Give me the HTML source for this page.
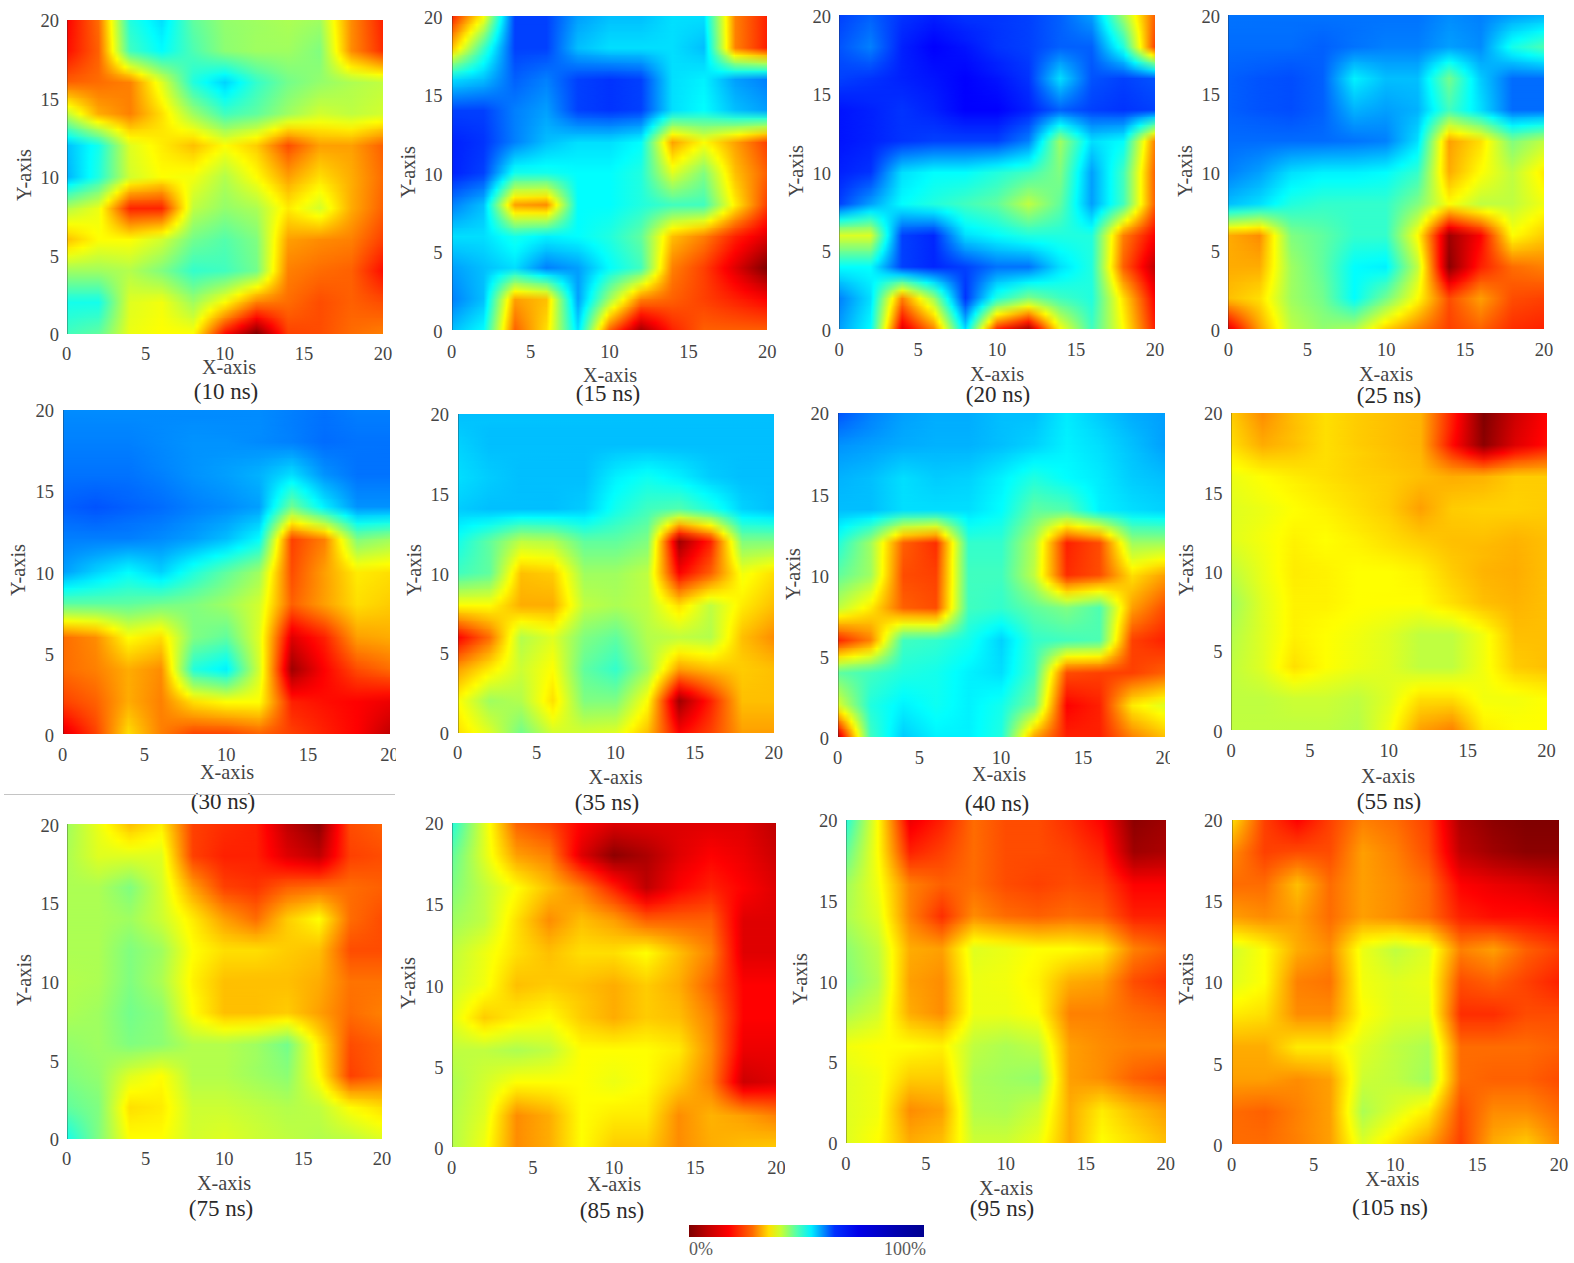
<!DOCTYPE html><html><head><meta charset="utf-8"><title>heatmaps</title><style>
html,body{margin:0;padding:0;background:#fff}
body{width:1574px;height:1263px;position:relative;overflow:hidden;font-family:"Liberation Serif",serif;color:#444}
.hm{position:absolute;overflow:hidden}
.hm b{position:absolute;left:0;top:0;width:1px;height:100%;background:rgba(40,40,40,.35)}
.s{position:absolute;left:0;width:100%;height:2.700%}
.s i{position:absolute;left:0;top:0;width:100%;height:100%;-webkit-mask-image:linear-gradient(180deg,#000,transparent);mask-image:linear-gradient(180deg,#000,transparent)}
.t{position:absolute;white-space:nowrap;line-height:1;font-size:18.5px}
.xt{transform:translate(-50%,-50%)}
.yt{transform:translate(-100%,-50%);margin:1.5px 0 0 -1px}
.xl{transform:translate(-50%,-50%);font-size:20.3px}
.yl{transform:translate(-50%,-50%) rotate(-90deg);font-size:20.3px}
.cap{transform:translate(-50%,-50%);font-size:23px;color:#2a2a2a}
.cb{position:absolute;left:689px;top:1225px;width:234.5px;height:11.5px;background:linear-gradient(90deg,#7d0000 0%,#c00000 8%,#f00 17%,#ff6a00 27%,#ffe000 34%,#c8ff30 39%,#50ffb0 46%,#00f0ff 52%,#0090ff 57%,#0030ff 62%,#0000e8 72%,#0000b0 88%,#000090 100%)}
.cl{position:absolute;font-size:18px;line-height:1;top:1240px;color:#5a5a5a}
.w{position:absolute;background:#fff}
</style></head><body>
<div class="hm" style="left:66.5px;top:19.5px;width:316.5px;height:314.2px;--g0:linear-gradient(90deg,#f00,#ff6c00 10%,#ff0 14%,#20ffdf 20%,#0ff 25%,#00dfff 30%,#0ff 32.5%,#60ff9f 40%,#93ff6c 50%,#acff53 70%,#9fff60 80%,#ff0 84.5%,#ff8c00 90%,#ff2000);--g1:linear-gradient(90deg,#ff0300,#ff6900 10%,#ff0 14.1%,#28ffd7 20%,#0ff 26.2%,#00e7ff 30%,#0ff 32.1%,#5bffa4 40%,#91ff6e 50%,#a9ff56 70%,#97ff68 80%,#ff0 84.7%,#ff8c00 90%,#ff2300);--g2:linear-gradient(90deg,#ff0600,#f60 10%,#ff0 14.2%,#30ffcf 20%,#0ff 27.5%,#00efff 30%,#0ff 31.6%,#56ffa9 40%,#8fff70 50%,#9fff60 60%,#a6ff59 70%,#8fff70 80%,#ff0 84.9%,#ff8c00 90%,#ff2600);--g3:linear-gradient(90deg,#ff0a00,#ff6300 10%,#ff0 14.4%,#38ffc7 20%,#0ff 28.8%,#00f7ff 30%,#0ff 30.9%,#51ffae 40%,#8eff71 50%,#9fff60 60%,#a3ff5c 70%,#87ff78 80%,#ff0 85.1%,#ff8c00 90%,#ff2900);--g4:linear-gradient(90deg,#ff0d00,#ff6000 10%,#ff0 14.5%,#40ffbf 20%,#0ff 30%,#4dffb2 40%,#8cff73 50%,#9fff60 60%,#9fff60 70%,#80ff80 80%,#ff0 85.3%,#ff8c00 90%,#ff2d00);--g5:linear-gradient(90deg,#ff2100,#ff6300 10%,#ff0 15.8%,#8fff70 20%,#38ffc7 30%,#41ffbe 40%,#5effa1 50%,#84ff7b 60%,#94ff6b 70%,#84ff7b 80%,#ff0 86.5%,#ffbe00 90%,#ff7100);--g6:linear-gradient(90deg,#ff3600,#f60 10%,#ff0 18.3%,#dfff20 20%,#70ff8f 30%,#36ffc9 40%,#30ffcf 50%,#69ff96 60%,#89ff76 70%,#89ff76 80%,#ff0 88.8%,#ffef00 90%,#ffb600);--g7:linear-gradient(90deg,#ff4b00,#ff6900 10%,#ffcf00 20%,#ff0 23.5%,#a7ff58 30%,#2bffd4 40%,#02fffd 50%,#4effb1 60%,#7eff81 70%,#8eff71 80%,#deff21 90%,#ff0 98.8%,#fffa00);--g8:linear-gradient(90deg,#ff6000,#ff6c00 10%,#ff8000 20%,#ff0 28%,#dfff20 30%,#20ffdf 40%,#0ff 44.2%,#00d2ff 50%,#0ff 54.7%,#3fc 60%,#73ff8c 70%,#93ff6c 80%,#acff53 90%,#bfff40);--g9:linear-gradient(90deg,#ff9700,#ff7c00 10%,#ff8000 20%,#ff0 28.9%,#efff10 30%,#40ffbf 40%,#0ff 47.8%,#00edff 50%,#0ff 52.2%,#3effc1 60%,#7eff81 70%,#a3ff5c 80%,#c4ff3b);--g10:linear-gradient(90deg,#ffcf00,#ff8c00 10%,#ff8000 20%,#ff0 30%,#60ff9f 40%,#0afff5 50%,#89ff76 70%,#b3ff4c 80%,#b6ff49 90%,#c9ff36);--g11:linear-gradient(90deg,#f7ff08,#ff0 0.7%,#ff9c00 10%,#ff8000 20%,#ffef00 30%,#ff0 31.1%,#80ff80 40%,#25ffda 50%,#54ffab 60%,#94ff6b 70%,#c2ff3d 80%,#baff45 90%,#ceff31);--g12:linear-gradient(90deg,#bfff40,#ff0 4.3%,#ffac00 10%,#ff8000 20%,#ffdf00 30%,#ff0 32.5%,#9fff60 40%,#40ffbf 50%,#60ff9f 60%,#9fff60 70%,#d2ff2d 80%,#bfff40 90%,#d2ff2d);--g13:linear-gradient(90deg,#80ff80,#ff0 9.8%,#ffa700 20%,#ffe200 30%,#ff0 33.4%,#70ff8f 50%,#94ff6b 60%,#e4ff1b 70%,#f5ff0a 80%,#e7ff18 90%,#ff0 97.9%,#fff900);--g14:linear-gradient(90deg,#40ffbf,#b3ff4c 10%,#ff0 16.2%,#ffcf00 20%,#ffe500 30%,#ff0 36.2%,#efff10 40%,#9fff60 50%,#c9ff36 60%,#ff0 65.7%,#ffd600 70%,#ffef00 90%,#ffc600);--g15:linear-gradient(90deg,#0ff,#63ff9c 10%,#ff0 19.5%,#fff700 20%,#ffe900 30%,#ffe700 40%,#ff0 43.3%,#cfff30 50%,#ff0 60.1%,#ff9100 70%,#ffc200 80%,#ffc700 90%,#ff9300);--g16:linear-gradient(90deg,#00bfff,#0ff 7.7%,#13ffec 10%,#dfff20 20%,#ff0 26.2%,#ffbf00 40%,#ff0 50%,#fc0 60%,#ff4c00 70%,#ff9f00 80%,#ff9f00 90%,#ff6000);--g17:linear-gradient(90deg,#00bcff,#0ff 7.5%,#16ffe9 10%,#dcff23 20%,#ff0 27.1%,#fff100 30%,#ffd200 40%,#ff0 47%,#ecff13 50%,#ff0 53.3%,#ffd900 60%,#ff6100 70%,#ffaf00 80%,#ffa300 90%,#ff6300);--g18:linear-gradient(90deg,#00b9ff,#0ff 7.3%,#1affe5 10%,#d9ff26 20%,#ff0 28%,#fff500 30%,#ffe500 40%,#ff0 44%,#d9ff26 50%,#ff0 56%,#ffe500 60%,#ff7600 70%,#ffbf00 80%,#ffa600 90%,#f60);--g19:linear-gradient(90deg,#00b6ff,#0ff 7.2%,#1dffe2 10%,#d6ff29 20%,#ff0 29%,#fffa00 30%,#fff900 40%,#ff0 41%,#c6ff39 50%,#ff0 58.2%,#fff200 60%,#ff8b00 70%,#ffcf00 80%,#ffa900 90%,#ff6900);--g20:linear-gradient(90deg,#00b2ff,#0ff 7.1%,#20ffdf 10%,#d2ff2d 20%,#ff0 30%,#f2ff0d 40%,#b3ff4c 50%,#ff0 60%,#ff9f00 70%,#ffdf00 80%,#ffac00 90%,#ff6c00);--g21:linear-gradient(90deg,#00f2ff,#0ff 1.3%,#53ffac 10%,#ff0 18.9%,#ffe900 20%,#ffc700 30%,#ff0 36.9%,#e6ff19 40%,#abff54 50%,#eaff15 60%,#ff0 62.1%,#ffb300 70%,#fff200 80%,#ff6900);--g22:linear-gradient(90deg,#3fc,#86ff79 10%,#ff0 15.8%,#ffa600 20%,#ff8f00 30%,#ff0 37.4%,#d9ff26 40%,#a3ff5c 50%,#d6ff29 60%,#ff0 64.2%,#ffc600 70%,#ff0 79%,#f9ff06 80%,#ff0 80.7%,#ffac00 90%,#f60);--g23:linear-gradient(90deg,#73ff8c,#b9ff46 10%,#ff0 13.1%,#ff6300 20%,#ff5800 30%,#ff0 37.7%,#cf3 40%,#9bff64 50%,#c1ff3e 60%,#ff0 66.2%,#ffd900 70%,#ff0 76%,#e6ff19 80%,#ff0 82.4%,#ffac00 90%,#ff6300);--g24:linear-gradient(90deg,#b3ff4c,#ecff13 10%,#ff0 10.8%,#ff2000 20%,#ff2000 30%,#ff0 37.8%,#bfff40 40%,#93ff6c 50%,#acff53 60%,#ff0 68.1%,#ffec00 70%,#ff0 73%,#d2ff2d 80%,#ff0 83.5%,#ffac00 90%,#ff6000);--g25:linear-gradient(90deg,#d6ff29,#f1ff0e 10%,#ff0 10.8%,#ff5800 20%,#ff6300 30%,#ff0 36.5%,#acff53 40%,#83ff7c 50%,#a1ff5e 60%,#ff0 67.1%,#ffd900 70%,#ff0 78.9%,#faff05 80%,#ff0 80.5%,#ffa100 90%,#ff5800);--g26:linear-gradient(90deg,#f9ff06,#f5ff0a 10%,#ff0 10.8%,#ff8f00 20%,#ffa600 30%,#ff0 34.7%,#9f6 40%,#73ff8c 50%,#96ff69 60%,#ff0 66.5%,#ffc600 70%,#ffdc00 80%,#ff5000);--g27:linear-gradient(90deg,#ffe200,#ff0 8.6%,#faff05 10%,#ff0 10.8%,#ffc700 20%,#ffe900 30%,#ff0 31.6%,#86ff79 40%,#63ff9c 50%,#8bff74 60%,#ff0 66%,#ffb300 70%,#ffb400 80%,#ff8b00 90%,#ff4800);--g28:linear-gradient(90deg,#ffbf00,#ff0 10%,#ff0 20%,#d2ff2d 30%,#73ff8c 40%,#53ffac 50%,#80ff80 60%,#ff0 65.7%,#ff9f00 70%,#ff8c00 80%,#ff8000 90%,#ff4000);--g29:linear-gradient(90deg,#ffe700,#ff0 5%,#e7ff18 10%,#ecff13 20%,#beff41 30%,#63ff9c 40%,#4effb1 50%,#7cff83 60%,#ff0 65.6%,#ff9700 70%,#ff8400 80%,#ff7800 90%,#f30);--g30:linear-gradient(90deg,#efff10,#cfff30 10%,#d9ff26 20%,#a9ff56 30%,#53ffac 40%,#49ffb6 50%,#79ff86 60%,#ff0 65.5%,#ff8f00 70%,#ff7c00 80%,#ff7000 90%,#ff2600);--g31:linear-gradient(90deg,#c7ff38,#b7ff48 10%,#c6ff39 20%,#94ff6b 30%,#43ffbc 40%,#45ffba 50%,#76ff89 60%,#ff0 65.3%,#ff8700 70%,#ff7400 80%,#ff6800 90%,#ff1900);--g32:linear-gradient(90deg,#9fff60,#9fff60 10%,#b3ff4c 20%,#80ff80 30%,#3fc 40%,#40ffbf 50%,#73ff8c 60%,#ff0 65.2%,#ff8000 70%,#ff6c00 80%,#ff6000 90%,#ff0d00);--g33:linear-gradient(90deg,#7cff83,#7cff83 10%,#beff41 20%,#9cff63 30%,#4effb1 40%,#70ff8f 50%,#b6ff49 60%,#ff0 63.6%,#ff7b00 70%,#ff6400 80%,#ff6000 90%,#ff1d00);--g34:linear-gradient(90deg,#59ffa6,#59ffa6 10%,#c9ff36 20%,#b9ff46 30%,#69ff96 40%,#9fff60 50%,#ff0 60.4%,#ff7600 70%,#ff5c00 80%,#ff6000 90%,#ff2d00);--g35:linear-gradient(90deg,#36ffc9,#36ffc9 10%,#d4ff2b 20%,#d6ff29 30%,#84ff7b 40%,#cfff30 50%,#ff0 54.4%,#ffc200 60%,#ff7100 70%,#ff5400 80%,#ff6000 90%,#ff3d00);--g36:linear-gradient(90deg,#13ffec,#13ffec 10%,#dfff20 20%,#f2ff0d 30%,#9fff60 40%,#ff0 50%,#ff8000 60%,#ff6c00 70%,#ff4c00 80%,#ff6000 90%,#ff4c00);--g37:linear-gradient(90deg,#1effe1,#26ffd9 10%,#e2ff1d 20%,#f5ff0a 30%,#b7ff48 40%,#ff0 45.4%,#ff4000 60%,#ff6100 70%,#ff4c00 80%,#ff6300 90%,#ff5900);--g38:linear-gradient(90deg,#29ffd6,#39ffc6 10%,#e5ff1a 20%,#f9ff06 30%,#cfff30 40%,#ff0 42.8%,#ff8600 50%,#f00 60%,#ff5600 70%,#ff4c00 80%,#f60 90%,#f60);--g39:linear-gradient(90deg,#35ffca,#4dffb2 10%,#e9ff16 20%,#fcff03 30%,#e7ff18 40%,#ff0 41.2%,#ff4900 50%,#f00 55.3%,#bf0000 60%,#f00 64.6%,#ff4b00 70%,#ff4c00 80%,#ff6900 90%,#ff7300);--g40:linear-gradient(90deg,#40ffbf,#60ff9f 10%,#ecff13 20%,#ff0 30%,#ff0 40%,#ff0d00 50%,#f00 50.9%,#800000 60%,#f00 66.7%,#ff4000 70%,#ff4c00 80%,#ff6c00 90%,#ff8000)">
<div class="s" style="top:0%;background:var(--g1)"><i style="background:var(--g0)"></i></div>
<div class="s" style="top:2.5%;background:var(--g2)"><i style="background:var(--g1)"></i></div>
<div class="s" style="top:5%;background:var(--g3)"><i style="background:var(--g2)"></i></div>
<div class="s" style="top:7.5%;background:var(--g4)"><i style="background:var(--g3)"></i></div>
<div class="s" style="top:10%;background:var(--g5)"><i style="background:var(--g4)"></i></div>
<div class="s" style="top:12.5%;background:var(--g6)"><i style="background:var(--g5)"></i></div>
<div class="s" style="top:15%;background:var(--g7)"><i style="background:var(--g6)"></i></div>
<div class="s" style="top:17.5%;background:var(--g8)"><i style="background:var(--g7)"></i></div>
<div class="s" style="top:20%;background:var(--g9)"><i style="background:var(--g8)"></i></div>
<div class="s" style="top:22.5%;background:var(--g10)"><i style="background:var(--g9)"></i></div>
<div class="s" style="top:25%;background:var(--g11)"><i style="background:var(--g10)"></i></div>
<div class="s" style="top:27.5%;background:var(--g12)"><i style="background:var(--g11)"></i></div>
<div class="s" style="top:30%;background:var(--g13)"><i style="background:var(--g12)"></i></div>
<div class="s" style="top:32.5%;background:var(--g14)"><i style="background:var(--g13)"></i></div>
<div class="s" style="top:35%;background:var(--g15)"><i style="background:var(--g14)"></i></div>
<div class="s" style="top:37.5%;background:var(--g16)"><i style="background:var(--g15)"></i></div>
<div class="s" style="top:40%;background:var(--g17)"><i style="background:var(--g16)"></i></div>
<div class="s" style="top:42.5%;background:var(--g18)"><i style="background:var(--g17)"></i></div>
<div class="s" style="top:45%;background:var(--g19)"><i style="background:var(--g18)"></i></div>
<div class="s" style="top:47.5%;background:var(--g20)"><i style="background:var(--g19)"></i></div>
<div class="s" style="top:50%;background:var(--g21)"><i style="background:var(--g20)"></i></div>
<div class="s" style="top:52.5%;background:var(--g22)"><i style="background:var(--g21)"></i></div>
<div class="s" style="top:55%;background:var(--g23)"><i style="background:var(--g22)"></i></div>
<div class="s" style="top:57.5%;background:var(--g24)"><i style="background:var(--g23)"></i></div>
<div class="s" style="top:60%;background:var(--g25)"><i style="background:var(--g24)"></i></div>
<div class="s" style="top:62.5%;background:var(--g26)"><i style="background:var(--g25)"></i></div>
<div class="s" style="top:65%;background:var(--g27)"><i style="background:var(--g26)"></i></div>
<div class="s" style="top:67.5%;background:var(--g28)"><i style="background:var(--g27)"></i></div>
<div class="s" style="top:70%;background:var(--g29)"><i style="background:var(--g28)"></i></div>
<div class="s" style="top:72.5%;background:var(--g30)"><i style="background:var(--g29)"></i></div>
<div class="s" style="top:75%;background:var(--g31)"><i style="background:var(--g30)"></i></div>
<div class="s" style="top:77.5%;background:var(--g32)"><i style="background:var(--g31)"></i></div>
<div class="s" style="top:80%;background:var(--g33)"><i style="background:var(--g32)"></i></div>
<div class="s" style="top:82.5%;background:var(--g34)"><i style="background:var(--g33)"></i></div>
<div class="s" style="top:85%;background:var(--g35)"><i style="background:var(--g34)"></i></div>
<div class="s" style="top:87.5%;background:var(--g36)"><i style="background:var(--g35)"></i></div>
<div class="s" style="top:90%;background:var(--g37)"><i style="background:var(--g36)"></i></div>
<div class="s" style="top:92.5%;background:var(--g38)"><i style="background:var(--g37)"></i></div>
<div class="s" style="top:95%;background:var(--g39)"><i style="background:var(--g38)"></i></div>
<div class="s" style="top:97.5%;background:var(--g40)"><i style="background:var(--g39)"></i></div>
<b></b></div>
<span class="t xt" style="left:66.5px;top:354.0px">0</span>
<span class="t yt" style="left:60.0px;top:333.7px">0</span>
<span class="t xt" style="left:145.6px;top:354.0px">5</span>
<span class="t yt" style="left:60.0px;top:255.1px">5</span>
<span class="t xt" style="left:224.8px;top:354.0px">10</span>
<span class="t yt" style="left:60.0px;top:176.6px">10</span>
<span class="t xt" style="left:303.9px;top:354.0px">15</span>
<span class="t yt" style="left:60.0px;top:98.1px">15</span>
<span class="t xt" style="left:383.0px;top:354.0px">20</span>
<span class="t yt" style="left:60.0px;top:19.5px">20</span>
<span class="t xl" style="left:229.0px;top:367.0px">X-axis</span>
<span class="t yl" style="left:24.0px;top:175.0px">Y-axis</span>
<span class="t cap" style="left:226.0px;top:391.0px">(10 ns)</span>
<div class="hm" style="left:451.7px;top:16.2px;width:315.6px;height:314.3px;--g0:linear-gradient(90deg,#ff2000,#ff0 10%,#0ff 15.7%,#0040ff 20%,#0040ff 30%,#009fff 40%,#00bfff 50%,#00bfff 60%,#00dfff 70%,#00dfff 80%,#0ff 80.8%,#ff0 86.9%,#ff8000 90%,#ff2000);--g1:linear-gradient(90deg,#ff4800,#ff0 7.9%,#cfff30 10%,#0ff 15.2%,#0040ff 20%,#0040ff 30%,#00a7ff 40%,#00c7ff 50%,#00c7ff 60%,#00dfff 70%,#00d7ff 80%,#0ff 80.9%,#ff0 87%,#ff8000 90%,#ff2000);--g2:linear-gradient(90deg,#ff7000,#ff0 6%,#9fff60 10%,#0ff 14.5%,#0040ff 20%,#0040ff 30%,#00afff 40%,#00cfff 50%,#00cfff 60%,#00dfff 70%,#00cfff 80%,#0ff 81.1%,#ff0 87%,#ff8000 90%,#ff2000);--g3:linear-gradient(90deg,#ff9700,#ff0 4.2%,#70ff8f 10%,#0ff 13.7%,#0040ff 20%,#0040ff 30%,#00b7ff 40%,#00d7ff 50%,#00d7ff 60%,#00dfff 70%,#00c7ff 80%,#0ff 81.3%,#ff0 87.1%,#ff8000 90%,#ff2000);--g4:linear-gradient(90deg,#ffbf00,#ff0 2.5%,#0ff 12.5%,#0040ff 20%,#0040ff 30%,#00bfff 40%,#00dfff 50%,#00dfff 70%,#00bfff 80%,#0ff 81.4%,#ff0 87.1%,#ff8000 90%,#ff2000);--g5:linear-gradient(90deg,#e7ff18,#0ff 11.5%,#0048ff 20%,#0050ff 30%,#009fff 40%,#00b4ff 50%,#00b7ff 60%,#00dfff 70%,#0cf 80%,#0ff 81.6%,#ff0 89.7%,#fff700 90%,#ffb700);--g6:linear-gradient(90deg,#8fff70,#0ff 10%,#0050ff 20%,#0060ff 30%,#0080ff 40%,#008fff 60%,#00dfff 70%,#00d9ff 80%,#0ff 82.1%,#8fff70 90%,#afff50);--g7:linear-gradient(90deg,#38ffc7,#0ff 6.4%,#00dfff 10%,#0058ff 20%,#0070ff 30%,#0060ff 40%,#005eff 50%,#0068ff 60%,#00dfff 70%,#00e5ff 80%,#0ff 85.2%,#18ffe7 90%,#18ffe7);--g8:linear-gradient(90deg,#00dfff,#00bfff 10%,#0060ff 20%,#0080ff 30%,#0040ff 40%,#03f 50%,#0040ff 60%,#00dfff 70%,#00f2ff 80%,#009fff 90%,#0080ff);--g9:linear-gradient(90deg,#00b7ff,#009fff 10%,#0068ff 20%,#0087ff 30%,#0040ff 40%,#03f 50%,#0040ff 60%,#00dfff 70%,#00f5ff 80%,#00a7ff 90%,#0087ff);--g10:linear-gradient(90deg,#008fff,#0070ff 20%,#008fff 30%,#0040ff 40%,#03f 50%,#0040ff 60%,#00dfff 70%,#00f9ff 80%,#00afff 90%,#008fff);--g11:linear-gradient(90deg,#0068ff,#0060ff 10%,#0078ff 20%,#0097ff 30%,#0040ff 40%,#03f 50%,#0040ff 60%,#00dfff 70%,#00fcff 80%,#00b7ff 90%,#0097ff);--g12:linear-gradient(90deg,#0040ff,#0040ff 10%,#0080ff 20%,#009fff 30%,#0040ff 40%,#03f 50%,#0040ff 60%,#00dfff 70%,#0ff 80%,#00bfff 90%,#009fff);--g13:linear-gradient(90deg,#0038ff,#003dff 10%,#0080ff 20%,#00a7ff 30%,#0068ff 40%,#005eff 50%,#0070ff 60%,#0ff 66.9%,#40ffbf 70%,#40ffbf 80%,#28ffd7 90%,#28ffd7);--g14:linear-gradient(90deg,#0030ff,#0039ff 10%,#0080ff 20%,#00afff 30%,#008fff 40%,#0089ff 50%,#009fff 60%,#0ff 63.8%,#9fff60 70%,#80ff80 80%,#8fff70 90%,#afff50);--g15:linear-gradient(90deg,#0028ff,#0036ff 10%,#0080ff 20%,#00b7ff 30%,#00b4ff 50%,#00cfff 60%,#0ff 61.6%,#ff0 70%,#bfff40 80%,#ff0 91.2%,#ffc700);--g16:linear-gradient(90deg,#0020ff,#03f 10%,#0080ff 20%,#00bfff 30%,#00dfff 40%,#00dfff 50%,#0ff 60%,#ff0 67.3%,#ff9f00 70%,#ff0 80%,#ff4000);--g17:linear-gradient(90deg,#0020ff,#0036ff 10%,#00a4ff 20%,#00d4ff 30%,#00e7ff 40%,#00e7ff 50%,#0ff 57.5%,#08fff7 60%,#ff0 67.9%,#ffbf00 70%,#ff0 76.7%,#dfff20 80%,#ff0 82.7%,#ffa700 90%,#ff4800);--g18:linear-gradient(90deg,#0020ff,#0039ff 10%,#00c9ff 20%,#00e9ff 30%,#00efff 40%,#00efff 50%,#0ff 55%,#10ffef 60%,#ff0 68.8%,#ffdf00 70%,#ff0 73.3%,#bfff40 80%,#ff0 84.4%,#ffaf00 90%,#ff5000);--g19:linear-gradient(90deg,#0020ff,#003dff 10%,#00edff 20%,#00fdff 30%,#00f7ff 40%,#00f7ff 50%,#0ff 52.5%,#18ffe7 60%,#ff0 70%,#9fff60 80%,#ff0 85.7%,#ffb700 90%,#ff5800);--g20:linear-gradient(90deg,#0020ff,#0040ff 10%,#0ff 19.1%,#13ffec 20%,#13ffec 30%,#0ff 40%,#0ff 50%,#20ffdf 60%,#dfff20 70%,#80ff80 80%,#ff0 86.7%,#ffbf00 90%,#ff6000);--g21:linear-gradient(90deg,#0038ff,#0060ff 10%,#0ff 16.1%,#6f9 20%,#6bff94 30%,#0ff 40%,#0ff 50%,#20ffdf 60%,#b7ff48 70%,#70ff8f 80%,#ff0 87.3%,#ffca00 90%,#ff5800);--g22:linear-gradient(90deg,#0050ff,#0080ff 10%,#0ff 14.1%,#b9ff46 20%,#c2ff3d 30%,#0ff 40%,#0ff 50%,#20ffdf 60%,#8fff70 70%,#60ff9f 80%,#ff0 87.9%,#ffd600 90%,#ff5000);--g23:linear-gradient(90deg,#0068ff,#009fff 10%,#0ff 12.6%,#ff0 19.6%,#fff200 20%,#ffe400 30%,#ff0 31%,#0ff 40%,#0ff 50%,#20ffdf 60%,#68ff97 70%,#50ffaf 80%,#ff0 88.5%,#ffe100 90%,#ff4800);--g24:linear-gradient(90deg,#0080ff,#00bfff 10%,#0ff 11.5%,#ff0 17.7%,#ff9f00 20%,#ff8c00 30%,#ff0 33.1%,#0ff 40%,#0ff 50%,#40ffbf 70%,#40ffbf 80%,#ff0 89.1%,#ffec00 90%,#ff4000);--g25:linear-gradient(90deg,#0097ff,#00c7ff 10%,#0ff 11.7%,#ff0 19.6%,#fff200 20%,#ffec00 30%,#ff0 30.7%,#0ff 40%,#08fff7 50%,#30ffcf 60%,#80ff80 70%,#8fff70 80%,#ff0 86.1%,#ffb900 90%,#ff2800);--g26:linear-gradient(90deg,#00afff,#00cfff 10%,#0ff 12.1%,#b9ff46 20%,#b3ff4c 30%,#0ff 40%,#10ffef 50%,#40ffbf 60%,#bfff40 70%,#dfff20 80%,#ff0 82.1%,#ff8600 90%,#ff1000);--g27:linear-gradient(90deg,#00c7ff,#00d7ff 10%,#0ff 12.8%,#6f9 20%,#53ffac 30%,#0ff 40%,#18ffe7 50%,#50ffaf 60%,#ff0 70%,#ffcf00 80%,#ff5300 90%,#f00 99.1%,#f70000);--g28:linear-gradient(90deg,#00dfff,#00dfff 10%,#0ff 16.2%,#13ffec 20%,#0ff 26%,#00f2ff 30%,#0ff 40%,#20ffdf 50%,#60ff9f 60%,#ff0 67.1%,#ffbf00 70%,#ff8000 80%,#ff2000 90%,#f00 95%,#df0000);--g29:linear-gradient(90deg,#00cfff,#00d7ff 10%,#0ff 18.6%,#06fff9 20%,#0ff 21.3%,#00d6ff 30%,#00e7ff 40%,#0ff 45%,#18ffe7 50%,#58ffa7 60%,#ff0 66.8%,#ffaf00 70%,#ff7000 80%,#ff1000 90%,#f00 92.2%,#c70000);--g30:linear-gradient(90deg,#00bfff,#00cfff 10%,#00f9ff 20%,#00b9ff 30%,#00cfff 40%,#0ff 47.5%,#50ffaf 60%,#ff0 66.5%,#ff9f00 70%,#ff6000 80%,#f00 90%,#af0000);--g31:linear-gradient(90deg,#00afff,#00c7ff 10%,#00ecff 20%,#009cff 30%,#00b7ff 40%,#0ff 49%,#48ffb7 60%,#ff0 66.2%,#ff8f00 70%,#ff5000 80%,#f00 88.3%,#970000);--g32:linear-gradient(90deg,#009fff,#00dfff 20%,#0080ff 30%,#009fff 40%,#0ff 50%,#40ffbf 60%,#ff0 66%,#ff8000 70%,#ff4000 80%,#f00 86.7%,#800000);--g33:linear-gradient(90deg,#0097ff,#00bfff 10%,#0ff 15%,#40ffbf 20%,#0ff 28%,#009fff 40%,#0ff 47.1%,#28ffd7 50%,#8fff70 60%,#ff0 64.5%,#ff7800 70%,#ff4000 80%,#f00 88%,#9f0000);--g34:linear-gradient(90deg,#008fff,#00bfff 10%,#0ff 12.9%,#9fff60 20%,#60ff9f 30%,#0ff 35%,#009fff 40%,#0ff 45.5%,#50ffaf 50%,#dfff20 60%,#ff0 61.8%,#ff7000 70%,#ff4000 80%,#f00 90%,#bf0000);--g35:linear-gradient(90deg,#0087ff,#00bfff 10%,#0ff 12%,#ff0 20%,#cfff30 30%,#0ff 36.8%,#009fff 40%,#0ff 44.4%,#78ff87 50%,#ff0 57.4%,#ffcf00 60%,#ff6800 70%,#ff4000 80%,#f00 93.3%,#df0000);--g36:linear-gradient(90deg,#0080ff,#00bfff 10%,#0ff 11.5%,#ff0 17.7%,#ff9f00 20%,#ffbf00 30%,#ff0 31.5%,#0ff 37.7%,#009fff 40%,#0ff 43.8%,#9fff60 50%,#ff0 54.3%,#ff8000 60%,#f00);--g37:linear-gradient(90deg,#008fff,#00cfff 10%,#0ff 11.2%,#ff0 17.3%,#ff8f00 20%,#ffc700 30%,#ff0 31.4%,#0ff 38%,#00afff 40%,#0ff 42.6%,#dfff20 50%,#ff0 51.5%,#ff4800 60%,#ff5000 70%,#ff4800 80%,#ff1800);--g38:linear-gradient(90deg,#009fff,#00dfff 10%,#0ff 10.8%,#ff0 16.9%,#ff8000 20%,#ffcf00 30%,#ff0 31.3%,#0ff 38.3%,#00bfff 40%,#0ff 41.8%,#ff0 49.1%,#ffdf00 50%,#ff1000 60%,#ff4000 70%,#ff5000 80%,#ff3000);--g39:linear-gradient(90deg,#00afff,#00efff 10%,#0ff 10.4%,#ff0 16.5%,#ff7000 20%,#ffd700 30%,#ff0 31.2%,#0ff 38.6%,#00cfff 40%,#0ff 41.2%,#ff0 47.6%,#ff9f00 50%,#f00 58%,#d70000 60%,#f00 64.5%,#ff3000 70%,#ff5800 80%,#ff4800);--g40:linear-gradient(90deg,#00bfff,#0ff 10%,#ff0 16.2%,#ff6000 20%,#ffdf00 30%,#ff0 31%,#0ff 39%,#00dfff 40%,#0ff 40.7%,#ff0 46.4%,#ff6000 50%,#f00 55%,#9f0000 60%,#f00 67.5%,#ff2000 70%,#ff6000 80%,#ff6000)">
<div class="s" style="top:0%;background:var(--g1)"><i style="background:var(--g0)"></i></div>
<div class="s" style="top:2.5%;background:var(--g2)"><i style="background:var(--g1)"></i></div>
<div class="s" style="top:5%;background:var(--g3)"><i style="background:var(--g2)"></i></div>
<div class="s" style="top:7.5%;background:var(--g4)"><i style="background:var(--g3)"></i></div>
<div class="s" style="top:10%;background:var(--g5)"><i style="background:var(--g4)"></i></div>
<div class="s" style="top:12.5%;background:var(--g6)"><i style="background:var(--g5)"></i></div>
<div class="s" style="top:15%;background:var(--g7)"><i style="background:var(--g6)"></i></div>
<div class="s" style="top:17.5%;background:var(--g8)"><i style="background:var(--g7)"></i></div>
<div class="s" style="top:20%;background:var(--g9)"><i style="background:var(--g8)"></i></div>
<div class="s" style="top:22.5%;background:var(--g10)"><i style="background:var(--g9)"></i></div>
<div class="s" style="top:25%;background:var(--g11)"><i style="background:var(--g10)"></i></div>
<div class="s" style="top:27.5%;background:var(--g12)"><i style="background:var(--g11)"></i></div>
<div class="s" style="top:30%;background:var(--g13)"><i style="background:var(--g12)"></i></div>
<div class="s" style="top:32.5%;background:var(--g14)"><i style="background:var(--g13)"></i></div>
<div class="s" style="top:35%;background:var(--g15)"><i style="background:var(--g14)"></i></div>
<div class="s" style="top:37.5%;background:var(--g16)"><i style="background:var(--g15)"></i></div>
<div class="s" style="top:40%;background:var(--g17)"><i style="background:var(--g16)"></i></div>
<div class="s" style="top:42.5%;background:var(--g18)"><i style="background:var(--g17)"></i></div>
<div class="s" style="top:45%;background:var(--g19)"><i style="background:var(--g18)"></i></div>
<div class="s" style="top:47.5%;background:var(--g20)"><i style="background:var(--g19)"></i></div>
<div class="s" style="top:50%;background:var(--g21)"><i style="background:var(--g20)"></i></div>
<div class="s" style="top:52.5%;background:var(--g22)"><i style="background:var(--g21)"></i></div>
<div class="s" style="top:55%;background:var(--g23)"><i style="background:var(--g22)"></i></div>
<div class="s" style="top:57.5%;background:var(--g24)"><i style="background:var(--g23)"></i></div>
<div class="s" style="top:60%;background:var(--g25)"><i style="background:var(--g24)"></i></div>
<div class="s" style="top:62.5%;background:var(--g26)"><i style="background:var(--g25)"></i></div>
<div class="s" style="top:65%;background:var(--g27)"><i style="background:var(--g26)"></i></div>
<div class="s" style="top:67.5%;background:var(--g28)"><i style="background:var(--g27)"></i></div>
<div class="s" style="top:70%;background:var(--g29)"><i style="background:var(--g28)"></i></div>
<div class="s" style="top:72.5%;background:var(--g30)"><i style="background:var(--g29)"></i></div>
<div class="s" style="top:75%;background:var(--g31)"><i style="background:var(--g30)"></i></div>
<div class="s" style="top:77.5%;background:var(--g32)"><i style="background:var(--g31)"></i></div>
<div class="s" style="top:80%;background:var(--g33)"><i style="background:var(--g32)"></i></div>
<div class="s" style="top:82.5%;background:var(--g34)"><i style="background:var(--g33)"></i></div>
<div class="s" style="top:85%;background:var(--g35)"><i style="background:var(--g34)"></i></div>
<div class="s" style="top:87.5%;background:var(--g36)"><i style="background:var(--g35)"></i></div>
<div class="s" style="top:90%;background:var(--g37)"><i style="background:var(--g36)"></i></div>
<div class="s" style="top:92.5%;background:var(--g38)"><i style="background:var(--g37)"></i></div>
<div class="s" style="top:95%;background:var(--g39)"><i style="background:var(--g38)"></i></div>
<div class="s" style="top:97.5%;background:var(--g40)"><i style="background:var(--g39)"></i></div>
<b></b></div>
<span class="t xt" style="left:451.7px;top:351.6px">0</span>
<span class="t yt" style="left:443.6px;top:330.5px">0</span>
<span class="t xt" style="left:530.6px;top:351.6px">5</span>
<span class="t yt" style="left:443.6px;top:251.9px">5</span>
<span class="t xt" style="left:609.5px;top:351.6px">10</span>
<span class="t yt" style="left:443.6px;top:173.3px">10</span>
<span class="t xt" style="left:688.4px;top:351.6px">15</span>
<span class="t yt" style="left:443.6px;top:94.8px">15</span>
<span class="t xt" style="left:767.3px;top:351.6px">20</span>
<span class="t yt" style="left:443.6px;top:16.2px">20</span>
<span class="t xl" style="left:610.0px;top:375.0px">X-axis</span>
<span class="t yl" style="left:408.0px;top:172.0px">Y-axis</span>
<span class="t cap" style="left:608.0px;top:393.0px">(15 ns)</span>
<div class="hm" style="left:839.1px;top:15.3px;width:315.9px;height:314.2px;--g0:linear-gradient(90deg,#0040ff,#0060ff 10%,#03f 20%,#0020ff 30%,#03f 40%,#03f 50%,#0040ff 60%,#0060ff 70%,#009fff 80%,#0ff 83.8%,#ff0 93.8%,#ff6000);--g1:linear-gradient(90deg,#0045ff,#0068ff 10%,#002eff 20%,#0018ff 30%,#002bff 40%,#0040ff 60%,#0060ff 70%,#008fff 80%,#0ff 84.7%,#80ff80 90%,#ff0 94.3%,#ff5800);--g2:linear-gradient(90deg,#0049ff,#0070ff 10%,#0029ff 20%,#0010ff 30%,#03f 50%,#0040ff 60%,#0080ff 80%,#0ff 85.7%,#60ff9f 90%,#ff0 94.8%,#ff5000);--g3:linear-gradient(90deg,#004eff,#0078ff 10%,#0025ff 20%,#0008ff 30%,#03f 50%,#0040ff 60%,#0060ff 70%,#0070ff 80%,#0ff 86.9%,#40ffbf 90%,#ff0 95.1%,#ff4800);--g4:linear-gradient(90deg,#0053ff,#0080ff 10%,#0020ff 20%,#00f 30%,#0013ff 40%,#03f 50%,#0040ff 60%,#0060ff 70%,#0060ff 80%,#0ff 88.3%,#20ffdf 90%,#ff0 95.4%,#ff4000);--g5:linear-gradient(90deg,#004eff,#006cff 10%,#0020ff 20%,#0005ff 30%,#000eff 40%,#002bff 50%,#003dff 60%,#0080ff 70%,#005cff 80%,#00e7ff 90%,#0ff 90.8%,#ff0 98.8%,#ffda00);--g6:linear-gradient(90deg,#0049ff,#0059ff 10%,#0020ff 20%,#000aff 30%,#000aff 40%,#0039ff 60%,#009fff 70%,#0059ff 80%,#00afff 90%,#0ff 93.7%,#89ff76);--g7:linear-gradient(90deg,#0045ff,#0046ff 10%,#0020ff 20%,#000eff 30%,#0005ff 40%,#0036ff 60%,#00bfff 70%,#0056ff 80%,#0078ff 90%,#00edff);--g8:linear-gradient(90deg,#0040ff,#03f 10%,#0020ff 20%,#0013ff 30%,#00f 40%,#0013ff 50%,#03f 60%,#00dfff 70%,#0053ff 80%,#0040ff 90%,#0053ff);--g9:linear-gradient(90deg,#0035ff,#0025ff 20%,#0016ff 30%,#00f 40%,#000eff 50%,#002eff 60%,#00bfff 70%,#004eff 80%,#003dff 90%,#004eff);--g10:linear-gradient(90deg,#0029ff,#0029ff 20%,#001aff 30%,#00f 40%,#000aff 50%,#0029ff 60%,#009fff 70%,#0049ff 80%,#0039ff 90%,#0049ff);--g11:linear-gradient(90deg,#001eff,#002eff 20%,#001dff 30%,#00f 40%,#0005ff 50%,#0025ff 60%,#0080ff 70%,#0045ff 80%,#0036ff 90%,#0045ff);--g12:linear-gradient(90deg,#0013ff,#0020ff 10%,#03f 20%,#0020ff 30%,#00f 40%,#00f 50%,#0020ff 60%,#0060ff 70%,#0040ff 80%,#03f 90%,#0040ff);--g13:linear-gradient(90deg,#0013ff,#0020ff 10%,#03f 20%,#0028ff 30%,#0010ff 40%,#0010ff 50%,#0038ff 60%,#00afff 70%,#0068ff 80%,#06f 90%,#00cfff);--g14:linear-gradient(90deg,#0013ff,#0020ff 10%,#03f 20%,#0030ff 30%,#0020ff 40%,#0020ff 50%,#0050ff 60%,#0ff 70%,#008fff 80%,#09f 90%,#0ff 95.2%,#60ff9f);--g15:linear-gradient(90deg,#0013ff,#0020ff 10%,#03f 20%,#0038ff 30%,#0030ff 40%,#0030ff 50%,#0068ff 60%,#0ff 66.6%,#50ffaf 70%,#0ff 75.3%,#00b7ff 80%,#0cf 90%,#0ff 91.8%,#efff10);--g16:linear-gradient(90deg,#0013ff,#0020ff 10%,#03f 20%,#0040ff 30%,#0040ff 50%,#0080ff 60%,#0ff 64.4%,#9fff60 70%,#0ff 78.3%,#00dfff 80%,#0ff 90%,#ff0 96.7%,#ff8000);--g17:linear-gradient(90deg,#0016ff,#0025ff 10%,#005eff 20%,#0070ff 30%,#0070ff 40%,#0078ff 50%,#00afff 60%,#0ff 63.4%,#97ff68 70%,#0ff 77.6%,#00cfff 80%,#0ff 87.5%,#10ffef 90%,#ff0 96.4%,#ff7800);--g18:linear-gradient(90deg,#001aff,#0029ff 10%,#0089ff 20%,#009fff 30%,#009fff 40%,#00afff 50%,#00dfff 60%,#0ff 61.8%,#8fff70 70%,#0ff 76.9%,#00bfff 80%,#0ff 86.7%,#20ffdf 90%,#ff0 96.1%,#ff7000);--g19:linear-gradient(90deg,#001dff,#002eff 10%,#00b4ff 20%,#00cfff 30%,#00cfff 40%,#00e7ff 50%,#0ff 56%,#10ffef 60%,#87ff78 70%,#0ff 76.3%,#00afff 80%,#0ff 86.2%,#30ffcf 90%,#ff0 95.8%,#ff6800);--g20:linear-gradient(90deg,#0020ff,#03f 10%,#00dfff 20%,#0ff 30%,#0ff 40%,#40ffbf 60%,#80ff80 70%,#0ff 75.7%,#009fff 80%,#0ff 86%,#40ffbf 90%,#ff0 95.5%,#ff6000);--g21:linear-gradient(90deg,#0028ff,#004eff 10%,#00e7ff 20%,#0ff 27.5%,#08fff7 30%,#10ffef 40%,#30ffcf 50%,#60ff9f 60%,#78ff87 70%,#0ff 75.6%,#009fff 80%,#0ff 86%,#40ffbf 90%,#ff0 95.5%,#ff6000);--g22:linear-gradient(90deg,#0030ff,#0069ff 10%,#00efff 20%,#0ff 25%,#10ffef 30%,#20ffdf 40%,#40ffbf 50%,#80ff80 60%,#70ff8f 70%,#0ff 75.4%,#009fff 80%,#0ff 86%,#40ffbf 90%,#ff0 95.5%,#ff6000);--g23:linear-gradient(90deg,#0038ff,#0084ff 10%,#00f7ff 20%,#0ff 22.5%,#18ffe7 30%,#30ffcf 40%,#50ffaf 50%,#9fff60 60%,#68ff97 70%,#0ff 75.2%,#009fff 80%,#0ff 86%,#40ffbf 90%,#ff0 95.5%,#ff6000);--g24:linear-gradient(90deg,#0040ff,#0ff 20%,#60ff9f 50%,#bfff40 60%,#60ff9f 70%,#0ff 75%,#009fff 80%,#0ff 86%,#40ffbf 90%,#ff0 95.5%,#ff6000);--g25:linear-gradient(90deg,#00a7ff,#00efff 10%,#00cfff 20%,#00e1ff 30%,#0ff 34.3%,#28ffd7 40%,#48ffb7 50%,#97ff68 60%,#50ffaf 70%,#0ff 75.6%,#00bfff 80%,#0ff 83.1%,#8fff70 90%,#ff0 93.8%,#ff4800);--g26:linear-gradient(90deg,#10ffef,#40ffbf 10%,#0ff 14%,#009fff 20%,#00a3ff 30%,#0ff 38.5%,#10ffef 40%,#30ffcf 50%,#70ff8f 60%,#40ffbf 70%,#0ff 76.7%,#00dfff 80%,#0ff 81.2%,#ff0 91.3%,#ff3000);--g27:linear-gradient(90deg,#78ff87,#8fff70 10%,#0ff 15%,#0070ff 20%,#0064ff 30%,#00f7ff 40%,#0ff 42.5%,#18ffe7 50%,#48ffb7 60%,#30ffcf 70%,#0ff 80%,#ff0 88.4%,#ffcf00 90%,#ff1800);--g28:linear-gradient(90deg,#dfff20,#dfff20 10%,#0ff 15.4%,#0040ff 20%,#0026ff 30%,#00dfff 40%,#0ff 50%,#20ffdf 60%,#20ffdf 80%,#ff0 86.4%,#ff8000 90%,#f00);--g29:linear-gradient(90deg,#a7ff58,#a7ff58 10%,#0ff 14.7%,#0040ff 20%,#0026ff 30%,#00b7ff 40%,#00dcff 50%,#0ff 64.1%,#10ffef 70%,#20ffdf 80%,#ff0 86.2%,#ff7800 90%,#f00 98.8%,#ef0000);--g30:linear-gradient(90deg,#70ff8f,#70ff8f 10%,#0ff 13.7%,#0040ff 20%,#0026ff 30%,#008fff 40%,#00b9ff 50%,#00c9ff 60%,#0ff 70%,#20ffdf 80%,#ff0 86.1%,#ff7000 90%,#f00 97.8%,#df0000);--g31:linear-gradient(90deg,#38ffc7,#38ffc7 10%,#0ff 12.3%,#0040ff 20%,#0026ff 30%,#0068ff 40%,#0096ff 50%,#009eff 60%,#00efff 70%,#0ff 73.3%,#20ffdf 80%,#ff0 86%,#ff6800 90%,#f00 96.8%,#cf0000);--g32:linear-gradient(90deg,#0ff,#0ff 10%,#0040ff 20%,#0026ff 30%,#0040ff 40%,#0073ff 50%,#0073ff 60%,#00dfff 70%,#0ff 75%,#20ffdf 80%,#ff0 85.8%,#ff6000 90%,#f00 96%,#bf0000);--g33:linear-gradient(90deg,#00dfff,#00f7ff 10%,#00cfff 20%,#003dff 40%,#009eff 50%,#00b6ff 60%,#00f7ff 70%,#0ff 72%,#20ffdf 80%,#ff0 86.4%,#ff8000 90%,#f00 97.3%,#cf0000);--g34:linear-gradient(90deg,#00bfff,#00efff 10%,#0ff 11.4%,#60ff9f 20%,#0ff 27.7%,#00e2ff 30%,#0039ff 40%,#00c9ff 50%,#00f9ff 60%,#0ff 62.9%,#10ffef 70%,#20ffdf 80%,#ff0 87%,#ff9f00 90%,#f00 98.3%,#df0000);--g35:linear-gradient(90deg,#009fff,#00e7ff 10%,#0ff 10.9%,#efff10 20%,#41ffbe 30%,#0ff 32.5%,#0036ff 40%,#00f4ff 50%,#0ff 51.6%,#3dffc2 60%,#28ffd7 70%,#20ffdf 80%,#ff0 87.8%,#ffbf00 90%,#f00 99.2%,#ef0000);--g36:linear-gradient(90deg,#0080ff,#00dfff 10%,#0ff 10.8%,#ff0 16.9%,#ff8000 20%,#ff0 25.7%,#9fff60 30%,#0ff 34.4%,#03f 40%,#0ff 48.6%,#20ffdf 50%,#80ff80 60%,#40ffbf 70%,#20ffdf 80%,#ff0 88.8%,#ffdf00 90%,#f00);--g37:linear-gradient(90deg,#0087ff,#00e7ff 10%,#0ff 10.5%,#ff0 16.2%,#ff5800 20%,#ff0 28.1%,#d7ff28 30%,#0ff 35.7%,#005eff 40%,#0ff 45.3%,#8fff70 50%,#f7ff08 60%,#70ff8f 70%,#28ffd7 80%,#ff0 89%,#ff0800);--g38:linear-gradient(90deg,#008fff,#00efff 10%,#0ff 10.3%,#ff0 15.7%,#ff3000 20%,#ffef00 30%,#ff0 30.4%,#0ff 37%,#0089ff 40%,#0ff 43.2%,#ff0 50%,#ff8f00 60%,#ff0 65.4%,#9fff60 70%,#30ffcf 80%,#ff0 89.3%,#ff1000);--g39:linear-gradient(90deg,#0097ff,#00f7ff 10%,#0ff 10.2%,#ff0 15.2%,#ff0800 20%,#ffb700 30%,#ff0 31.8%,#0ff 38.1%,#00b4ff 40%,#0ff 41.7%,#ff0 47.5%,#ff8f00 50%,#ff1800 60%,#ff0 68.3%,#cfff30 70%,#38ffc7 80%,#ff0 89.6%,#ff1800);--g40:linear-gradient(90deg,#009fff,#0ff 10%,#ff0 14.7%,#f00 19.4%,#df0000 20%,#f00 22%,#ff8000 30%,#ff0 33.1%,#0ff 39.2%,#00dfff 40%,#0ff 40.6%,#ff0 45.6%,#ff2000 50%,#f00 52.5%,#9f0000 60%,#f00 62.7%,#ff0 70%,#40ffbf 80%,#ff0 90%,#ff2000)">
<div class="s" style="top:0%;background:var(--g1)"><i style="background:var(--g0)"></i></div>
<div class="s" style="top:2.5%;background:var(--g2)"><i style="background:var(--g1)"></i></div>
<div class="s" style="top:5%;background:var(--g3)"><i style="background:var(--g2)"></i></div>
<div class="s" style="top:7.5%;background:var(--g4)"><i style="background:var(--g3)"></i></div>
<div class="s" style="top:10%;background:var(--g5)"><i style="background:var(--g4)"></i></div>
<div class="s" style="top:12.5%;background:var(--g6)"><i style="background:var(--g5)"></i></div>
<div class="s" style="top:15%;background:var(--g7)"><i style="background:var(--g6)"></i></div>
<div class="s" style="top:17.5%;background:var(--g8)"><i style="background:var(--g7)"></i></div>
<div class="s" style="top:20%;background:var(--g9)"><i style="background:var(--g8)"></i></div>
<div class="s" style="top:22.5%;background:var(--g10)"><i style="background:var(--g9)"></i></div>
<div class="s" style="top:25%;background:var(--g11)"><i style="background:var(--g10)"></i></div>
<div class="s" style="top:27.5%;background:var(--g12)"><i style="background:var(--g11)"></i></div>
<div class="s" style="top:30%;background:var(--g13)"><i style="background:var(--g12)"></i></div>
<div class="s" style="top:32.5%;background:var(--g14)"><i style="background:var(--g13)"></i></div>
<div class="s" style="top:35%;background:var(--g15)"><i style="background:var(--g14)"></i></div>
<div class="s" style="top:37.5%;background:var(--g16)"><i style="background:var(--g15)"></i></div>
<div class="s" style="top:40%;background:var(--g17)"><i style="background:var(--g16)"></i></div>
<div class="s" style="top:42.5%;background:var(--g18)"><i style="background:var(--g17)"></i></div>
<div class="s" style="top:45%;background:var(--g19)"><i style="background:var(--g18)"></i></div>
<div class="s" style="top:47.5%;background:var(--g20)"><i style="background:var(--g19)"></i></div>
<div class="s" style="top:50%;background:var(--g21)"><i style="background:var(--g20)"></i></div>
<div class="s" style="top:52.5%;background:var(--g22)"><i style="background:var(--g21)"></i></div>
<div class="s" style="top:55%;background:var(--g23)"><i style="background:var(--g22)"></i></div>
<div class="s" style="top:57.5%;background:var(--g24)"><i style="background:var(--g23)"></i></div>
<div class="s" style="top:60%;background:var(--g25)"><i style="background:var(--g24)"></i></div>
<div class="s" style="top:62.5%;background:var(--g26)"><i style="background:var(--g25)"></i></div>
<div class="s" style="top:65%;background:var(--g27)"><i style="background:var(--g26)"></i></div>
<div class="s" style="top:67.5%;background:var(--g28)"><i style="background:var(--g27)"></i></div>
<div class="s" style="top:70%;background:var(--g29)"><i style="background:var(--g28)"></i></div>
<div class="s" style="top:72.5%;background:var(--g30)"><i style="background:var(--g29)"></i></div>
<div class="s" style="top:75%;background:var(--g31)"><i style="background:var(--g30)"></i></div>
<div class="s" style="top:77.5%;background:var(--g32)"><i style="background:var(--g31)"></i></div>
<div class="s" style="top:80%;background:var(--g33)"><i style="background:var(--g32)"></i></div>
<div class="s" style="top:82.5%;background:var(--g34)"><i style="background:var(--g33)"></i></div>
<div class="s" style="top:85%;background:var(--g35)"><i style="background:var(--g34)"></i></div>
<div class="s" style="top:87.5%;background:var(--g36)"><i style="background:var(--g35)"></i></div>
<div class="s" style="top:90%;background:var(--g37)"><i style="background:var(--g36)"></i></div>
<div class="s" style="top:92.5%;background:var(--g38)"><i style="background:var(--g37)"></i></div>
<div class="s" style="top:95%;background:var(--g39)"><i style="background:var(--g38)"></i></div>
<div class="s" style="top:97.5%;background:var(--g40)"><i style="background:var(--g39)"></i></div>
<b></b></div>
<span class="t xt" style="left:839.1px;top:350.0px">0</span>
<span class="t yt" style="left:832.0px;top:329.5px">0</span>
<span class="t xt" style="left:918.1px;top:350.0px">5</span>
<span class="t yt" style="left:832.0px;top:250.9px">5</span>
<span class="t xt" style="left:997.0px;top:350.0px">10</span>
<span class="t yt" style="left:832.0px;top:172.4px">10</span>
<span class="t xt" style="left:1076.0px;top:350.0px">15</span>
<span class="t yt" style="left:832.0px;top:93.9px">15</span>
<span class="t xt" style="left:1155.0px;top:350.0px">20</span>
<span class="t yt" style="left:832.0px;top:15.3px">20</span>
<span class="t xl" style="left:997.0px;top:374.0px">X-axis</span>
<span class="t yl" style="left:795.6px;top:171.0px">Y-axis</span>
<span class="t cap" style="left:998.0px;top:394.0px">(20 ns)</span>
<div class="hm" style="left:1228.4px;top:15.3px;width:315.6px;height:314.2px;--g0:linear-gradient(90deg,#0073ff,#0073ff 60%,#008cff 70%,#0080ff 80%,#009fff 90%,#00b2ff);--g1:linear-gradient(90deg,#0071ff,#006eff 30%,#0076ff 50%,#0076ff 60%,#0091ff 70%,#0083ff 80%,#00bcff 90%,#00d9ff);--g2:linear-gradient(90deg,#0070ff,#0070ff 20%,#0069ff 30%,#0079ff 50%,#0079ff 60%,#0096ff 70%,#0086ff 80%,#00d9ff 90%,#0ff);--g3:linear-gradient(90deg,#006eff,#006eff 20%,#0064ff 30%,#0073ff 40%,#007cff 50%,#007cff 60%,#009bff 70%,#0089ff 80%,#00f5ff 90%,#0ff 92%,#26ffd9);--g4:linear-gradient(90deg,#006cff,#006cff 20%,#0060ff 30%,#0073ff 40%,#0080ff 50%,#0080ff 60%,#009fff 70%,#008cff 80%,#0ff 88.6%,#13ffec 90%,#4dffb2);--g5:linear-gradient(90deg,#0069ff,#0060ff 30%,#0093ff 40%,#008fff 60%,#00d4ff 70%,#009cff 80%,#00e9ff 90%,#0ff 95.2%,#15ffea);--g6:linear-gradient(90deg,#06f,#005cff 20%,#0060ff 30%,#00b2ff 40%,#009fff 50%,#009fff 60%,#0ff 69.1%,#0afff5 70%,#0ff 71%,#00acff 80%,#00bfff 90%,#00dcff);--g7:linear-gradient(90deg,#0063ff,#0054ff 20%,#0060ff 30%,#00d2ff 40%,#00afff 50%,#00afff 60%,#0ff 65.6%,#3effc1 70%,#0ff 74.8%,#00bcff 80%,#0096ff 90%,#00a4ff);--g8:linear-gradient(90deg,#0060ff,#0053ff 10%,#004dff 20%,#0060ff 30%,#00f2ff 40%,#00bfff 50%,#00bfff 60%,#0ff 63.6%,#73ff8c 70%,#0ff 76.9%,#0cf 80%,#006cff 90%,#006cff);--g9:linear-gradient(90deg,#0060ff,#0053ff 10%,#004dff 20%,#0060ff 30%,#00e2ff 40%,#00b7ff 50%,#00bcff 60%,#0ff 64%,#6f9 70%,#0ff 76.9%,#00d1ff 80%,#006cff 90%,#006cff);--g10:linear-gradient(90deg,#0060ff,#0053ff 10%,#004dff 20%,#0060ff 30%,#00d2ff 40%,#00afff 50%,#00b9ff 60%,#0ff 64.4%,#59ffa6 70%,#0ff 76.8%,#00d6ff 80%,#006cff 90%,#006cff);--g11:linear-gradient(90deg,#0060ff,#0053ff 10%,#004dff 20%,#0060ff 30%,#00c2ff 40%,#00a7ff 50%,#00b6ff 60%,#0ff 64.9%,#4dffb2 70%,#0ff 76.8%,#006cff 90%,#006cff);--g12:linear-gradient(90deg,#0060ff,#0053ff 10%,#004dff 20%,#0060ff 30%,#00b2ff 40%,#009fff 50%,#00b2ff 60%,#0ff 65.5%,#40ffbf 70%,#0ff 76.7%,#00dfff 80%,#006cff 90%,#006cff);--g13:linear-gradient(90deg,#0063ff,#0054ff 20%,#0063ff 30%,#00a3ff 40%,#0097ff 50%,#00beff 60%,#0ff 63.3%,#87ff78 70%,#30ffcf 80%,#0ff 83.8%,#00b1ff 90%,#00c1ff);--g14:linear-gradient(90deg,#06f,#005cff 20%,#06f 30%,#0093ff 40%,#008fff 50%,#00c9ff 60%,#0ff 62.1%,#cfff30 70%,#80ff80 80%,#0ff 89.3%,#00f5ff 90%,#0ff 93%,#16ffe9);--g15:linear-gradient(90deg,#0069ff,#0064ff 20%,#0069ff 30%,#0083ff 40%,#0087ff 50%,#00d4ff 60%,#0ff 61.3%,#ff0 69.3%,#ffe700 70%,#ff0 73.3%,#cfff30 80%,#3bffc4 90%,#6bff94);--g16:linear-gradient(90deg,#006cff,#006cff 30%,#0073ff 40%,#0080ff 50%,#00dfff 60%,#0ff 60.8%,#ff0 67.5%,#ff9f00 70%,#ffdf00 80%,#ff0 82%,#80ff80 90%,#bfff40);--g17:linear-gradient(90deg,#0071ff,#0079ff 10%,#0089ff 20%,#0093ff 40%,#009fff 50%,#00f4ff 60%,#0ff 60.3%,#ff0 67.4%,#ffa300 70%,#ffe700 80%,#ff0 81.8%,#8fff70 90%,#d4ff2b);--g18:linear-gradient(90deg,#0076ff,#0086ff 10%,#00a6ff 20%,#00afff 30%,#00b2ff 40%,#00bfff 50%,#0ff 58.7%,#0afff5 60%,#ff0 67.3%,#ffa600 70%,#ffef00 80%,#ff0 81.4%,#9fff60 90%,#e9ff16);--g19:linear-gradient(90deg,#007bff,#0093ff 10%,#00c2ff 20%,#00d1ff 30%,#00d2ff 40%,#00dfff 50%,#0ff 55.1%,#1effe1 60%,#ff0 67.2%,#ffa900 70%,#ff0 80.9%,#afff50 90%,#fdff02);--g20:linear-gradient(90deg,#0080ff,#009fff 10%,#00dfff 20%,#00f2ff 30%,#00f2ff 40%,#0ff 50%,#3fc 60%,#ff0 67.1%,#ffac00 70%,#ff0 80%,#bfff40 90%,#ff0 97.7%,#ffec00);--g21:linear-gradient(90deg,#008fff,#00afff 10%,#00efff 20%,#0ff 28.3%,#03fffc 30%,#03fffc 40%,#0dfff2 50%,#46ffb9 60%,#ff0 67.5%,#ffc100 70%,#ff0 78%,#efff10 80%,#bfff40 90%,#ff0 98.5%,#fff400);--g22:linear-gradient(90deg,#009fff,#00bfff 10%,#0ff 20%,#13ffec 30%,#13ffec 40%,#1affe5 50%,#59ffa6 60%,#ff0 68%,#ffd600 70%,#ff0 75.7%,#dfff20 80%,#bfff40 90%,#ff0 99.5%,#fffc00);--g23:linear-gradient(90deg,#00afff,#00cfff 10%,#0ff 17.5%,#10ffef 20%,#23ffdc 30%,#26ffd9 50%,#6cff93 60%,#ff0 68.8%,#ffea00 70%,#ff0 73%,#cfff30 80%,#bfff40 90%,#faff05);--g24:linear-gradient(90deg,#00bfff,#00dfff 10%,#0ff 15%,#20ffdf 20%,#3fc 30%,#3fc 50%,#80ff80 60%,#ff0 70%,#bfff40 80%,#bfff40 90%,#f2ff0d);--g25:linear-gradient(90deg,#25ffda,#45ffba 10%,#38ffc7 20%,#3effc1 30%,#3fc 40%,#3fc 50%,#9fff60 60%,#ff0 65.2%,#ffa700 70%,#ff0 82.5%,#cfff30 90%,#ff0 99.4%,#fffc00);--g26:linear-gradient(90deg,#89ff76,#a9ff56 10%,#50ffaf 20%,#49ffb6 30%,#3fc 40%,#3fc 50%,#bfff40 60%,#ff0 62.7%,#ff5000 70%,#ff9f00 80%,#ff0 87.5%,#dfff20 90%,#ff0 96.2%,#ffec00);--g27:linear-gradient(90deg,#edff12,#ff0 5.5%,#fff100 10%,#ff0 10.9%,#68ff97 20%,#54ffab 30%,#3fc 40%,#3fc 50%,#dfff20 60%,#ff0 61.1%,#f00 69.7%,#f70000 70%,#f00 70.9%,#ff5000 80%,#ff0 89.2%,#efff10 90%,#ff0 93.1%,#ffdc00);--g28:linear-gradient(90deg,#ffac00,#ff8c00 10%,#ff0 14.7%,#80ff80 20%,#60ff9f 30%,#3fc 40%,#3fc 50%,#ff0 60%,#f00 67.3%,#9f0000 70%,#f00 80%,#ff0 90%,#fc0);--g29:linear-gradient(90deg,#ffac00,#ff9400 10%,#ff0 14.7%,#87ff78 20%,#60ff9f 30%,#26ffd9 40%,#23ffdc 50%,#efff10 60%,#ff0 60.4%,#f00 67.3%,#9b0000 70%,#f00 79.3%,#ff0800 80%,#ffda00 90%,#ffb900);--g30:linear-gradient(90deg,#ffac00,#ff9c00 10%,#ff0 14.7%,#8fff70 20%,#60ff9f 30%,#1affe5 40%,#13ffec 50%,#dfff20 60%,#ff0 60.8%,#f00 67.3%,#960000 70%,#f00 78.7%,#ff1000 80%,#ffb600 90%,#ffa600);--g31:linear-gradient(90deg,#ffac00,#ffa400 10%,#ff0 14.7%,#97ff68 20%,#60ff9f 30%,#0dfff2 40%,#03fffc 50%,#cfff30 60%,#ff0 61.2%,#f00 67.3%,#910000 70%,#f00 78.2%,#ff9100 90%,#ff9300);--g32:linear-gradient(90deg,#ffac00,#ffac00 10%,#ff0 14.6%,#9fff60 20%,#60ff9f 30%,#0ff 40%,#00f2ff 50%,#0ff 50.6%,#bfff40 60%,#ff0 61.5%,#f00 67.4%,#8c0000 70%,#f00 77.8%,#ff2000 80%,#ff6c00 90%,#ff8000);--g33:linear-gradient(90deg,#ffb100,#ffb900 10%,#ff0 14.2%,#9fff60 20%,#64ff9b 30%,#0ff 40%,#13ffec 50%,#cfff30 60%,#ff0 61.3%,#f00 68.2%,#bc0000 70%,#f00 75.1%,#ff4000 80%,#ff6400 90%,#ff7000);--g34:linear-gradient(90deg,#ffb600,#ffc600 10%,#ff0 13.8%,#9fff60 20%,#69ff96 30%,#0ff 40%,#3fc 50%,#dfff20 60%,#ff0 61%,#f00 69.4%,#ec0000 70%,#f00 71.7%,#ff6000 80%,#ff5c00 90%,#ff6000);--g35:linear-gradient(90deg,#ffba00,#ffd200 10%,#ff0 13.2%,#9fff60 20%,#6eff91 30%,#0ff 40%,#53ffac 50%,#efff10 60%,#ff0 60.7%,#ff1d00 70%,#ff8000 80%,#ff5400 90%,#ff5000);--g36:linear-gradient(90deg,#ffbf00,#ffdf00 10%,#ff0 12.5%,#9fff60 20%,#73ff8c 30%,#0ff 40%,#73ff8c 50%,#ff0 60%,#ff4c00 70%,#ff9f00 80%,#ff4c00 90%,#ff4000);--g37:linear-gradient(90deg,#ff8700,#ffcf00 10%,#ff0 13.5%,#a7ff58 20%,#7bff84 30%,#2dffd2 40%,#ff0 57.4%,#ffdf00 60%,#ff4900 70%,#ff8f00 80%,#ff4500 90%,#ff3800);--g38:linear-gradient(90deg,#ff5000,#ffbf00 10%,#ff0 14.4%,#afff50 20%,#59ffa6 40%,#d2ff2d 50%,#ff0 54.1%,#ffbf00 60%,#ff4600 70%,#ff8000 80%,#ff3d00 90%,#ff3000);--g39:linear-gradient(90deg,#ff1800,#ff0 15.3%,#b7ff48 20%,#8bff74 30%,#86ff79 40%,#ff0 49.7%,#ff4300 70%,#ff7000 80%,#ff3500 90%,#ff2800);--g40:linear-gradient(90deg,#df0000,#f00 1.7%,#ff9f00 10%,#ff0 16%,#bfff40 20%,#93ff6c 30%,#b3ff4c 40%,#ff0 46%,#fc0 50%,#ff8000 60%,#ff4000 70%,#ff6000 80%,#ff2d00 90%,#ff2000)">
<div class="s" style="top:0%;background:var(--g1)"><i style="background:var(--g0)"></i></div>
<div class="s" style="top:2.5%;background:var(--g2)"><i style="background:var(--g1)"></i></div>
<div class="s" style="top:5%;background:var(--g3)"><i style="background:var(--g2)"></i></div>
<div class="s" style="top:7.5%;background:var(--g4)"><i style="background:var(--g3)"></i></div>
<div class="s" style="top:10%;background:var(--g5)"><i style="background:var(--g4)"></i></div>
<div class="s" style="top:12.5%;background:var(--g6)"><i style="background:var(--g5)"></i></div>
<div class="s" style="top:15%;background:var(--g7)"><i style="background:var(--g6)"></i></div>
<div class="s" style="top:17.5%;background:var(--g8)"><i style="background:var(--g7)"></i></div>
<div class="s" style="top:20%;background:var(--g9)"><i style="background:var(--g8)"></i></div>
<div class="s" style="top:22.5%;background:var(--g10)"><i style="background:var(--g9)"></i></div>
<div class="s" style="top:25%;background:var(--g11)"><i style="background:var(--g10)"></i></div>
<div class="s" style="top:27.5%;background:var(--g12)"><i style="background:var(--g11)"></i></div>
<div class="s" style="top:30%;background:var(--g13)"><i style="background:var(--g12)"></i></div>
<div class="s" style="top:32.5%;background:var(--g14)"><i style="background:var(--g13)"></i></div>
<div class="s" style="top:35%;background:var(--g15)"><i style="background:var(--g14)"></i></div>
<div class="s" style="top:37.5%;background:var(--g16)"><i style="background:var(--g15)"></i></div>
<div class="s" style="top:40%;background:var(--g17)"><i style="background:var(--g16)"></i></div>
<div class="s" style="top:42.5%;background:var(--g18)"><i style="background:var(--g17)"></i></div>
<div class="s" style="top:45%;background:var(--g19)"><i style="background:var(--g18)"></i></div>
<div class="s" style="top:47.5%;background:var(--g20)"><i style="background:var(--g19)"></i></div>
<div class="s" style="top:50%;background:var(--g21)"><i style="background:var(--g20)"></i></div>
<div class="s" style="top:52.5%;background:var(--g22)"><i style="background:var(--g21)"></i></div>
<div class="s" style="top:55%;background:var(--g23)"><i style="background:var(--g22)"></i></div>
<div class="s" style="top:57.5%;background:var(--g24)"><i style="background:var(--g23)"></i></div>
<div class="s" style="top:60%;background:var(--g25)"><i style="background:var(--g24)"></i></div>
<div class="s" style="top:62.5%;background:var(--g26)"><i style="background:var(--g25)"></i></div>
<div class="s" style="top:65%;background:var(--g27)"><i style="background:var(--g26)"></i></div>
<div class="s" style="top:67.5%;background:var(--g28)"><i style="background:var(--g27)"></i></div>
<div class="s" style="top:70%;background:var(--g29)"><i style="background:var(--g28)"></i></div>
<div class="s" style="top:72.5%;background:var(--g30)"><i style="background:var(--g29)"></i></div>
<div class="s" style="top:75%;background:var(--g31)"><i style="background:var(--g30)"></i></div>
<div class="s" style="top:77.5%;background:var(--g32)"><i style="background:var(--g31)"></i></div>
<div class="s" style="top:80%;background:var(--g33)"><i style="background:var(--g32)"></i></div>
<div class="s" style="top:82.5%;background:var(--g34)"><i style="background:var(--g33)"></i></div>
<div class="s" style="top:85%;background:var(--g35)"><i style="background:var(--g34)"></i></div>
<div class="s" style="top:87.5%;background:var(--g36)"><i style="background:var(--g35)"></i></div>
<div class="s" style="top:90%;background:var(--g37)"><i style="background:var(--g36)"></i></div>
<div class="s" style="top:92.5%;background:var(--g38)"><i style="background:var(--g37)"></i></div>
<div class="s" style="top:95%;background:var(--g39)"><i style="background:var(--g38)"></i></div>
<div class="s" style="top:97.5%;background:var(--g40)"><i style="background:var(--g39)"></i></div>
<b></b></div>
<span class="t xt" style="left:1228.4px;top:350.0px">0</span>
<span class="t yt" style="left:1221.0px;top:329.5px">0</span>
<span class="t xt" style="left:1307.3px;top:350.0px">5</span>
<span class="t yt" style="left:1221.0px;top:250.9px">5</span>
<span class="t xt" style="left:1386.2px;top:350.0px">10</span>
<span class="t yt" style="left:1221.0px;top:172.4px">10</span>
<span class="t xt" style="left:1465.1px;top:350.0px">15</span>
<span class="t yt" style="left:1221.0px;top:93.9px">15</span>
<span class="t xt" style="left:1544.0px;top:350.0px">20</span>
<span class="t yt" style="left:1221.0px;top:15.3px">20</span>
<span class="t xl" style="left:1386.0px;top:374.0px">X-axis</span>
<span class="t yl" style="left:1184.6px;top:170.5px">Y-axis</span>
<span class="t cap" style="left:1389.0px;top:395.0px">(25 ns)</span>
<div class="hm" style="left:62.7px;top:409.6px;width:326.9px;height:324.7px;--g0:linear-gradient(90deg,#008cff,#008cff 60%,#0073ff 80%,#0080ff 90%,#0080ff);--g1:linear-gradient(90deg,#0089ff,#008cff 60%,#0071ff 80%,#007cff 90%,#007cff);--g2:linear-gradient(90deg,#0086ff,#0086ff 20%,#008fff 40%,#008cff 60%,#0070ff 80%,#0079ff 90%,#0079ff);--g3:linear-gradient(90deg,#0083ff,#0083ff 20%,#0091ff 40%,#008cff 60%,#0080ff 70%,#006eff 80%,#0076ff 90%,#0076ff);--g4:linear-gradient(90deg,#0080ff,#0080ff 20%,#0093ff 40%,#0093ff 50%,#0080ff 70%,#006cff 80%,#0073ff 90%,#0073ff);--g5:linear-gradient(90deg,#007cff,#007cff 20%,#0093ff 40%,#0097ff 70%,#0076ff 80%,#0073ff);--g6:linear-gradient(90deg,#0079ff,#0079ff 20%,#0093ff 40%,#009fff 60%,#00afff 70%,#0080ff 80%,#0073ff 90%,#0073ff);--g7:linear-gradient(90deg,#0076ff,#0076ff 20%,#0093ff 40%,#00a9ff 60%,#00c7ff 70%,#0089ff 80%,#0073ff 90%,#0073ff);--g8:linear-gradient(90deg,#0073ff,#0073ff 20%,#0080ff 30%,#0093ff 40%,#009fff 50%,#00b2ff 60%,#00dfff 70%,#0093ff 80%,#0073ff 90%,#0073ff);--g9:linear-gradient(90deg,#006eff,#006bff 10%,#006eff 20%,#007bff 30%,#008eff 40%,#009bff 50%,#00aeff 60%,#0ff 69.4%,#05fffa 70%,#0ff 70.5%,#00abff 80%,#007bff 90%,#007bff);--g10:linear-gradient(90deg,#0069ff,#0063ff 10%,#0069ff 20%,#0076ff 30%,#0089ff 40%,#0096ff 50%,#00a9ff 60%,#0ff 66.8%,#29ffd6 70%,#0ff 74.1%,#00c2ff 80%,#0083ff 90%,#0083ff);--g11:linear-gradient(90deg,#0064ff,#005bff 10%,#0071ff 30%,#0084ff 40%,#0091ff 50%,#00a4ff 60%,#0ff 65.4%,#4effb1 70%,#0ff 76.8%,#00daff 80%,#008bff 90%,#008bff);--g12:linear-gradient(90deg,#0060ff,#0053ff 10%,#006cff 30%,#0080ff 40%,#008cff 50%,#009fff 60%,#0ff 64.5%,#73ff8c 70%,#0ff 79%,#00f2ff 80%,#0093ff 90%,#0093ff);--g13:linear-gradient(90deg,#0068ff,#005eff 10%,#0074ff 30%,#09f 50%,#00b7ff 60%,#0ff 62.7%,#c6ff39 70%,#56ffa9 80%,#0ff 86.4%,#00ceff 90%,#00d6ff);--g14:linear-gradient(90deg,#0070ff,#0069ff 10%,#007cff 30%,#00a6ff 50%,#00cfff 60%,#0ff 61.5%,#ff0 69.2%,#ffe500 70%,#ff0 72.7%,#b9ff46 80%,#0afff5 90%,#1affe5);--g15:linear-gradient(90deg,#0078ff,#0074ff 10%,#0078ff 20%,#0084ff 30%,#0097ff 40%,#00b2ff 50%,#00e7ff 60%,#0ff 60.6%,#ff0 67.2%,#ff9300 70%,#ffe200 80%,#ff0 81.3%,#45ffba 90%,#5cffa3);--g16:linear-gradient(90deg,#0080ff,#0080ff 20%,#008cff 30%,#009fff 40%,#00bfff 50%,#0ff 60%,#ff0 65.7%,#ff4000 70%,#ff8000 80%,#ff0 85%,#80ff80 90%,#9fff60);--g17:linear-gradient(90deg,#0087ff,#009fff 20%,#009eff 30%,#00bfff 40%,#00e7ff 50%,#0ff 53.8%,#28ffd7 60%,#ff0 65.3%,#ff4300 70%,#ff8700 80%,#ff0 85.7%,#a4ff5b 90%,#bfff40);--g18:linear-gradient(90deg,#008fff,#00bfff 20%,#00afff 30%,#0ff 46.7%,#10ffef 50%,#50ffaf 60%,#ff0 64.9%,#ff4600 70%,#ff8f00 80%,#ff0 86.7%,#c9ff36 90%,#dfff20);--g19:linear-gradient(90deg,#0097ff,#00beff 10%,#00dfff 20%,#00c1ff 30%,#0ff 40%,#38ffc7 50%,#78ff87 60%,#ff0 64.3%,#ff4900 70%,#ff9700 80%,#ff0 88.6%,#edff12 90%,#ff0);--g20:linear-gradient(90deg,#009fff,#00d2ff 10%,#0ff 20%,#00d2ff 30%,#0ff 35.8%,#20ffdf 40%,#9fff60 60%,#ff0 63.5%,#ff4c00 70%,#ff9f00 80%,#ffec00 90%,#ffdf00);--g21:linear-gradient(90deg,#00cfff,#0ff 12.9%,#18ffe7 20%,#0ff 28.3%,#00faff 30%,#0ff 30.8%,#acff53 60%,#ff0 63.2%,#ff5100 70%,#ffe900 90%,#ffda00);--g22:linear-gradient(90deg,#0ff,#30ffcf 20%,#23ffdc 30%,#80ff80 50%,#b9ff46 60%,#ff0 62.9%,#ff5600 70%,#ffe500 90%,#ffd600);--g23:linear-gradient(90deg,#30ffcf,#48ffb7 20%,#4bffb4 30%,#68ff97 40%,#8fff70 50%,#c6ff39 60%,#ff0 62.6%,#ff5b00 70%,#ffe200 90%,#ffd100);--g24:linear-gradient(90deg,#60ff9f,#60ff9f 20%,#73ff8c 30%,#80ff80 40%,#9fff60 50%,#d2ff2d 60%,#ff0 62.2%,#ff6000 70%,#ffdf00 90%,#fc0);--g25:linear-gradient(90deg,#acff53,#a4ff5b 10%,#87ff78 20%,#9eff61 30%,#80ff80 40%,#8fff70 50%,#d6ff29 60%,#ff0 61.8%,#ff4000 70%,#ff8000 80%,#ffcf00 90%,#ffc400);--g26:linear-gradient(90deg,#f9ff06,#e9ff16 10%,#afff50 20%,#c9ff36 30%,#80ff80 40%,#80ff80 50%,#d9ff26 60%,#ff0 61.5%,#ff2000 70%,#ff6000 80%,#ffbf00 90%,#ffbc00);--g27:linear-gradient(90deg,#ffb900,#ffd100 10%,#ff0 15.4%,#d7ff28 20%,#f4ff0b 30%,#80ff80 40%,#70ff8f 50%,#dcff23 60%,#ff0 61.2%,#f00 70%,#ff4000 80%,#ffaf00 90%,#ffb400);--g28:linear-gradient(90deg,#ff6c00,#ff8c00 10%,#ff0 20%,#ffdf00 30%,#ff0 32%,#80ff80 40%,#60ff9f 50%,#dfff20 60%,#ff0 61%,#f00 69%,#df0000 70%,#f00 75%,#ff2000 80%,#ff9f00 90%,#ffac00);--g29:linear-gradient(90deg,#ff6c00,#ff8900 10%,#ffea00 20%,#ffca00 30%,#ff0 32.6%,#68ff97 40%,#45ffba 50%,#dcff23 60%,#ff0 61%,#f00 68.6%,#cf0000 70%,#f00 76.7%,#ff1800 80%,#ff8b00 90%,#ff9c00);--g30:linear-gradient(90deg,#ff6c00,#ff8600 10%,#ffd600 20%,#ffb600 30%,#ff0 32.9%,#50ffaf 40%,#29ffd6 50%,#d9ff26 60%,#ff0 61.1%,#f00 68.2%,#bf0000 70%,#f00 78%,#ff1000 80%,#ff7600 90%,#ff8c00);--g31:linear-gradient(90deg,#ff6c00,#ff8300 10%,#ffc100 20%,#ffa100 30%,#ff0 33.2%,#38ffc7 40%,#0efff1 50%,#d6ff29 60%,#ff0 61.1%,#f00 67.9%,#af0000 70%,#f00 79.1%,#ff6100 90%,#ff7c00);--g32:linear-gradient(90deg,#ff6c00,#ff8000 10%,#ffac00 20%,#ff8c00 30%,#ff0 33.4%,#20ffdf 40%,#0ff 47.1%,#00f2ff 50%,#0ff 50.6%,#d2ff2d 60%,#ff0 61.1%,#f00 67.6%,#9f0000 70%,#f00 80%,#ff4c00 90%,#ff6c00);--g33:linear-gradient(90deg,#ff6100,#ff7800 10%,#ffac00 20%,#ff8900 30%,#ff0 34.3%,#60ff9f 40%,#36ffc9 50%,#deff21 60%,#ff0 61%,#f00 68.2%,#bf0000 70%,#f00 79.5%,#ff3900 90%,#ff4c00);--g34:linear-gradient(90deg,#ff5600,#ff7000 10%,#ffac00 20%,#ff8600 30%,#ff0 35.6%,#9fff60 40%,#79ff86 50%,#e9ff16 60%,#ff0 60.7%,#f00 69%,#df0000 70%,#f00 78.3%,#ff2600 90%,#ff2d00);--g35:linear-gradient(90deg,#ff4b00,#ff6800 10%,#ffac00 20%,#ff8300 30%,#ff0 38%,#dfff20 40%,#bcff43 50%,#f4ff0b 60%,#ff0 60.4%,#f00 70%,#ff1300 90%,#ff0d00);--g36:linear-gradient(90deg,#ff4000,#ff6000 10%,#ffac00 20%,#ff8000 30%,#ffdf00 40%,#ff0 50%,#ff0 60%,#ff2000 70%,#ff0d00 80%,#f00 90%,#ec0000);--g37:linear-gradient(90deg,#ff2800,#ff5800 10%,#ffb900 20%,#ff8000 30%,#ffb700 40%,#ffcf00 50%,#ffd700 60%,#ff2800 70%,#f00 90%,#e10000);--g38:linear-gradient(90deg,#ff1000,#ff5000 10%,#ffc600 20%,#ff8000 30%,#ffaf00 60%,#ff3000 70%,#f00 90%,#d60000);--g39:linear-gradient(90deg,#f70000,#f00 1%,#ff4800 10%,#ffd200 20%,#ff8000 30%,#ff6800 40%,#ff7000 50%,#ff8700 60%,#ff3800 70%,#f00 90%,#ca0000);--g40:linear-gradient(90deg,#df0000,#f00 3.3%,#ff4000 10%,#ffdf00 20%,#ff8000 30%,#ff4000 40%,#ff4000 50%,#ff6000 60%,#f00 90%,#bf0000)">
<div class="s" style="top:0%;background:var(--g1)"><i style="background:var(--g0)"></i></div>
<div class="s" style="top:2.5%;background:var(--g2)"><i style="background:var(--g1)"></i></div>
<div class="s" style="top:5%;background:var(--g3)"><i style="background:var(--g2)"></i></div>
<div class="s" style="top:7.5%;background:var(--g4)"><i style="background:var(--g3)"></i></div>
<div class="s" style="top:10%;background:var(--g5)"><i style="background:var(--g4)"></i></div>
<div class="s" style="top:12.5%;background:var(--g6)"><i style="background:var(--g5)"></i></div>
<div class="s" style="top:15%;background:var(--g7)"><i style="background:var(--g6)"></i></div>
<div class="s" style="top:17.5%;background:var(--g8)"><i style="background:var(--g7)"></i></div>
<div class="s" style="top:20%;background:var(--g9)"><i style="background:var(--g8)"></i></div>
<div class="s" style="top:22.5%;background:var(--g10)"><i style="background:var(--g9)"></i></div>
<div class="s" style="top:25%;background:var(--g11)"><i style="background:var(--g10)"></i></div>
<div class="s" style="top:27.5%;background:var(--g12)"><i style="background:var(--g11)"></i></div>
<div class="s" style="top:30%;background:var(--g13)"><i style="background:var(--g12)"></i></div>
<div class="s" style="top:32.5%;background:var(--g14)"><i style="background:var(--g13)"></i></div>
<div class="s" style="top:35%;background:var(--g15)"><i style="background:var(--g14)"></i></div>
<div class="s" style="top:37.5%;background:var(--g16)"><i style="background:var(--g15)"></i></div>
<div class="s" style="top:40%;background:var(--g17)"><i style="background:var(--g16)"></i></div>
<div class="s" style="top:42.5%;background:var(--g18)"><i style="background:var(--g17)"></i></div>
<div class="s" style="top:45%;background:var(--g19)"><i style="background:var(--g18)"></i></div>
<div class="s" style="top:47.5%;background:var(--g20)"><i style="background:var(--g19)"></i></div>
<div class="s" style="top:50%;background:var(--g21)"><i style="background:var(--g20)"></i></div>
<div class="s" style="top:52.5%;background:var(--g22)"><i style="background:var(--g21)"></i></div>
<div class="s" style="top:55%;background:var(--g23)"><i style="background:var(--g22)"></i></div>
<div class="s" style="top:57.5%;background:var(--g24)"><i style="background:var(--g23)"></i></div>
<div class="s" style="top:60%;background:var(--g25)"><i style="background:var(--g24)"></i></div>
<div class="s" style="top:62.5%;background:var(--g26)"><i style="background:var(--g25)"></i></div>
<div class="s" style="top:65%;background:var(--g27)"><i style="background:var(--g26)"></i></div>
<div class="s" style="top:67.5%;background:var(--g28)"><i style="background:var(--g27)"></i></div>
<div class="s" style="top:70%;background:var(--g29)"><i style="background:var(--g28)"></i></div>
<div class="s" style="top:72.5%;background:var(--g30)"><i style="background:var(--g29)"></i></div>
<div class="s" style="top:75%;background:var(--g31)"><i style="background:var(--g30)"></i></div>
<div class="s" style="top:77.5%;background:var(--g32)"><i style="background:var(--g31)"></i></div>
<div class="s" style="top:80%;background:var(--g33)"><i style="background:var(--g32)"></i></div>
<div class="s" style="top:82.5%;background:var(--g34)"><i style="background:var(--g33)"></i></div>
<div class="s" style="top:85%;background:var(--g35)"><i style="background:var(--g34)"></i></div>
<div class="s" style="top:87.5%;background:var(--g36)"><i style="background:var(--g35)"></i></div>
<div class="s" style="top:90%;background:var(--g37)"><i style="background:var(--g36)"></i></div>
<div class="s" style="top:92.5%;background:var(--g38)"><i style="background:var(--g37)"></i></div>
<div class="s" style="top:95%;background:var(--g39)"><i style="background:var(--g38)"></i></div>
<div class="s" style="top:97.5%;background:var(--g40)"><i style="background:var(--g39)"></i></div>
<b></b></div>
<span class="t xt" style="left:62.7px;top:754.7px">0</span>
<span class="t yt" style="left:55.0px;top:734.3px">0</span>
<span class="t xt" style="left:144.4px;top:754.7px">5</span>
<span class="t yt" style="left:55.0px;top:653.1px">5</span>
<span class="t xt" style="left:226.2px;top:754.7px">10</span>
<span class="t yt" style="left:55.0px;top:572.0px">10</span>
<span class="t xt" style="left:307.9px;top:754.7px">15</span>
<span class="t yt" style="left:55.0px;top:490.8px">15</span>
<span class="t xt" style="left:389.6px;top:754.7px">20</span>
<span class="t yt" style="left:55.0px;top:409.6px">20</span>
<span class="t xl" style="left:227.0px;top:771.6px">X-axis</span>
<span class="t yl" style="left:18.0px;top:570.0px">Y-axis</span>
<span class="t cap" style="left:223.0px;top:800.5px">(30 ns)</span>
<div class="hm" style="left:457.5px;top:413.5px;width:316.3px;height:319.2px;--g0:linear-gradient(90deg,#00bfff,#00bfff);--g1:linear-gradient(90deg,#00c4ff,#00bfff);--g2:linear-gradient(90deg,#00c9ff,#00bfff 10%,#00bfff);--g3:linear-gradient(90deg,#00ceff,#00bfff 10%,#00bfff);--g4:linear-gradient(90deg,#00d2ff,#00bfff 10%,#00bfff);--g5:linear-gradient(90deg,#00d6ff,#00c2ff 10%,#00bfff 40%,#0cf 50%,#00d2ff 60%,#00c2ff 80%,#00bfff);--g6:linear-gradient(90deg,#00d9ff,#00c6ff 10%,#00bfff 20%,#00bfff 40%,#00d9ff 50%,#00e5ff 60%,#00d9ff 70%,#00c6ff 80%,#00bfff 90%,#00bfff);--g7:linear-gradient(90deg,#00dcff,#00c9ff 10%,#00bfff 20%,#00bfff 40%,#00e5ff 50%,#00f9ff 60%,#00e5ff 70%,#00c9ff 80%,#00bfff 90%,#00bfff);--g8:linear-gradient(90deg,#00dfff,#0cf 10%,#00bfff 20%,#00bfff 40%,#00f2ff 50%,#0ff 55%,#0dfff2 60%,#0ff 65%,#00f2ff 70%,#0cf 80%,#00bfff 90%,#00bfff);--g9:linear-gradient(90deg,#00daff,#00c9ff 10%,#00bfff 20%,#00c2ff 40%,#00faff 50%,#0ff 51.6%,#1affe5 60%,#0bfff4 70%,#0ff 72.7%,#00e1ff 80%,#00c4ff 90%,#00bfff);--g10:linear-gradient(90deg,#00d6ff,#00c6ff 10%,#00bfff 20%,#00bfff 30%,#00c6ff 40%,#0ff 49.5%,#26ffd9 60%,#23ffdc 70%,#0ff 77.9%,#00c9ff 90%,#00bfff);--g11:linear-gradient(90deg,#00d1ff,#00c2ff 10%,#00bfff 30%,#00c9ff 40%,#0ff 48.3%,#0bfff4 50%,#3fc 60%,#3bffc4 70%,#0ff 81.8%,#00ceff 90%,#00bfff);--g12:linear-gradient(90deg,#0cf,#00bfff 10%,#00bfff 30%,#0cf 40%,#0ff 47.3%,#13ffec 50%,#40ffbf 60%,#53ffac 70%,#20ffdf 80%,#0ff 84.2%,#00d2ff 90%,#00bfff);--g13:linear-gradient(90deg,#00deff,#00e7ff 10%,#0ff 20%,#00fcff 30%,#00f1ff 40%,#0ff 42.7%,#26ffd9 50%,#50ffaf 60%,#d6ff29 70%,#8fff70 80%,#00fdff 90%,#00efff);--g14:linear-gradient(90deg,#00efff,#0ff 5%,#10ffef 10%,#40ffbf 20%,#39ffc6 30%,#16ffe9 40%,#60ff9f 60%,#ff0 66.4%,#ffa600 70%,#ff0 80%,#29ffd6 90%,#20ffdf);--g15:linear-gradient(90deg,#02fffd,#38ffc7 10%,#80ff80 20%,#76ff89 30%,#3bffc4 40%,#4dffb2 50%,#70ff8f 60%,#ff0 63.9%,#ff2300 70%,#ff8f00 80%,#ff0 84%,#54ffab 90%,#50ffaf);--g16:linear-gradient(90deg,#13ffec,#60ff9f 10%,#bfff40 20%,#b3ff4c 30%,#60ff9f 40%,#60ff9f 50%,#80ff80 60%,#ff0 62.7%,#f00 68%,#9f0000 70%,#f00 77.5%,#ff2000 80%,#ff0 86.4%,#80ff80 90%,#80ff80);--g17:linear-gradient(90deg,#1effe1,#60ff9f 10%,#dfff20 20%,#d2ff2d 30%,#70ff8f 40%,#70ff8f 50%,#8fff70 60%,#ff0 62.5%,#f00 68.4%,#b70000 70%,#f00 76%,#ff3000 80%,#ff0 86.8%,#9cff63 90%,#a7ff58);--g18:linear-gradient(90deg,#29ffd6,#60ff9f 10%,#ff0 20%,#f2ff0d 30%,#80ff80 40%,#80ff80 50%,#9fff60 60%,#ff0 62.4%,#f00 68.8%,#cf0000 70%,#f00 74.3%,#ff4000 80%,#ff0 87.3%,#b9ff46 90%,#cfff30);--g19:linear-gradient(90deg,#35ffca,#60ff9f 10%,#ff0 18.3%,#ffdf00 20%,#ffec00 30%,#ff0 31.5%,#8fff70 40%,#8fff70 50%,#afff50 60%,#ff0 62.2%,#f00 69.3%,#e70000 70%,#f00 72.3%,#ff5000 80%,#ff0 88.1%,#d6ff29 90%,#f7ff08);--g20:linear-gradient(90deg,#40ffbf,#60ff9f 10%,#ff0 17.1%,#ffbf00 20%,#fc0 30%,#ff0 33.5%,#9fff60 40%,#9fff60 50%,#bfff40 60%,#ff0 62%,#f00 70%,#ff6000 80%,#ff0 89.3%,#f2ff0d 90%,#ff0 92.9%,#ffdf00);--g21:linear-gradient(90deg,#70ff8f,#87ff78 10%,#ff0 16.4%,#ffba00 20%,#ffc400 30%,#ff0 34%,#a7ff58 40%,#a3ff5c 50%,#bfff40 60%,#ff0 62.4%,#ff3800 70%,#ff9700 80%,#ff0 89.6%,#faff05 90%,#ff0 91.1%,#ffd700);--g22:linear-gradient(90deg,#9fff60,#afff50 10%,#ff0 15.2%,#ffb600 20%,#ffbc00 30%,#ff0 34.6%,#afff50 40%,#a6ff59 50%,#bfff40 60%,#ff0 63.1%,#ff7000 70%,#ffcf00 80%,#fffc00 90%,#ffcf00);--g23:linear-gradient(90deg,#cfff30,#d7ff28 10%,#ff0 13.4%,#ffb100 20%,#ffb400 30%,#ff0 35.1%,#b7ff48 40%,#a9ff56 50%,#bfff40 60%,#ff0 64.2%,#ffa700 70%,#ff0 79.2%,#f7ff08 80%,#ff0 84.2%,#fff400 90%,#ffc700);--g24:linear-gradient(90deg,#ff0,#ff0 10%,#ffac00 20%,#ffac00 30%,#ff0 35.7%,#bfff40 40%,#acff53 50%,#bfff40 60%,#ff0 66.7%,#ffdf00 70%,#ff0 73.3%,#bfff40 80%,#ff0 87.7%,#ffec00 90%,#ffbf00);--g25:linear-gradient(90deg,#ffbf00,#ffda00 10%,#ffc900 30%,#ff0 34%,#afff50 40%,#9f6 50%,#bcff43 60%,#ff0 68.9%,#fff700 70%,#ff0 71.1%,#bcff43 80%,#ff0 86.9%,#ffe100 90%,#ffb300);--g26:linear-gradient(90deg,#ff8000,#ffb600 10%,#fffc00 20%,#ffe500 30%,#ff0 32.1%,#9fff60 40%,#86ff79 50%,#efff10 70%,#b9ff46 80%,#ff0 86.3%,#ffd600 90%,#ffa600);--g27:linear-gradient(90deg,#ff4000,#ff9100 10%,#ff0 17.5%,#daff25 20%,#fcff03 30%,#8fff70 40%,#73ff8c 50%,#b6ff49 60%,#d7ff28 70%,#b6ff49 80%,#ff0 85.8%,#ffca00 90%,#f90);--g28:linear-gradient(90deg,#f00,#ff6c00 10%,#ff0 16.6%,#b3ff4c 20%,#dfff20 30%,#80ff80 40%,#60ff9f 50%,#b3ff4c 60%,#bfff40 70%,#b3ff4c 80%,#ff0 85.5%,#ffbf00 90%,#ff8c00);--g29:linear-gradient(90deg,#ff2800,#ff8c00 10%,#ff0 16.2%,#b9ff46 20%,#e7ff18 30%,#78ff87 40%,#54ffab 50%,#aeff51 60%,#e7ff18 70%,#d6ff29 80%,#ff0 84.1%,#ffc200 90%,#f90);--g30:linear-gradient(90deg,#ff5000,#ffac00 10%,#ff0 15.7%,#bfff40 20%,#efff10 30%,#70ff8f 40%,#49ffb6 50%,#a9ff56 60%,#ff0 68.4%,#ffef00 70%,#ff0 77.1%,#f9ff06 80%,#ff0 81%,#ffc600 90%,#ffa600);--g31:linear-gradient(90deg,#ff7800,#fc0 10%,#ff0 14.7%,#c6ff39 20%,#f7ff08 30%,#68ff97 40%,#3effc1 50%,#a4ff5b 60%,#ff0 66.2%,#ffc700 70%,#ffe200 80%,#ffb300);--g32:linear-gradient(90deg,#ff9f00,#ff0 12.7%,#cf3 20%,#ff0 30%,#60ff9f 40%,#3fc 50%,#9fff60 60%,#ff0 65%,#ff9f00 70%,#ffbf00 80%,#fc0 90%,#ffbf00);--g33:linear-gradient(90deg,#ffb700,#ff0 8.8%,#f5ff0a 10%,#c6ff39 20%,#ff0 28.8%,#fff700 30%,#ff0 30.5%,#68ff97 40%,#46ffb9 50%,#b7ff48 60%,#ff0 63.1%,#ff6000 70%,#ffc900 90%,#ffbf00);--g34:linear-gradient(90deg,#ffcf00,#ff0 5.6%,#d9ff26 10%,#bfff40 20%,#ff0 28%,#ffef00 30%,#ff0 31%,#70ff8f 40%,#59ffa6 50%,#cfff30 60%,#ff0 61.8%,#ff2000 70%,#ff7000 80%,#ffc600 90%,#ffbf00);--g35:linear-gradient(90deg,#ffe700,#ff0 2.6%,#bcff43 10%,#b9ff46 20%,#ff0 27.5%,#ffe700 30%,#ff0 31.5%,#78ff87 40%,#6cff93 50%,#e7ff18 60%,#ff0 60.8%,#f00 69%,#df0000 70%,#f00 73.1%,#ff4800 80%,#ffc200 90%,#ffbf00);--g36:linear-gradient(90deg,#ff0,#9fff60 10%,#b3ff4c 20%,#ff0 27.1%,#ffdf00 30%,#ff0 32%,#80ff80 40%,#80ff80 50%,#ff0 60%,#f00 67.3%,#9f0000 70%,#f00 77.5%,#ff2000 80%,#ffbf00 90%,#ffbf00);--g37:linear-gradient(90deg,#fff700,#ff0 0.9%,#afff50 10%,#a3ff5c 20%,#ff0 28.8%,#fff200 30%,#ff0 31.1%,#94ff6b 40%,#97ff68 50%,#ff0 58.7%,#ffef00 60%,#f00 67.7%,#b70000 70%,#f00 76.4%,#ff2800 80%,#ffb700 90%,#ffb700);--g38:linear-gradient(90deg,#ffef00,#ff0 2%,#bfff40 10%,#93ff6c 20%,#f9ff06 30%,#a9ff56 40%,#afff50 50%,#ff0 57.1%,#ffdf00 60%,#f00 68.2%,#cf0000 70%,#f00 75%,#ff3000 80%,#ffaf00 90%,#ffaf00);--g39:linear-gradient(90deg,#ffe700,#ff0 3.3%,#83ff7c 20%,#e6ff19 30%,#beff41 40%,#c7ff38 50%,#ff0 55.4%,#ffcf00 60%,#f00 69%,#e70000 70%,#f00 73%,#ff3800 80%,#ffa700 90%,#ffa700);--g40:linear-gradient(90deg,#ffdf00,#ff0 5%,#dfff20 10%,#73ff8c 20%,#d2ff2d 30%,#d2ff2d 40%,#dfff20 50%,#ff0 53.3%,#ffbf00 60%,#f00 70%,#ff4000 80%,#ff9f00 90%,#ff9f00)">
<div class="s" style="top:0%;background:var(--g1)"><i style="background:var(--g0)"></i></div>
<div class="s" style="top:2.5%;background:var(--g2)"><i style="background:var(--g1)"></i></div>
<div class="s" style="top:5%;background:var(--g3)"><i style="background:var(--g2)"></i></div>
<div class="s" style="top:7.5%;background:var(--g4)"><i style="background:var(--g3)"></i></div>
<div class="s" style="top:10%;background:var(--g5)"><i style="background:var(--g4)"></i></div>
<div class="s" style="top:12.5%;background:var(--g6)"><i style="background:var(--g5)"></i></div>
<div class="s" style="top:15%;background:var(--g7)"><i style="background:var(--g6)"></i></div>
<div class="s" style="top:17.5%;background:var(--g8)"><i style="background:var(--g7)"></i></div>
<div class="s" style="top:20%;background:var(--g9)"><i style="background:var(--g8)"></i></div>
<div class="s" style="top:22.5%;background:var(--g10)"><i style="background:var(--g9)"></i></div>
<div class="s" style="top:25%;background:var(--g11)"><i style="background:var(--g10)"></i></div>
<div class="s" style="top:27.5%;background:var(--g12)"><i style="background:var(--g11)"></i></div>
<div class="s" style="top:30%;background:var(--g13)"><i style="background:var(--g12)"></i></div>
<div class="s" style="top:32.5%;background:var(--g14)"><i style="background:var(--g13)"></i></div>
<div class="s" style="top:35%;background:var(--g15)"><i style="background:var(--g14)"></i></div>
<div class="s" style="top:37.5%;background:var(--g16)"><i style="background:var(--g15)"></i></div>
<div class="s" style="top:40%;background:var(--g17)"><i style="background:var(--g16)"></i></div>
<div class="s" style="top:42.5%;background:var(--g18)"><i style="background:var(--g17)"></i></div>
<div class="s" style="top:45%;background:var(--g19)"><i style="background:var(--g18)"></i></div>
<div class="s" style="top:47.5%;background:var(--g20)"><i style="background:var(--g19)"></i></div>
<div class="s" style="top:50%;background:var(--g21)"><i style="background:var(--g20)"></i></div>
<div class="s" style="top:52.5%;background:var(--g22)"><i style="background:var(--g21)"></i></div>
<div class="s" style="top:55%;background:var(--g23)"><i style="background:var(--g22)"></i></div>
<div class="s" style="top:57.5%;background:var(--g24)"><i style="background:var(--g23)"></i></div>
<div class="s" style="top:60%;background:var(--g25)"><i style="background:var(--g24)"></i></div>
<div class="s" style="top:62.5%;background:var(--g26)"><i style="background:var(--g25)"></i></div>
<div class="s" style="top:65%;background:var(--g27)"><i style="background:var(--g26)"></i></div>
<div class="s" style="top:67.5%;background:var(--g28)"><i style="background:var(--g27)"></i></div>
<div class="s" style="top:70%;background:var(--g29)"><i style="background:var(--g28)"></i></div>
<div class="s" style="top:72.5%;background:var(--g30)"><i style="background:var(--g29)"></i></div>
<div class="s" style="top:75%;background:var(--g31)"><i style="background:var(--g30)"></i></div>
<div class="s" style="top:77.5%;background:var(--g32)"><i style="background:var(--g31)"></i></div>
<div class="s" style="top:80%;background:var(--g33)"><i style="background:var(--g32)"></i></div>
<div class="s" style="top:82.5%;background:var(--g34)"><i style="background:var(--g33)"></i></div>
<div class="s" style="top:85%;background:var(--g35)"><i style="background:var(--g34)"></i></div>
<div class="s" style="top:87.5%;background:var(--g36)"><i style="background:var(--g35)"></i></div>
<div class="s" style="top:90%;background:var(--g37)"><i style="background:var(--g36)"></i></div>
<div class="s" style="top:92.5%;background:var(--g38)"><i style="background:var(--g37)"></i></div>
<div class="s" style="top:95%;background:var(--g39)"><i style="background:var(--g38)"></i></div>
<div class="s" style="top:97.5%;background:var(--g40)"><i style="background:var(--g39)"></i></div>
<b></b></div>
<span class="t xt" style="left:457.5px;top:752.8px">0</span>
<span class="t yt" style="left:450.0px;top:732.7px">0</span>
<span class="t xt" style="left:536.6px;top:752.8px">5</span>
<span class="t yt" style="left:450.0px;top:652.9px">5</span>
<span class="t xt" style="left:615.6px;top:752.8px">10</span>
<span class="t yt" style="left:450.0px;top:573.1px">10</span>
<span class="t xt" style="left:694.7px;top:752.8px">15</span>
<span class="t yt" style="left:450.0px;top:493.3px">15</span>
<span class="t xt" style="left:773.8px;top:752.8px">20</span>
<span class="t yt" style="left:450.0px;top:413.5px">20</span>
<span class="t xl" style="left:615.6px;top:776.5px">X-axis</span>
<span class="t yl" style="left:414.0px;top:570.0px">Y-axis</span>
<span class="t cap" style="left:607.0px;top:802.0px">(35 ns)</span>
<div class="hm" style="left:837.5px;top:412.9px;width:327.2px;height:324.6px;--g0:linear-gradient(90deg,#0053ff,#0080ff 10%,#009fff 20%,#00acff 30%,#00acff 40%,#00bfff 50%,#00bfff 60%,#00ecff 70%,#00acff 90%,#009fff);--g1:linear-gradient(90deg,#0063ff,#0087ff 10%,#00a3ff 20%,#00aeff 30%,#00aeff 40%,#00bfff 50%,#00c4ff 60%,#00edff 70%,#00b1ff 90%,#009fff);--g2:linear-gradient(90deg,#0073ff,#00a6ff 20%,#00afff 30%,#00afff 40%,#00bfff 50%,#00c9ff 60%,#00efff 70%,#00d6ff 80%,#00b6ff 90%,#009fff);--g3:linear-gradient(90deg,#0083ff,#00a9ff 20%,#00b1ff 30%,#00b1ff 40%,#00ceff 60%,#00f1ff 70%,#00daff 80%,#009fff);--g4:linear-gradient(90deg,#0093ff,#00acff 20%,#00b2ff 30%,#00b2ff 40%,#00bfff 50%,#00d2ff 60%,#00f2ff 70%,#00dfff 80%,#009fff);--g5:linear-gradient(90deg,#009bff,#00a7ff 10%,#00b9ff 20%,#00baff 40%,#0cf 50%,#00e5ff 60%,#00f5ff 70%,#00e2ff 80%,#00a7ff);--g6:linear-gradient(90deg,#00a3ff,#00afff 10%,#00c6ff 20%,#00bfff 30%,#00c2ff 40%,#00d9ff 50%,#00f9ff 60%,#00f9ff 70%,#00e5ff 80%,#00c6ff 90%,#00afff);--g7:linear-gradient(90deg,#00abff,#00b7ff 10%,#00d2ff 20%,#00c6ff 30%,#00caff 40%,#00e5ff 50%,#0ff 56.7%,#0dfff2 60%,#0ff 68%,#00e9ff 80%,#00c9ff 90%,#00b7ff);--g8:linear-gradient(90deg,#00b2ff,#00bfff 10%,#00dfff 20%,#0cf 30%,#00d2ff 40%,#00f2ff 50%,#0ff 52.9%,#20ffdf 60%,#0ff 70%,#00ecff 80%,#0cf 90%,#00bfff);--g9:linear-gradient(90deg,#00b6ff,#00bfff 10%,#00dfff 20%,#00d1ff 30%,#00d6ff 40%,#00f5ff 50%,#0ff 51.7%,#30ffcf 60%,#15ffea 70%,#0ff 75.4%,#00edff 80%,#00d1ff 90%,#00c4ff);--g10:linear-gradient(90deg,#00b9ff,#00bfff 10%,#00dfff 20%,#00d6ff 30%,#00d9ff 40%,#00f9ff 50%,#0ff 50.9%,#40ffbf 60%,#29ffd6 70%,#0ff 77.2%,#00efff 80%,#00d6ff 90%,#00c9ff);--g11:linear-gradient(90deg,#00bcff,#00bfff 10%,#00dfff 20%,#00daff 30%,#00dcff 40%,#0ff 50.4%,#50ffaf 60%,#3effc1 70%,#0ff 78.1%,#00f1ff 80%,#00daff 90%,#00ceff);--g12:linear-gradient(90deg,#00bfff,#00bfff 10%,#00dfff 20%,#00dfff 40%,#0ff 50%,#60ff9f 60%,#53ffac 70%,#0ff 78.7%,#00f2ff 80%,#00dfff 90%,#00d2ff);--g13:linear-gradient(90deg,#00d7ff,#00f7ff 10%,#0ff 10.9%,#50ffaf 20%,#5cffa3 30%,#0ff 38.9%,#00f4ff 40%,#0ff 44.7%,#0dfff2 50%,#74ff8b 60%,#b6ff49 70%,#10ffef 90%,#06fff9);--g14:linear-gradient(90deg,#00efff,#0ff 2.5%,#30ffcf 10%,#bfff40 20%,#d9ff26 30%,#0afff5 40%,#1affe5 50%,#89ff76 60%,#ff0 68.2%,#ffe500 70%,#ff0 73.6%,#d2ff2d 80%,#40ffbf 90%,#39ffc6);--g15:linear-gradient(90deg,#08fff7,#68ff97 10%,#ff0 17.6%,#ffcf00 20%,#ffa900 30%,#ff0 32.8%,#1effe1 40%,#26ffd9 50%,#9eff61 60%,#ff0 64.4%,#ff8300 70%,#ffbc00 80%,#ff0 83.2%,#70ff8f 90%,#6cff93);--g16:linear-gradient(90deg,#20ffdf,#9fff60 10%,#ff0 13.8%,#ff6000 20%,#ff2d00 30%,#ff0 35.1%,#3fc 40%,#3fc 50%,#b3ff4c 60%,#ff0 62.6%,#ff2000 70%,#ff4c00 80%,#ff0 86.5%,#9fff60 90%,#9fff60);--g17:linear-gradient(90deg,#30ffcf,#9fff60 10%,#ff0 13.7%,#ff5b00 20%,#ff3100 30%,#ff0 35.1%,#36ffc9 40%,#36ffc9 50%,#b6ff49 60%,#ff0 62.5%,#ff2300 70%,#ff4c00 80%,#ff0 87.4%,#bfff40 90%,#cfff30);--g18:linear-gradient(90deg,#40ffbf,#9fff60 10%,#ff0 13.6%,#ff5600 20%,#ff3600 30%,#ff0 35%,#39ffc6 40%,#39ffc6 50%,#b9ff46 60%,#ff0 62.4%,#ff2600 70%,#ff4c00 80%,#ff0 88.5%,#dfff20 90%,#ff0);--g19:linear-gradient(90deg,#50ffaf,#9fff60 10%,#ff0 13.6%,#ff5100 20%,#ff3b00 30%,#ff0 35%,#3dffc2 40%,#3dffc2 50%,#bcff43 60%,#ff0 62.4%,#ff2900 70%,#ff4c00 80%,#ff0 90%,#ffcf00);--g20:linear-gradient(90deg,#60ff9f,#9fff60 10%,#ff0 13.5%,#ff4c00 20%,#ff4000 30%,#ff0 35%,#40ffbf 40%,#40ffbf 50%,#bfff40 60%,#ff0 62.3%,#ff2d00 70%,#ff4c00 80%,#ffdf00 90%,#ff9f00);--g21:linear-gradient(90deg,#78ff87,#bcff43 10%,#ff0 12.8%,#ff5100 20%,#ff4300 30%,#ff0 35%,#40ffbf 40%,#3dffc2 50%,#a7ff58 60%,#ff0 64.1%,#ff8100 70%,#ffcf00 90%,#ff8b00);--g22:linear-gradient(90deg,#8fff70,#d9ff26 10%,#ff0 11.8%,#ff5600 20%,#ff4600 30%,#ff0 34.9%,#40ffbf 40%,#39ffc6 50%,#8fff70 60%,#ff0 67.3%,#ffd600 70%,#ff0 80%,#ffbf00 90%,#ff7600);--g23:linear-gradient(90deg,#a7ff58,#f5ff0a 10%,#ff0 10.6%,#ff5b00 20%,#ff4900 30%,#ff0 34.9%,#40ffbf 40%,#36ffc9 50%,#78ff87 60%,#d4ff2b 70%,#a6ff59 80%,#ff0 85.3%,#ffaf00 90%,#ff6100);--g24:linear-gradient(90deg,#bfff40,#ff0 7.7%,#ffec00 10%,#ff6000 20%,#ff4c00 30%,#ff0 34.8%,#40ffbf 40%,#3fc 50%,#60ff9f 60%,#80ff80 70%,#4dffb2 80%,#ff0 86.5%,#ff9f00 90%,#ff4c00);--g25:linear-gradient(90deg,#fff700,#ffd100 10%,#ffb700 20%,#ffac00 30%,#ff0 32.9%,#35ffca 40%,#1bffe4 50%,#54ffab 60%,#70ff8f 70%,#4dffb2 80%,#ff0 86%,#ff8700 90%,#ff4100);--g26:linear-gradient(90deg,#ffaf00,#ffb600 10%,#ff0 18.2%,#efff10 20%,#f2ff0d 30%,#29ffd6 40%,#03fffc 50%,#49ffb6 60%,#60ff9f 70%,#4dffb2 80%,#ff0 85.5%,#ff7000 90%,#ff3600);--g27:linear-gradient(90deg,#ff6800,#ff9b00 10%,#ff0 14.9%,#97ff68 20%,#93ff6c 30%,#1effe1 40%,#0ff 45.9%,#00eaff 50%,#0ff 52.5%,#3effc1 60%,#50ffaf 70%,#4dffb2 80%,#ff0 85.2%,#ff5800 90%,#ff2b00);--g28:linear-gradient(90deg,#ff2000,#ff8000 10%,#ff0 14%,#40ffbf 20%,#3fc 30%,#13ffec 40%,#0ff 43%,#00d2ff 50%,#0ff 54.7%,#3fc 60%,#4dffb2 80%,#ff0 84.8%,#ff4000 90%,#ff2000);--g29:linear-gradient(90deg,#ff8000,#ffcf00 10%,#ff0 11.9%,#38ffc7 20%,#2bffd4 30%,#0bfff4 40%,#0ff 42.1%,#00d6ff 50%,#0ff 54.3%,#9cff63 70%,#a9ff56 80%,#ff0 83.1%,#ff4000 90%,#ff3000);--g30:linear-gradient(90deg,#ffdf00,#ff0 5%,#dfff20 10%,#30ffcf 20%,#23ffdc 30%,#0ff 40.8%,#00d9ff 50%,#0ff 54%,#39ffc6 60%,#f9ff06 70%,#ff0 75%,#fff900 80%,#ff4000 90%,#ff4000);--g31:linear-gradient(90deg,#bfff40,#8fff70 10%,#28ffd7 20%,#1bffe4 30%,#0ff 38.5%,#00dcff 50%,#0ff 53.7%,#3dffc2 60%,#ff0 66.9%,#ffa900 70%,#ff9c00 80%,#ff4000 90%,#ff5000);--g32:linear-gradient(90deg,#60ff9f,#20ffdf 20%,#13ffec 30%,#0ff 36%,#00f2ff 40%,#00dfff 50%,#0ff 53.3%,#40ffbf 60%,#ff0 65.2%,#ff4c00 70%,#ff4000 80%,#ff4000 90%,#ff6000);--g33:linear-gradient(90deg,#80ff80,#38ffc7 10%,#15ffea 20%,#12ffed 30%,#0ff 35.8%,#00f2ff 40%,#00ecff 50%,#0ff 52%,#4dffb2 60%,#ff0 64.7%,#ff3900 70%,#ff3800 80%,#ff6b00 90%,#ff8f00);--g34:linear-gradient(90deg,#9fff60,#30ffcf 10%,#0afff5 20%,#10ffef 30%,#0ff 35.6%,#00f2ff 40%,#00f9ff 50%,#0ff 50.7%,#59ffa6 60%,#ff0 64.3%,#ff2600 70%,#ff3000 80%,#ff9600 90%,#ffbf00);--g35:linear-gradient(90deg,#bfff40,#28ffd7 10%,#00fdff 20%,#0efff1 30%,#0ff 35.3%,#00f2ff 40%,#0ff 46.7%,#06fff9 50%,#6f9 60%,#ff0 63.9%,#ff1300 70%,#ff2800 80%,#ffc100 90%,#ffef00);--g36:linear-gradient(90deg,#dfff20,#20ffdf 10%,#0ff 17.1%,#00f2ff 20%,#0ff 25%,#0dfff2 30%,#0ff 35%,#00f2ff 40%,#0ff 44%,#13ffec 50%,#73ff8c 60%,#ff0 63.5%,#f00 70%,#ff2000 80%,#ffec00 90%,#ff0 93.8%,#dfff20);--g37:linear-gradient(90deg,#ffc700,#ff0 2.1%,#28ffd7 10%,#0ff 16.4%,#00e9ff 20%,#0ff 27.8%,#06fff9 30%,#0ff 33.3%,#00f2ff 40%,#0ff 43.6%,#16ffe9 50%,#aeff51 60%,#ff0 62.5%,#ff0800 70%,#ff2000 80%,#ffd100 90%,#ff0 98.5%,#f7ff08);--g38:linear-gradient(90deg,#ff7000,#ff0 4.1%,#30ffcf 10%,#0ff 16%,#00dfff 20%,#0ff 30%,#00f2ff 40%,#0ff 43.3%,#1affe5 50%,#e9ff16 60%,#ff0 60.9%,#ff1000 70%,#ff2000 80%,#ffb600 90%,#ffef00);--g39:linear-gradient(90deg,#ff1800,#ff0 5.4%,#38ffc7 10%,#0ff 15.7%,#00d6ff 20%,#00f9ff 30%,#00f2ff 40%,#0ff 43.1%,#1dffe2 50%,#ff0 58.6%,#ffda00 60%,#ff1800 70%,#ff2000 80%,#ff9b00 90%,#ffd700);--g40:linear-gradient(90deg,#bf0000,#f00 1.2%,#ff0 6.2%,#40ffbf 10%,#0ff 15.6%,#0cf 20%,#00f2ff 30%,#00f2ff 40%,#0ff 42.9%,#20ffdf 50%,#ff0 57%,#ff9f00 60%,#ff2000 70%,#ff2000 80%,#ff8000 90%,#ffbf00)">
<div class="s" style="top:0%;background:var(--g1)"><i style="background:var(--g0)"></i></div>
<div class="s" style="top:2.5%;background:var(--g2)"><i style="background:var(--g1)"></i></div>
<div class="s" style="top:5%;background:var(--g3)"><i style="background:var(--g2)"></i></div>
<div class="s" style="top:7.5%;background:var(--g4)"><i style="background:var(--g3)"></i></div>
<div class="s" style="top:10%;background:var(--g5)"><i style="background:var(--g4)"></i></div>
<div class="s" style="top:12.5%;background:var(--g6)"><i style="background:var(--g5)"></i></div>
<div class="s" style="top:15%;background:var(--g7)"><i style="background:var(--g6)"></i></div>
<div class="s" style="top:17.5%;background:var(--g8)"><i style="background:var(--g7)"></i></div>
<div class="s" style="top:20%;background:var(--g9)"><i style="background:var(--g8)"></i></div>
<div class="s" style="top:22.5%;background:var(--g10)"><i style="background:var(--g9)"></i></div>
<div class="s" style="top:25%;background:var(--g11)"><i style="background:var(--g10)"></i></div>
<div class="s" style="top:27.5%;background:var(--g12)"><i style="background:var(--g11)"></i></div>
<div class="s" style="top:30%;background:var(--g13)"><i style="background:var(--g12)"></i></div>
<div class="s" style="top:32.5%;background:var(--g14)"><i style="background:var(--g13)"></i></div>
<div class="s" style="top:35%;background:var(--g15)"><i style="background:var(--g14)"></i></div>
<div class="s" style="top:37.5%;background:var(--g16)"><i style="background:var(--g15)"></i></div>
<div class="s" style="top:40%;background:var(--g17)"><i style="background:var(--g16)"></i></div>
<div class="s" style="top:42.5%;background:var(--g18)"><i style="background:var(--g17)"></i></div>
<div class="s" style="top:45%;background:var(--g19)"><i style="background:var(--g18)"></i></div>
<div class="s" style="top:47.5%;background:var(--g20)"><i style="background:var(--g19)"></i></div>
<div class="s" style="top:50%;background:var(--g21)"><i style="background:var(--g20)"></i></div>
<div class="s" style="top:52.5%;background:var(--g22)"><i style="background:var(--g21)"></i></div>
<div class="s" style="top:55%;background:var(--g23)"><i style="background:var(--g22)"></i></div>
<div class="s" style="top:57.5%;background:var(--g24)"><i style="background:var(--g23)"></i></div>
<div class="s" style="top:60%;background:var(--g25)"><i style="background:var(--g24)"></i></div>
<div class="s" style="top:62.5%;background:var(--g26)"><i style="background:var(--g25)"></i></div>
<div class="s" style="top:65%;background:var(--g27)"><i style="background:var(--g26)"></i></div>
<div class="s" style="top:67.5%;background:var(--g28)"><i style="background:var(--g27)"></i></div>
<div class="s" style="top:70%;background:var(--g29)"><i style="background:var(--g28)"></i></div>
<div class="s" style="top:72.5%;background:var(--g30)"><i style="background:var(--g29)"></i></div>
<div class="s" style="top:75%;background:var(--g31)"><i style="background:var(--g30)"></i></div>
<div class="s" style="top:77.5%;background:var(--g32)"><i style="background:var(--g31)"></i></div>
<div class="s" style="top:80%;background:var(--g33)"><i style="background:var(--g32)"></i></div>
<div class="s" style="top:82.5%;background:var(--g34)"><i style="background:var(--g33)"></i></div>
<div class="s" style="top:85%;background:var(--g35)"><i style="background:var(--g34)"></i></div>
<div class="s" style="top:87.5%;background:var(--g36)"><i style="background:var(--g35)"></i></div>
<div class="s" style="top:90%;background:var(--g37)"><i style="background:var(--g36)"></i></div>
<div class="s" style="top:92.5%;background:var(--g38)"><i style="background:var(--g37)"></i></div>
<div class="s" style="top:95%;background:var(--g39)"><i style="background:var(--g38)"></i></div>
<div class="s" style="top:97.5%;background:var(--g40)"><i style="background:var(--g39)"></i></div>
<b></b></div>
<span class="t xt" style="left:837.5px;top:758.0px">0</span>
<span class="t yt" style="left:830.0px;top:737.5px">0</span>
<span class="t xt" style="left:919.3px;top:758.0px">5</span>
<span class="t yt" style="left:830.0px;top:656.4px">5</span>
<span class="t xt" style="left:1001.1px;top:758.0px">10</span>
<span class="t yt" style="left:830.0px;top:575.2px">10</span>
<span class="t xt" style="left:1082.9px;top:758.0px">15</span>
<span class="t yt" style="left:830.0px;top:494.0px">15</span>
<span class="t xt" style="left:1164.7px;top:758.0px">20</span>
<span class="t yt" style="left:830.0px;top:412.9px">20</span>
<span class="t xl" style="left:999.0px;top:774.0px">X-axis</span>
<span class="t yl" style="left:793.0px;top:573.6px">Y-axis</span>
<span class="t cap" style="left:997.0px;top:803.0px">(40 ns)</span>
<div class="hm" style="left:1231.0px;top:412.9px;width:315.6px;height:317.1px;--g0:linear-gradient(90deg,#fc0,#ff8c00 10%,#ffbf00 20%,#ffdf00 30%,#fc0 40%,#ffb300 60%,#f00 72%,#800000 80%,#c00 90%,#f00);--g1:linear-gradient(90deg,#ffd100,#ff9400 10%,#ffbf00 20%,#ffdf00 30%,#fc0 40%,#ffb300 60%,#f00 71.8%,#830000 80%,#d10000 90%,#f00 99.4%,#ff0300);--g2:linear-gradient(90deg,#ffd600,#ff9c00 10%,#ffdf00 30%,#fc0 40%,#ffb300 60%,#f00 71.6%,#860000 80%,#d60000 90%,#f00 98.7%,#ff0600);--g3:linear-gradient(90deg,#ffda00,#ffa400 10%,#ffdf00 30%,#fc0 40%,#ffb300 60%,#ff1200 70%,#f00 71.3%,#890000 80%,#da0000 90%,#f00 97.9%,#ff0a00);--g4:linear-gradient(90deg,#ffdf00,#ffac00 10%,#ffbf00 20%,#ffdf00 30%,#fc0 40%,#ffb300 60%,#ff0d00 70%,#f00 71%,#8c0000 80%,#df0000 90%,#f00 97.1%,#ff0d00);--g5:linear-gradient(90deg,#ffec00,#ffc100 10%,#ffca00 20%,#ffdf00 30%,#ffb600 60%,#ff3500 70%,#f00 75.6%,#d60000 80%,#f00 86%,#ff1b00 90%,#ff3d00);--g6:linear-gradient(90deg,#fff900,#ffd600 10%,#ffd600 20%,#ffdf00 30%,#ffcf00 40%,#ffb900 60%,#ff5c00 70%,#ff2000 80%,#ff5600 90%,#ff6c00);--g7:linear-gradient(90deg,#f9ff06,#ff0 2.4%,#ffea00 10%,#ffe100 20%,#ffdf00 30%,#ffd100 40%,#ffbc00 60%,#ff8400 70%,#ff6900 80%,#ff9100 90%,#ff9c00);--g8:linear-gradient(90deg,#ecff13,#ff0 10%,#ffec00 20%,#ffd200 40%,#fc0 50%,#ffbf00 60%,#ffac00 70%,#ffb300 80%,#fc0 90%,#fc0);--g9:linear-gradient(90deg,#e9ff16,#ff0 12.5%,#ffd600 40%,#fc0 50%,#ffb700 60%,#ffb400 70%,#ffba00 80%,#ffce00 90%,#fc0);--g10:linear-gradient(90deg,#e5ff1a,#ff0 15%,#fff500 20%,#fc0 50%,#ffaf00 60%,#ffbc00 70%,#ffc200 80%,#ffcf00 90%,#fc0);--g11:linear-gradient(90deg,#e2ff1d,#ff0 17.5%,#fc0 50%,#ffa700 60%,#ffc400 70%,#ffd100 90%,#fc0);--g12:linear-gradient(90deg,#dfff20,#ecff13 10%,#ff0 20%,#fff200 30%,#fc0 50%,#ff9f00 60%,#fc0 70%,#ffd200 80%,#ffd200 90%,#fc0);--g13:linear-gradient(90deg,#dfff20,#edff12 10%,#ff0 18.5%,#fff500 30%,#ffd100 50%,#ffab00 60%,#ffc900 70%,#ffce00 80%,#ffc900);--g14:linear-gradient(90deg,#dfff20,#efff10 10%,#ff0 17.1%,#fff900 20%,#fff900 30%,#ffd600 50%,#ffb600 60%,#ffc600 70%,#ffc900 80%,#ffc200 90%,#ffc600);--g15:linear-gradient(90deg,#dfff20,#ff0 16%,#fff500 20%,#fffc00 30%,#ffda00 50%,#ffc100 60%,#ffc400 80%,#ffba00 90%,#ffc200);--g16:linear-gradient(90deg,#dfff20,#ff0 15%,#fff200 20%,#ff0 30%,#fff200 40%,#fc0 60%,#ffbf00 70%,#ffbf00 80%,#ffb300 90%,#ffbf00);--g17:linear-gradient(90deg,#d7ff28,#ff0 15%,#fff100 20%,#fffc00 30%,#fff500 40%,#ffd600 60%,#ffc200 70%,#ffb100 90%,#ffbf00);--g18:linear-gradient(90deg,#cfff30,#ff0 15%,#ffef00 20%,#fff900 30%,#fff900 40%,#ffef00 50%,#ffdf00 60%,#ffc600 70%,#ffaf00 90%,#ffbf00);--g19:linear-gradient(90deg,#c7ff38,#ff0 15%,#ffed00 20%,#fffc00 40%,#fff700 50%,#ffe900 60%,#ffc900 70%,#ffb600 80%,#ffae00 90%,#ffbf00);--g20:linear-gradient(90deg,#bfff40,#ff0 15%,#ffec00 20%,#fff200 30%,#ff0 40%,#ff0 50%,#fff200 60%,#fc0 70%,#ffb300 80%,#ffac00 90%,#ffbf00);--g21:linear-gradient(90deg,#b7ff48,#e9ff16 10%,#ff0 15.6%,#ffed00 20%,#fff200 30%,#ff0 40%,#ff0 50%,#fff500 60%,#ffd100 70%,#ffb600 80%,#ffae00 90%,#ffbf00);--g22:linear-gradient(90deg,#afff50,#e5ff1a 10%,#ff0 16.2%,#ffef00 20%,#fff200 30%,#ff0 40%,#ff0 50%,#fff900 60%,#ffd600 70%,#ffb900 80%,#ffaf00 90%,#ffbf00);--g23:linear-gradient(90deg,#a7ff58,#e2ff1d 10%,#ff0 16.7%,#fff100 20%,#fff200 30%,#ff0 40%,#fffc00 60%,#ffbc00 80%,#ffb100 90%,#ffbf00);--g24:linear-gradient(90deg,#9fff60,#dfff20 10%,#ff0 17.1%,#fff200 20%,#fff200 30%,#ff0 40%,#ff0 60%,#ffbf00 80%,#ffb300 90%,#ffbf00);--g25:linear-gradient(90deg,#a4ff5b,#dfff20 10%,#ff0 17.1%,#fff200 20%,#fff500 30%,#ff0 37.5%,#efff10 60%,#ff0 66.7%,#fff700 70%,#ffd200 80%,#ffb600 90%,#ffbf00);--g26:linear-gradient(90deg,#a9ff56,#dfff20 10%,#ff0 17.1%,#fff200 20%,#ff0 35%,#efff10 50%,#dfff20 60%,#efff10 70%,#ff0 73.8%,#ffb900 90%,#ffbf00);--g27:linear-gradient(90deg,#aeff51,#ff0 17.1%,#fff200 20%,#ff0 32.5%,#e7ff18 50%,#cfff30 60%,#d7ff28 70%,#ff0 78.6%,#ffbc00 90%,#ffbf00);--g28:linear-gradient(90deg,#b3ff4c,#ff0 17.1%,#fff200 20%,#ff0 30%,#f2ff0d 40%,#dfff20 50%,#bfff40 60%,#bfff40 70%,#f2ff0d 80%,#ff0 81.7%,#ffbf00 90%,#ffbf00);--g29:linear-gradient(90deg,#b6ff49,#dfff20 10%,#ff0 16.5%,#ffed00 20%,#ff0 30%,#dfff20 50%,#bfff40 60%,#bfff40 70%,#f2ff0d 80%,#ff0 81.7%,#ffc200 90%,#ffbf00);--g30:linear-gradient(90deg,#b9ff46,#dfff20 10%,#ff0 15.9%,#ffe900 20%,#ff0 30%,#dfff20 50%,#bfff40 60%,#bfff40 70%,#f2ff0d 80%,#ff0 81.8%,#ffc600 90%,#ffbf00);--g31:linear-gradient(90deg,#bcff43,#dfff20 10%,#ff0 15.4%,#ffe400 20%,#ff0 30%,#dfff20 50%,#bfff40 60%,#bfff40 70%,#f2ff0d 80%,#ff0 81.9%,#ffc900 90%,#ffbf00);--g32:linear-gradient(90deg,#bfff40,#dfff20 10%,#ff0 15%,#ffdf00 20%,#ff0 30%,#ecff13 40%,#dfff20 50%,#bfff40 60%,#bfff40 70%,#ff0 82%,#fc0 90%,#ffbf00);--g33:linear-gradient(90deg,#bfff40,#d7ff28 10%,#ff0 17.8%,#fff400 20%,#ff0 24.7%,#f2ff0d 30%,#e1ff1e 40%,#dfff20 50%,#d7ff28 60%,#d7ff28 70%,#f2ff0d 80%,#ff0 82.7%,#ffdc00 90%,#ffcf00);--g34:linear-gradient(90deg,#bfff40,#cfff30 10%,#f5ff0a 20%,#d6ff29 40%,#dfff20 50%,#efff10 60%,#f2ff0d 80%,#ff0 84%,#ffec00 90%,#ffdf00);--g35:linear-gradient(90deg,#bfff40,#c7ff38 10%,#e1ff1e 20%,#d9ff26 30%,#caff35 40%,#dfff20 50%,#ff0 58%,#fff700 60%,#fff700 70%,#ff0 73.8%,#f2ff0d 80%,#ff0 88%,#ffef00);--g36:linear-gradient(90deg,#bfff40,#bfff40 10%,#cf3 20%,#cf3 30%,#bfff40 40%,#dfff20 50%,#ff0 55%,#ffdf00 60%,#ffdf00 70%,#ff0 77.1%,#f2ff0d 80%,#f2ff0d 90%,#ff0);--g37:linear-gradient(90deg,#bfff40,#bfff40 10%,#c9ff36 20%,#c9ff36 30%,#bcff43 40%,#e4ff1b 50%,#ff0 53.6%,#ffcf00 60%,#ffc700 70%,#ff0 79.2%,#faff05 80%,#f5ff0a 90%,#ff0);--g38:linear-gradient(90deg,#bfff40,#bfff40 10%,#c6ff39 20%,#c6ff39 30%,#b9ff46 40%,#e9ff16 50%,#ff0 52.6%,#ffbf00 60%,#ffaf00 70%,#fffc00 80%,#f9ff06 90%,#ff0);--g39:linear-gradient(90deg,#bfff40,#c2ff3d 30%,#b6ff49 40%,#edff12 50%,#ff0 51.8%,#ffaf00 60%,#ff9700 70%,#fff400 80%,#fcff03 90%,#ff0);--g40:linear-gradient(90deg,#bfff40,#bfff40 30%,#b3ff4c 40%,#f2ff0d 50%,#ff0 51.2%,#ff9f00 60%,#ff8000 70%,#ffec00 80%,#ff0 90%,#ff0)">
<div class="s" style="top:0%;background:var(--g1)"><i style="background:var(--g0)"></i></div>
<div class="s" style="top:2.5%;background:var(--g2)"><i style="background:var(--g1)"></i></div>
<div class="s" style="top:5%;background:var(--g3)"><i style="background:var(--g2)"></i></div>
<div class="s" style="top:7.5%;background:var(--g4)"><i style="background:var(--g3)"></i></div>
<div class="s" style="top:10%;background:var(--g5)"><i style="background:var(--g4)"></i></div>
<div class="s" style="top:12.5%;background:var(--g6)"><i style="background:var(--g5)"></i></div>
<div class="s" style="top:15%;background:var(--g7)"><i style="background:var(--g6)"></i></div>
<div class="s" style="top:17.5%;background:var(--g8)"><i style="background:var(--g7)"></i></div>
<div class="s" style="top:20%;background:var(--g9)"><i style="background:var(--g8)"></i></div>
<div class="s" style="top:22.5%;background:var(--g10)"><i style="background:var(--g9)"></i></div>
<div class="s" style="top:25%;background:var(--g11)"><i style="background:var(--g10)"></i></div>
<div class="s" style="top:27.5%;background:var(--g12)"><i style="background:var(--g11)"></i></div>
<div class="s" style="top:30%;background:var(--g13)"><i style="background:var(--g12)"></i></div>
<div class="s" style="top:32.5%;background:var(--g14)"><i style="background:var(--g13)"></i></div>
<div class="s" style="top:35%;background:var(--g15)"><i style="background:var(--g14)"></i></div>
<div class="s" style="top:37.5%;background:var(--g16)"><i style="background:var(--g15)"></i></div>
<div class="s" style="top:40%;background:var(--g17)"><i style="background:var(--g16)"></i></div>
<div class="s" style="top:42.5%;background:var(--g18)"><i style="background:var(--g17)"></i></div>
<div class="s" style="top:45%;background:var(--g19)"><i style="background:var(--g18)"></i></div>
<div class="s" style="top:47.5%;background:var(--g20)"><i style="background:var(--g19)"></i></div>
<div class="s" style="top:50%;background:var(--g21)"><i style="background:var(--g20)"></i></div>
<div class="s" style="top:52.5%;background:var(--g22)"><i style="background:var(--g21)"></i></div>
<div class="s" style="top:55%;background:var(--g23)"><i style="background:var(--g22)"></i></div>
<div class="s" style="top:57.5%;background:var(--g24)"><i style="background:var(--g23)"></i></div>
<div class="s" style="top:60%;background:var(--g25)"><i style="background:var(--g24)"></i></div>
<div class="s" style="top:62.5%;background:var(--g26)"><i style="background:var(--g25)"></i></div>
<div class="s" style="top:65%;background:var(--g27)"><i style="background:var(--g26)"></i></div>
<div class="s" style="top:67.5%;background:var(--g28)"><i style="background:var(--g27)"></i></div>
<div class="s" style="top:70%;background:var(--g29)"><i style="background:var(--g28)"></i></div>
<div class="s" style="top:72.5%;background:var(--g30)"><i style="background:var(--g29)"></i></div>
<div class="s" style="top:75%;background:var(--g31)"><i style="background:var(--g30)"></i></div>
<div class="s" style="top:77.5%;background:var(--g32)"><i style="background:var(--g31)"></i></div>
<div class="s" style="top:80%;background:var(--g33)"><i style="background:var(--g32)"></i></div>
<div class="s" style="top:82.5%;background:var(--g34)"><i style="background:var(--g33)"></i></div>
<div class="s" style="top:85%;background:var(--g35)"><i style="background:var(--g34)"></i></div>
<div class="s" style="top:87.5%;background:var(--g36)"><i style="background:var(--g35)"></i></div>
<div class="s" style="top:90%;background:var(--g37)"><i style="background:var(--g36)"></i></div>
<div class="s" style="top:92.5%;background:var(--g38)"><i style="background:var(--g37)"></i></div>
<div class="s" style="top:95%;background:var(--g39)"><i style="background:var(--g38)"></i></div>
<div class="s" style="top:97.5%;background:var(--g40)"><i style="background:var(--g39)"></i></div>
<b></b></div>
<span class="t xt" style="left:1231.0px;top:751.0px">0</span>
<span class="t yt" style="left:1223.6px;top:730.0px">0</span>
<span class="t xt" style="left:1309.9px;top:751.0px">5</span>
<span class="t yt" style="left:1223.6px;top:650.7px">5</span>
<span class="t xt" style="left:1388.8px;top:751.0px">10</span>
<span class="t yt" style="left:1223.6px;top:571.5px">10</span>
<span class="t xt" style="left:1467.7px;top:751.0px">15</span>
<span class="t yt" style="left:1223.6px;top:492.2px">15</span>
<span class="t xt" style="left:1546.6px;top:751.0px">20</span>
<span class="t yt" style="left:1223.6px;top:412.9px">20</span>
<span class="t xl" style="left:1388.0px;top:775.5px">X-axis</span>
<span class="t yl" style="left:1186.0px;top:570.0px">Y-axis</span>
<span class="t cap" style="left:1389.0px;top:801.0px">(55 ns)</span>
<div class="hm" style="left:66.6px;top:824.4px;width:315.5px;height:314.2px;--g0:linear-gradient(90deg,#9fff60,#ff0 12.3%,#ffbf00 20%,#ffec00 30%,#ff4000 40%,#ff2d00 50%,#ff2000 60%,#f00 63.3%,#bf0000 70%,#8c0000 80%,#f00 86%,#ff4c00 90%,#ff6000);--g1:linear-gradient(90deg,#a3ff5c,#ff0 13.6%,#ffd700 20%,#fff900 30%,#ff4000 40%,#ff2900 50%,#ff2000 60%,#f00 63.6%,#c70000 70%,#900 80%,#f00 85.8%,#ff4900 90%,#ff5b00);--g2:linear-gradient(90deg,#a6ff59,#e5ff1a 10%,#ff0 16.2%,#ffef00 20%,#ff0 27.1%,#f9ff06 30%,#ff0 30.3%,#ff4000 40%,#ff2600 50%,#ff2000 60%,#f00 64%,#cf0000 70%,#a60000 80%,#f00 85.6%,#ff4600 90%,#ff5600);--g3:linear-gradient(90deg,#a9ff56,#e2ff1d 10%,#f7ff08 20%,#ecff13 30%,#ff0 30.9%,#ff4000 40%,#ff2300 50%,#ff2000 60%,#f00 64.4%,#d70000 70%,#b30000 80%,#f00 85.3%,#ff4300 90%,#ff5100);--g4:linear-gradient(90deg,#acff53,#dfff20 10%,#dfff20 30%,#ff0 31.4%,#ff4000 40%,#ff2000 50%,#ff2000 60%,#f00 65%,#df0000 70%,#bf0000 80%,#f00 85%,#ff4000 90%,#ff4c00);--g5:linear-gradient(90deg,#acff53,#d2ff2d 10%,#c7ff38 20%,#dcff23 30%,#ff0 31.7%,#ff5800 40%,#ff2800 50%,#ff2500 60%,#f00 70%,#ea0000 80%,#f00 82.2%,#ff4b00 90%,#ff5100);--g6:linear-gradient(90deg,#acff53,#c6ff39 10%,#afff50 20%,#d9ff26 30%,#ff0 32.1%,#ff7000 40%,#ff3000 50%,#ff1600 80%,#ff5600 90%,#ff5600);--g7:linear-gradient(90deg,#acff53,#b9ff46 10%,#97ff68 20%,#d6ff29 30%,#ff0 32.6%,#ff8700 40%,#ff3800 50%,#ff2e00 60%,#ff4000 70%,#ff4100 80%,#ff6100 90%,#ff5b00);--g8:linear-gradient(90deg,#acff53,#acff53 10%,#80ff80 20%,#d2ff2d 30%,#ff0 33.2%,#ff9f00 40%,#ff4000 50%,#f30 60%,#ff6000 70%,#ff6c00 80%,#ff6c00 90%,#ff6000);--g9:linear-gradient(90deg,#acff53,#acff53 10%,#87ff78 20%,#d1ff2e 30%,#ff0 33.8%,#ffb300 40%,#ff5800 50%,#ff4100 60%,#ff7b00 70%,#ff9100 80%,#ff6c00 90%,#ff5b00);--g10:linear-gradient(90deg,#acff53,#acff53 10%,#8fff70 20%,#cfff30 30%,#ff0 34.5%,#ffc600 40%,#ff7000 50%,#ff5000 60%,#ff9600 70%,#ffb600 80%,#ff6c00 90%,#ff5600);--g11:linear-gradient(90deg,#acff53,#acff53 10%,#97ff68 20%,#ceff31 30%,#ff0 35.6%,#ff8700 50%,#ff5e00 60%,#ffb100 70%,#ffda00 80%,#ff6c00 90%,#ff5100);--g12:linear-gradient(90deg,#acff53,#acff53 10%,#9fff60 20%,#cf3 30%,#ff0 37.3%,#ff9f00 50%,#ff6c00 60%,#fc0 70%,#ff0 80%,#ff6c00 90%,#ff4c00);--g13:linear-gradient(90deg,#acff53,#acff53 10%,#97ff68 20%,#c1ff3e 30%,#ff0 38.1%,#ffaf00 50%,#ff8900 60%,#fc0 70%,#ffef00 80%,#ff6400 90%,#ff4c00);--g14:linear-gradient(90deg,#acff53,#acff53 10%,#8fff70 20%,#b6ff49 30%,#ff0 38.8%,#fff500 40%,#ffbf00 50%,#ffa600 60%,#fc0 70%,#ffdf00 80%,#ff5c00 90%,#ff4c00);--g15:linear-gradient(90deg,#acff53,#acff53 10%,#87ff78 20%,#abff54 30%,#ff0 39.5%,#fffa00 40%,#ffcf00 50%,#ffc200 60%,#fc0 70%,#ffcf00 80%,#ff5400 90%,#ff4c00);--g16:linear-gradient(90deg,#acff53,#acff53 10%,#80ff80 20%,#9fff60 30%,#ff0 40%,#ffdf00 50%,#ffdf00 60%,#fc0 70%,#ffbf00 80%,#ff4c00 90%,#ff4c00);--g17:linear-gradient(90deg,#aeff51,#acff53 10%,#80ff80 20%,#a3ff5c 30%,#ff0 39.7%,#ffd700 50%,#ffd700 60%,#ffba00 80%,#ff5600 90%,#ff5600);--g18:linear-gradient(90deg,#afff50,#acff53 10%,#80ff80 20%,#a6ff59 30%,#ff0 39.3%,#fff900 40%,#ffcf00 50%,#ffcf00 60%,#ffc600 70%,#ffb600 80%,#ff6000 90%,#ff6000);--g19:linear-gradient(90deg,#b1ff4e,#acff53 10%,#80ff80 20%,#a9ff56 30%,#ff0 39%,#fff500 40%,#ffc700 50%,#ffc200 70%,#ffb100 80%,#ff6900 90%,#ff6900);--g20:linear-gradient(90deg,#b3ff4c,#acff53 10%,#80ff80 20%,#acff53 30%,#ff0 38.7%,#fff200 40%,#ffbf00 50%,#ffbf00 70%,#ffac00 80%,#ff7300 90%,#ff7300);--g21:linear-gradient(90deg,#b1ff4e,#a9ff56 10%,#7cff83 20%,#a4ff5b 30%,#ff0 39%,#fff500 40%,#ffbf00 50%,#ffc200 70%,#ffa900 80%,#ff7100 90%,#ff7600);--g22:linear-gradient(90deg,#afff50,#a6ff59 10%,#79ff86 20%,#9cff63 30%,#ff0 39.4%,#ffbf00 50%,#ffbf00 60%,#ffc600 70%,#ffa600 80%,#ff7000 90%,#ff7900);--g23:linear-gradient(90deg,#aeff51,#a3ff5c 10%,#76ff89 20%,#94ff6b 30%,#ff0 39.7%,#ffbf00 50%,#ffbf00 60%,#ffc900 70%,#ffa300 80%,#ff6e00 90%,#ff7c00);--g24:linear-gradient(90deg,#acff53,#9fff60 10%,#73ff8c 20%,#8cff73 30%,#ff0 40%,#ffbf00 50%,#ffbf00 60%,#fc0 70%,#ff9f00 80%,#ff6c00 90%,#ff8000);--g25:linear-gradient(90deg,#a6ff59,#9fff60 10%,#76ff89 20%,#8cff73 30%,#ecff13 40%,#ff0 44%,#ffe200 50%,#ffe700 60%,#fffc00 70%,#ffb300 80%,#ff6400 90%,#ff7800);--g26:linear-gradient(90deg,#9fff60,#9fff60 10%,#79ff86 20%,#8cff73 30%,#d9ff26 40%,#f9ff06 50%,#efff10 60%,#d2ff2d 70%,#ff0 74.4%,#ff5c00 90%,#ff7000);--g27:linear-gradient(90deg,#9f6,#9fff60 10%,#7cff83 20%,#8cff73 30%,#c6ff39 40%,#d6ff29 50%,#c7ff38 60%,#a3ff5c 70%,#ff0 77.1%,#ff5400 90%,#ff6800);--g28:linear-gradient(90deg,#93ff6c,#9fff60 10%,#80ff80 20%,#8cff73 30%,#b3ff4c 40%,#b3ff4c 50%,#9fff60 60%,#73ff8c 70%,#ff0 78.8%,#ff4c00 90%,#ff6000);--g29:linear-gradient(90deg,#8eff71,#9cff63 10%,#97ff68 20%,#a9ff56 30%,#b3ff4c 40%,#b3ff4c 50%,#9fff60 60%,#79ff86 70%,#ff0 79%,#ff4900 90%,#ff6000);--g30:linear-gradient(90deg,#89ff76,#9f6 10%,#c6ff39 30%,#b3ff4c 40%,#b3ff4c 50%,#9fff60 60%,#80ff80 70%,#ff0 79.3%,#ff4600 90%,#ff6000);--g31:linear-gradient(90deg,#84ff7b,#96ff69 10%,#c7ff38 20%,#e2ff1d 30%,#b3ff4c 40%,#b3ff4c 50%,#86ff79 70%,#ff0 79.6%,#ff4300 90%,#ff6000);--g32:linear-gradient(90deg,#80ff80,#93ff6c 10%,#dfff20 20%,#ff0 30%,#b3ff4c 40%,#b3ff4c 50%,#8cff73 70%,#ff0 80%,#ff4000 90%,#ff6000);--g33:linear-gradient(90deg,#78ff87,#8eff71 10%,#efff10 20%,#ff0 27.7%,#fffa00 30%,#ff0 30.6%,#b9ff46 40%,#b9ff46 50%,#96ff69 70%,#efff10 80%,#ff0 81%,#ff7000 90%,#ff8000);--g34:linear-gradient(90deg,#70ff8f,#89ff76 10%,#ff0 20%,#fff500 30%,#ff0 31.3%,#bfff40 40%,#bfff40 50%,#9fff60 70%,#dfff20 80%,#ff0 82.5%,#ff9f00 90%,#ff9f00);--g35:linear-gradient(90deg,#68ff97,#84ff7b 10%,#ff0 18.9%,#ffef00 20%,#fff100 30%,#ff0 32%,#c6ff39 40%,#c6ff39 50%,#a9ff56 70%,#cfff30 80%,#ff0 85%,#ffcf00 90%,#ffbf00);--g36:linear-gradient(90deg,#60ff9f,#80ff80 10%,#ff0 18%,#ffdf00 20%,#ffec00 30%,#ff0 32.7%,#cf3 40%,#cf3 50%,#b3ff4c 70%,#bfff40 80%,#ff0 90%,#ffdf00);--g37:linear-gradient(90deg,#4dffb2,#80ff80 10%,#ff0 18.4%,#ffe700 20%,#fff100 30%,#ff0 32.3%,#ceff31 40%,#d1ff2e 50%,#b6ff49 70%,#bcff43 80%,#efff10 90%,#ff0 95%,#ffef00);--g38:linear-gradient(90deg,#39ffc6,#80ff80 10%,#ff0 18.9%,#ffef00 20%,#fff500 30%,#ff0 31.7%,#cfff30 40%,#d6ff29 50%,#b9ff46 70%,#b9ff46 80%,#dfff20 90%,#ff0);--g39:linear-gradient(90deg,#26ffd9,#80ff80 10%,#ff0 19.4%,#fff700 20%,#fffa00 30%,#ff0 30.9%,#d1ff2e 40%,#daff25 50%,#bcff43 70%,#b6ff49 80%,#cfff30 90%,#efff10);--g40:linear-gradient(90deg,#13ffec,#80ff80 10%,#ff0 20%,#ff0 30%,#d2ff2d 40%,#dfff20 50%,#cf3 60%,#b3ff4c 80%,#bfff40 90%,#dfff20)">
<div class="s" style="top:0%;background:var(--g1)"><i style="background:var(--g0)"></i></div>
<div class="s" style="top:2.5%;background:var(--g2)"><i style="background:var(--g1)"></i></div>
<div class="s" style="top:5%;background:var(--g3)"><i style="background:var(--g2)"></i></div>
<div class="s" style="top:7.5%;background:var(--g4)"><i style="background:var(--g3)"></i></div>
<div class="s" style="top:10%;background:var(--g5)"><i style="background:var(--g4)"></i></div>
<div class="s" style="top:12.5%;background:var(--g6)"><i style="background:var(--g5)"></i></div>
<div class="s" style="top:15%;background:var(--g7)"><i style="background:var(--g6)"></i></div>
<div class="s" style="top:17.5%;background:var(--g8)"><i style="background:var(--g7)"></i></div>
<div class="s" style="top:20%;background:var(--g9)"><i style="background:var(--g8)"></i></div>
<div class="s" style="top:22.5%;background:var(--g10)"><i style="background:var(--g9)"></i></div>
<div class="s" style="top:25%;background:var(--g11)"><i style="background:var(--g10)"></i></div>
<div class="s" style="top:27.5%;background:var(--g12)"><i style="background:var(--g11)"></i></div>
<div class="s" style="top:30%;background:var(--g13)"><i style="background:var(--g12)"></i></div>
<div class="s" style="top:32.5%;background:var(--g14)"><i style="background:var(--g13)"></i></div>
<div class="s" style="top:35%;background:var(--g15)"><i style="background:var(--g14)"></i></div>
<div class="s" style="top:37.5%;background:var(--g16)"><i style="background:var(--g15)"></i></div>
<div class="s" style="top:40%;background:var(--g17)"><i style="background:var(--g16)"></i></div>
<div class="s" style="top:42.5%;background:var(--g18)"><i style="background:var(--g17)"></i></div>
<div class="s" style="top:45%;background:var(--g19)"><i style="background:var(--g18)"></i></div>
<div class="s" style="top:47.5%;background:var(--g20)"><i style="background:var(--g19)"></i></div>
<div class="s" style="top:50%;background:var(--g21)"><i style="background:var(--g20)"></i></div>
<div class="s" style="top:52.5%;background:var(--g22)"><i style="background:var(--g21)"></i></div>
<div class="s" style="top:55%;background:var(--g23)"><i style="background:var(--g22)"></i></div>
<div class="s" style="top:57.5%;background:var(--g24)"><i style="background:var(--g23)"></i></div>
<div class="s" style="top:60%;background:var(--g25)"><i style="background:var(--g24)"></i></div>
<div class="s" style="top:62.5%;background:var(--g26)"><i style="background:var(--g25)"></i></div>
<div class="s" style="top:65%;background:var(--g27)"><i style="background:var(--g26)"></i></div>
<div class="s" style="top:67.5%;background:var(--g28)"><i style="background:var(--g27)"></i></div>
<div class="s" style="top:70%;background:var(--g29)"><i style="background:var(--g28)"></i></div>
<div class="s" style="top:72.5%;background:var(--g30)"><i style="background:var(--g29)"></i></div>
<div class="s" style="top:75%;background:var(--g31)"><i style="background:var(--g30)"></i></div>
<div class="s" style="top:77.5%;background:var(--g32)"><i style="background:var(--g31)"></i></div>
<div class="s" style="top:80%;background:var(--g33)"><i style="background:var(--g32)"></i></div>
<div class="s" style="top:82.5%;background:var(--g34)"><i style="background:var(--g33)"></i></div>
<div class="s" style="top:85%;background:var(--g35)"><i style="background:var(--g34)"></i></div>
<div class="s" style="top:87.5%;background:var(--g36)"><i style="background:var(--g35)"></i></div>
<div class="s" style="top:90%;background:var(--g37)"><i style="background:var(--g36)"></i></div>
<div class="s" style="top:92.5%;background:var(--g38)"><i style="background:var(--g37)"></i></div>
<div class="s" style="top:95%;background:var(--g39)"><i style="background:var(--g38)"></i></div>
<div class="s" style="top:97.5%;background:var(--g40)"><i style="background:var(--g39)"></i></div>
<b></b></div>
<span class="t xt" style="left:66.6px;top:1158.8px">0</span>
<span class="t yt" style="left:60.0px;top:1138.6px">0</span>
<span class="t xt" style="left:145.5px;top:1158.8px">5</span>
<span class="t yt" style="left:60.0px;top:1060.0px">5</span>
<span class="t xt" style="left:224.3px;top:1158.8px">10</span>
<span class="t yt" style="left:60.0px;top:981.5px">10</span>
<span class="t xt" style="left:303.2px;top:1158.8px">15</span>
<span class="t yt" style="left:60.0px;top:902.9px">15</span>
<span class="t xt" style="left:382.1px;top:1158.8px">20</span>
<span class="t yt" style="left:60.0px;top:824.4px">20</span>
<span class="t xl" style="left:224.0px;top:1183.0px">X-axis</span>
<span class="t yl" style="left:24.4px;top:980.0px">Y-axis</span>
<span class="t cap" style="left:221.0px;top:1208.0px">(75 ns)</span>
<div class="hm" style="left:451.7px;top:822.7px;width:324.7px;height:324.7px;--g0:linear-gradient(90deg,#20ffdf,#ff0 11.7%,#ff6000 20%,#ff4000 30%,#f00 40%,#df0000 50%,#df0000 90%,#bf0000);--g1:linear-gradient(90deg,#30ffcf,#ff0 11.8%,#ff7000 20%,#ff5000 30%,#f00 39.1%,#f70000 40%,#ca0000 50%,#e70000 80%,#e20000 90%,#c20000);--g2:linear-gradient(90deg,#40ffbf,#ff0 12%,#ff8000 20%,#ff6000 30%,#f00 38.6%,#ef0000 40%,#b60000 50%,#c60000 60%,#df0000 70%,#ef0000 80%,#e50000 90%,#c60000);--g3:linear-gradient(90deg,#50ffaf,#ff0 12.2%,#ff8f00 20%,#ff7000 30%,#f00 38.2%,#e70000 40%,#a10000 50%,#b90000 60%,#df0000 70%,#f70000 80%,#e90000 90%,#c90000);--g4:linear-gradient(90deg,#60ff9f,#ff0 12.5%,#ff9f00 20%,#ff8000 30%,#f00 38%,#df0000 40%,#8c0000 50%,#ac0000 60%,#df0000 70%,#f00 80%,#ec0000 90%,#c00);--g5:linear-gradient(90deg,#68ff97,#ff0 13.6%,#ffb700 20%,#ff8f00 30%,#ff0800 40%,#f00 40.9%,#b10000 50%,#b10000 60%,#e70000 70%,#f00 77.5%,#ff0800 80%,#f00 83.6%,#f10000 90%,#d10000);--g6:linear-gradient(90deg,#70ff8f,#ff0 15%,#ffcf00 20%,#ff9f00 30%,#ff3000 40%,#f00 45.4%,#d60000 50%,#b60000 60%,#ef0000 70%,#f00 75%,#ff1000 80%,#f00 86.2%,#d60000);--g7:linear-gradient(90deg,#78ff87,#ff0 17%,#ffe700 20%,#ffaf00 30%,#ff5800 40%,#f00 49.5%,#ba0000 60%,#f70000 70%,#f00 72.5%,#ff1800 80%,#f00 88.3%,#da0000);--g8:linear-gradient(90deg,#80ff80,#ff0 20%,#ff8000 40%,#f00 53.3%,#bf0000 60%,#f00 70%,#ff2000 80%,#f00 90%,#df0000);--g9:linear-gradient(90deg,#87ff78,#bfff40 10%,#ff0 18.9%,#ffb300 30%,#ff8f00 40%,#ff4000 50%,#f00 57.3%,#e70000 60%,#f00 65%,#ff1800 70%,#ff3000 80%,#f00 88.6%,#f70000 90%,#df0000);--g10:linear-gradient(90deg,#8fff70,#bfff40 10%,#ff0 18%,#ffa600 30%,#ff9f00 40%,#ff6000 50%,#ff1000 60%,#ff3000 70%,#ff4000 80%,#f00 88%,#ef0000 90%,#df0000);--g11:linear-gradient(90deg,#97ff68,#bfff40 10%,#ff0 17.3%,#f90 30%,#ffaf00 40%,#ff8000 50%,#ff3800 60%,#ff4800 70%,#ff5000 80%,#f00 87.7%,#e70000 90%,#df0000);--g12:linear-gradient(90deg,#9fff60,#bfff40 10%,#ff0 16.7%,#ffdf00 20%,#ff8c00 30%,#ffbf00 40%,#ff9f00 50%,#ff6000 60%,#ff6000 80%,#f00 87.5%,#df0000 90%,#df0000);--g13:linear-gradient(90deg,#a7ff58,#caff35 10%,#ff0 16.2%,#ffdf00 20%,#f90 30%,#ffc700 40%,#ffaf00 50%,#ff8700 60%,#ff6800 80%,#f00 87.6%,#df0000 90%,#df0000);--g14:linear-gradient(90deg,#afff50,#d6ff29 10%,#ff0 15.7%,#ffdf00 20%,#ffa600 30%,#ffcf00 40%,#ffaf00 60%,#ff7000 80%,#f00 87.8%,#df0000 90%,#df0000);--g15:linear-gradient(90deg,#b7ff48,#e1ff1e 10%,#ff0 14.9%,#ffdf00 20%,#ffb300 30%,#ffd700 40%,#ffcf00 50%,#ffd700 60%,#ff7800 80%,#f00 87.9%,#df0000 90%,#df0000);--g16:linear-gradient(90deg,#bfff40,#ff0 13.8%,#ffdf00 20%,#ffbf00 30%,#ffdf00 40%,#ffdf00 50%,#ff0 60%,#ff8000 80%,#f00 88%,#df0000 90%,#df0000);--g17:linear-gradient(90deg,#c2ff3d,#edff12 10%,#ff0 13.1%,#ffd700 20%,#ffc200 30%,#ffd700 40%,#ffd200 50%,#fff200 60%,#ffba00 70%,#ff7800 80%,#f00 88.3%,#e70000 90%,#e70000);--g18:linear-gradient(90deg,#c6ff39,#efff10 10%,#ff0 12.5%,#ffcf00 20%,#ffc600 30%,#ffcf00 40%,#ffc600 50%,#ffe500 60%,#ffb600 70%,#ff7000 80%,#f00 88.8%,#ef0000 90%,#ef0000);--g19:linear-gradient(90deg,#c9ff36,#f1ff0e 10%,#ff0 12%,#ffc700 20%,#ffc700 40%,#ffb900 50%,#ffd900 60%,#ffb100 70%,#ff6800 80%,#f00 89.3%,#f70000 90%,#f70000);--g20:linear-gradient(90deg,#cf3,#f2ff0d 10%,#ff0 11.7%,#ffbf00 20%,#fc0 30%,#ffbf00 40%,#ffac00 50%,#fc0 60%,#ffac00 70%,#ff6000 80%,#f00 90%,#f00);--g21:linear-gradient(90deg,#d1ff2e,#ff0 9.4%,#ffca00 20%,#ffd900 30%,#ffac00 50%,#fc0 60%,#ffb100 70%,#ff6800 80%,#f00 90%,#f00);--g22:linear-gradient(90deg,#d6ff29,#ff0 6.8%,#ffec00 10%,#ffd600 20%,#ffe500 30%,#ffac00 50%,#fc0 60%,#ffb600 70%,#ff7000 80%,#f00 90%,#f00);--g23:linear-gradient(90deg,#daff25,#ff0 5.1%,#ffdc00 10%,#ffe100 20%,#fff200 30%,#ffc900 40%,#ffac00 50%,#fc0 60%,#ffba00 70%,#ff7800 80%,#f00 90%,#f00);--g24:linear-gradient(90deg,#dfff20,#ff0 3.8%,#fc0 10%,#ffec00 20%,#ff0 30%,#fc0 40%,#ffac00 50%,#fc0 60%,#ffbf00 70%,#ff8000 80%,#f00 90%,#f00);--g25:linear-gradient(90deg,#d7ff28,#ff0 6.4%,#ffe900 10%,#ff0 17.8%,#f9ff06 20%,#efff10 30%,#ff0 32.9%,#ffd900 40%,#ffc100 50%,#ffd900 60%,#ffca00 70%,#ff8300 80%,#f00 89.6%,#fa0000 90%,#fa0000);--g26:linear-gradient(90deg,#cfff30,#f9ff06 10%,#dfff20 20%,#dfff20 30%,#ff0 35.6%,#ffe500 40%,#ffd600 50%,#ffe500 60%,#ffd600 70%,#ff8600 80%,#f00 89.3%,#f50000 90%,#f50000);--g27:linear-gradient(90deg,#c7ff38,#dcff23 10%,#c6ff39 20%,#cfff30 30%,#ff0 37.9%,#fff200 40%,#ffea00 50%,#fff200 60%,#ffe100 70%,#ff8900 80%,#f00 89.1%,#f10000 90%,#f10000);--g28:linear-gradient(90deg,#bfff40,#bfff40 10%,#acff53 20%,#bfff40 30%,#ff0 40%,#ff0 60%,#ffec00 70%,#ff8c00 80%,#f00 88.8%,#ec0000 90%,#ec0000);--g29:linear-gradient(90deg,#baff45,#c4ff3b 10%,#c1ff3e 20%,#cfff30 30%,#ff0 40%,#faff05 50%,#ff0 60%,#ffe400 70%,#ff8900 80%,#f00 88.3%,#e40000 90%,#e90000);--g30:linear-gradient(90deg,#b6ff49,#c9ff36 10%,#dfff20 30%,#ff0 40%,#f5ff0a 50%,#ff0 60%,#ffdc00 70%,#ff8600 80%,#f00 87.9%,#dc0000 90%,#e50000);--g31:linear-gradient(90deg,#b1ff4e,#eaff15 20%,#efff10 30%,#ff0 40%,#f1ff0e 50%,#ff0 60%,#ffd400 70%,#ff8300 80%,#f00 87.5%,#d40000 90%,#e20000);--g32:linear-gradient(90deg,#acff53,#d2ff2d 10%,#ff0 20%,#ff0 40%,#ecff13 50%,#ff0 60%,#fc0 70%,#ff8000 80%,#f00 87.1%,#c00 90%,#df0000);--g33:linear-gradient(90deg,#aeff51,#d6ff29 10%,#ff0 15.9%,#ffe200 20%,#ffea00 30%,#ff0 40%,#f5ff0a 50%,#ff0 56.7%,#fffa00 60%,#ffbc00 70%,#ff8c00 80%,#ff0200 90%,#ff0800);--g34:linear-gradient(90deg,#afff50,#d9ff26 10%,#ff0 14%,#ffc600 20%,#ffd600 30%,#ff0 40%,#ff0 50%,#fff500 60%,#ffac00 70%,#f90 80%,#ff3600 90%,#ff3000);--g35:linear-gradient(90deg,#b1ff4e,#dcff23 10%,#ff0 12.9%,#ffa900 20%,#ffc100 30%,#ff0 40%,#fff500 50%,#fff100 60%,#ff9c00 70%,#ffa600 80%,#ff6b00 90%,#ff5800);--g36:linear-gradient(90deg,#b3ff4c,#dfff20 10%,#ff0 12.2%,#ff8c00 20%,#ffac00 30%,#ff0 40%,#ffec00 50%,#ffec00 60%,#ff8c00 70%,#ffb300 80%,#ff9f00 90%,#ff8000);--g37:linear-gradient(90deg,#b3ff4c,#e4ff1b 10%,#ff0 11.9%,#ff8c00 20%,#ffac00 30%,#ff0 40%,#ffe400 50%,#ffe400 60%,#ff8c00 70%,#ffb100 80%,#ffa700 90%,#ff9300);--g38:linear-gradient(90deg,#b3ff4c,#e9ff16 10%,#ff0 11.6%,#ff8c00 20%,#ffac00 30%,#ff0 40%,#ffdc00 50%,#ffdc00 60%,#ff8c00 70%,#ffaf00 80%,#ffaf00 90%,#ffa600);--g39:linear-gradient(90deg,#b3ff4c,#edff12 10%,#ff0 11.3%,#ff8c00 20%,#ffac00 30%,#ff0 40%,#ffd400 50%,#ffd400 60%,#ff8c00 70%,#ffae00 80%,#ffb700 90%,#ffb900);--g40:linear-gradient(90deg,#b3ff4c,#f2ff0d 10%,#ff0 11%,#ff8c00 20%,#ffac00 30%,#ff0 40%,#fc0 50%,#fc0 60%,#ff8c00 70%,#ffac00 80%,#ffbf00 90%,#fc0)">
<div class="s" style="top:0%;background:var(--g1)"><i style="background:var(--g0)"></i></div>
<div class="s" style="top:2.5%;background:var(--g2)"><i style="background:var(--g1)"></i></div>
<div class="s" style="top:5%;background:var(--g3)"><i style="background:var(--g2)"></i></div>
<div class="s" style="top:7.5%;background:var(--g4)"><i style="background:var(--g3)"></i></div>
<div class="s" style="top:10%;background:var(--g5)"><i style="background:var(--g4)"></i></div>
<div class="s" style="top:12.5%;background:var(--g6)"><i style="background:var(--g5)"></i></div>
<div class="s" style="top:15%;background:var(--g7)"><i style="background:var(--g6)"></i></div>
<div class="s" style="top:17.5%;background:var(--g8)"><i style="background:var(--g7)"></i></div>
<div class="s" style="top:20%;background:var(--g9)"><i style="background:var(--g8)"></i></div>
<div class="s" style="top:22.5%;background:var(--g10)"><i style="background:var(--g9)"></i></div>
<div class="s" style="top:25%;background:var(--g11)"><i style="background:var(--g10)"></i></div>
<div class="s" style="top:27.5%;background:var(--g12)"><i style="background:var(--g11)"></i></div>
<div class="s" style="top:30%;background:var(--g13)"><i style="background:var(--g12)"></i></div>
<div class="s" style="top:32.5%;background:var(--g14)"><i style="background:var(--g13)"></i></div>
<div class="s" style="top:35%;background:var(--g15)"><i style="background:var(--g14)"></i></div>
<div class="s" style="top:37.5%;background:var(--g16)"><i style="background:var(--g15)"></i></div>
<div class="s" style="top:40%;background:var(--g17)"><i style="background:var(--g16)"></i></div>
<div class="s" style="top:42.5%;background:var(--g18)"><i style="background:var(--g17)"></i></div>
<div class="s" style="top:45%;background:var(--g19)"><i style="background:var(--g18)"></i></div>
<div class="s" style="top:47.5%;background:var(--g20)"><i style="background:var(--g19)"></i></div>
<div class="s" style="top:50%;background:var(--g21)"><i style="background:var(--g20)"></i></div>
<div class="s" style="top:52.5%;background:var(--g22)"><i style="background:var(--g21)"></i></div>
<div class="s" style="top:55%;background:var(--g23)"><i style="background:var(--g22)"></i></div>
<div class="s" style="top:57.5%;background:var(--g24)"><i style="background:var(--g23)"></i></div>
<div class="s" style="top:60%;background:var(--g25)"><i style="background:var(--g24)"></i></div>
<div class="s" style="top:62.5%;background:var(--g26)"><i style="background:var(--g25)"></i></div>
<div class="s" style="top:65%;background:var(--g27)"><i style="background:var(--g26)"></i></div>
<div class="s" style="top:67.5%;background:var(--g28)"><i style="background:var(--g27)"></i></div>
<div class="s" style="top:70%;background:var(--g29)"><i style="background:var(--g28)"></i></div>
<div class="s" style="top:72.5%;background:var(--g30)"><i style="background:var(--g29)"></i></div>
<div class="s" style="top:75%;background:var(--g31)"><i style="background:var(--g30)"></i></div>
<div class="s" style="top:77.5%;background:var(--g32)"><i style="background:var(--g31)"></i></div>
<div class="s" style="top:80%;background:var(--g33)"><i style="background:var(--g32)"></i></div>
<div class="s" style="top:82.5%;background:var(--g34)"><i style="background:var(--g33)"></i></div>
<div class="s" style="top:85%;background:var(--g35)"><i style="background:var(--g34)"></i></div>
<div class="s" style="top:87.5%;background:var(--g36)"><i style="background:var(--g35)"></i></div>
<div class="s" style="top:90%;background:var(--g37)"><i style="background:var(--g36)"></i></div>
<div class="s" style="top:92.5%;background:var(--g38)"><i style="background:var(--g37)"></i></div>
<div class="s" style="top:95%;background:var(--g39)"><i style="background:var(--g38)"></i></div>
<div class="s" style="top:97.5%;background:var(--g40)"><i style="background:var(--g39)"></i></div>
<b></b></div>
<span class="t xt" style="left:451.7px;top:1167.5px">0</span>
<span class="t yt" style="left:444.5px;top:1147.4px">0</span>
<span class="t xt" style="left:532.9px;top:1167.5px">5</span>
<span class="t yt" style="left:444.5px;top:1066.2px">5</span>
<span class="t xt" style="left:614.0px;top:1167.5px">10</span>
<span class="t yt" style="left:444.5px;top:985.1px">10</span>
<span class="t xt" style="left:695.2px;top:1167.5px">15</span>
<span class="t yt" style="left:444.5px;top:903.9px">15</span>
<span class="t xt" style="left:776.4px;top:1167.5px">20</span>
<span class="t yt" style="left:444.5px;top:822.7px">20</span>
<span class="t xl" style="left:614.0px;top:1184.0px">X-axis</span>
<span class="t yl" style="left:408.0px;top:983.4px">Y-axis</span>
<span class="t cap" style="left:612.0px;top:1210.0px">(85 ns)</span>
<div class="hm" style="left:845.9px;top:819.5px;width:319.8px;height:323.0px;--g0:linear-gradient(90deg,#20ffdf,#ff0 10%,#f00 19.3%,#ec0000 20%,#f00 23.8%,#ff2000 30%,#ff6c00 40%,#ff4c00 50%,#ff4c00 60%,#ff2d00 70%,#f00 80%,#8c0000 90%,#9f0000);--g1:linear-gradient(90deg,#30ffcf,#ff0 10%,#f00 19.8%,#f90000 20%,#f00 21.4%,#ff2800 30%,#ff6c00 40%,#ff4c00 50%,#ff4c00 60%,#ff3100 70%,#ff0800 80%,#f00 80.7%,#910000 90%,#a30000);--g2:linear-gradient(90deg,#40ffbf,#ff0 10%,#ff0600 20%,#ff3000 30%,#ff6c00 40%,#ff4c00 50%,#ff4c00 60%,#ff3600 70%,#ff1000 80%,#f00 81.3%,#960000 90%,#a60000);--g3:linear-gradient(90deg,#50ffaf,#ff0 10%,#ff1300 20%,#ff3800 30%,#ff6c00 40%,#ff4c00 50%,#ff4c00 60%,#ff3b00 70%,#ff1800 80%,#f00 81.9%,#9b0000 90%,#a90000);--g4:linear-gradient(90deg,#60ff9f,#ff0 10%,#ff2000 20%,#ff4000 30%,#ff6c00 40%,#ff4c00 50%,#ff4c00 60%,#ff4000 70%,#ff2000 80%,#f00 82.5%,#9f0000 90%,#ac0000);--g5:linear-gradient(90deg,#70ff8f,#ff0 10.2%,#ff3800 20%,#ff4800 30%,#ff6c00 40%,#ff4c00 50%,#ff4300 70%,#ff2800 80%,#f00 83.6%,#b70000 90%,#c10000);--g6:linear-gradient(90deg,#80ff80,#ff0 10.4%,#ff5000 20%,#ff5000 30%,#ff6c00 40%,#ff4c00 50%,#ff4600 60%,#ff4600 70%,#ff3000 80%,#f00 85%,#cf0000 90%,#d60000);--g7:linear-gradient(90deg,#8fff70,#f5ff0a 10%,#ff0 10.6%,#ff6800 20%,#ff5800 30%,#ff6c00 40%,#ff4c00 50%,#ff4300 60%,#ff4900 70%,#ff3800 80%,#f00 87%,#e70000 90%,#ea0000);--g8:linear-gradient(90deg,#9fff60,#f2ff0d 10%,#ff0 10.9%,#ff8000 20%,#ff6000 30%,#ff6c00 40%,#ff4c00 50%,#ff4000 60%,#ff4c00 70%,#ff4000 80%,#f00 90%,#f00);--g9:linear-gradient(90deg,#a3ff5c,#edff12 10%,#ff0 11.2%,#ff8000 20%,#ff5300 30%,#ff7400 40%,#ff5400 50%,#ff4800 60%,#ff5400 70%,#ff4800 80%,#ff0800 90%,#ff0800);--g10:linear-gradient(90deg,#a6ff59,#e9ff16 10%,#ff0 11.5%,#ff8000 20%,#ff4600 30%,#ff7c00 40%,#ff5c00 50%,#ff5000 60%,#ff5c00 70%,#ff5000 80%,#ff1000 90%,#ff1000);--g11:linear-gradient(90deg,#a9ff56,#e4ff1b 10%,#ff0 11.8%,#ff8000 20%,#ff3900 30%,#ff8400 40%,#ff6400 50%,#ff5800 60%,#ff6400 70%,#ff5800 80%,#ff1800 90%,#ff1800);--g12:linear-gradient(90deg,#acff53,#dfff20 10%,#ff0 12%,#ff8000 20%,#ff2d00 30%,#ff8c00 40%,#ff6c00 50%,#ff6000 60%,#ff6c00 70%,#ff6000 80%,#ff2000 90%,#ff2000);--g13:linear-gradient(90deg,#a4ff5b,#d7ff28 10%,#ff0 12.6%,#ff8b00 20%,#ff4900 30%,#ffb100 40%,#ff9600 50%,#ff8700 60%,#ff9100 70%,#ff8300 80%,#ff3800 90%,#ff3000);--g14:linear-gradient(90deg,#9cff63,#cfff30 10%,#ff0 13.1%,#ff9600 20%,#f60 30%,#ffd600 40%,#ffbf00 50%,#ffaf00 60%,#ffb600 70%,#ffa600 80%,#ff5000 90%,#ff4000);--g15:linear-gradient(90deg,#94ff6b,#c7ff38 10%,#ff0 13.7%,#ffa100 20%,#ff8300 30%,#fffa00 40%,#ffd700 60%,#ffda00 70%,#ffc900 80%,#ff6800 90%,#ff5000);--g16:linear-gradient(90deg,#8cff73,#bfff40 10%,#ff0 14.3%,#ffac00 20%,#ff9f00 30%,#ff0 37.5%,#dfff20 40%,#ecff13 50%,#ff0 60%,#ff0 70%,#ffec00 80%,#ff8000 90%,#ff6000);--g17:linear-gradient(90deg,#89ff76,#bcff43 10%,#ff0 14.4%,#ffa900 20%,#ff9b00 30%,#ff0 37.8%,#e2ff1d 40%,#edff12 50%,#ff0 58.5%,#ffd900 80%,#ff7300 90%,#ff5400);--g18:linear-gradient(90deg,#86ff79,#b9ff46 10%,#ff0 14.4%,#ffa600 20%,#ff9600 30%,#ff0 38%,#e5ff1a 40%,#efff10 50%,#ff0 57.1%,#fff900 60%,#ffd600 70%,#ffc600 80%,#f60 90%,#ff4900);--g19:linear-gradient(90deg,#83ff7c,#b6ff49 10%,#ff0 14.4%,#ffa300 20%,#ff9100 30%,#ff0 38.3%,#e9ff16 40%,#f1ff0e 50%,#ff0 56%,#fff500 60%,#ffc100 70%,#ffb300 80%,#ff5900 90%,#ff3e00);--g20:linear-gradient(90deg,#80ff80,#b3ff4c 10%,#ff0 14.4%,#ff9f00 20%,#ff8c00 30%,#ff0 38.6%,#ecff13 40%,#f2ff0d 50%,#ff0 55%,#fff200 60%,#ffac00 70%,#ff9f00 80%,#ff4c00 90%,#f30);--g21:linear-gradient(90deg,#8bff74,#baff45 10%,#ff0 14.3%,#ffa300 20%,#ff8c00 30%,#ff0 38.6%,#ecff13 40%,#f1ff0e 50%,#ff0 56%,#fff500 60%,#ffa100 70%,#ff9700 80%,#ff5400 90%,#ff3e00);--g22:linear-gradient(90deg,#96ff69,#c2ff3d 10%,#ff0 14%,#ffa600 20%,#ff8c00 30%,#ff0 38.6%,#ecff13 40%,#efff10 50%,#ff0 57.1%,#fff900 60%,#ff9600 70%,#ff8f00 80%,#ff5c00 90%,#ff4900);--g23:linear-gradient(90deg,#a1ff5e,#caff35 10%,#ff0 13.8%,#ffa900 20%,#ff8c00 30%,#ff0 38.6%,#ecff13 40%,#edff12 50%,#ff0 58.5%,#fffc00 60%,#ff8b00 70%,#ff8700 80%,#ff6400 90%,#ff5400);--g24:linear-gradient(90deg,#acff53,#d2ff2d 10%,#ff0 13.5%,#ffac00 20%,#ff8c00 30%,#ff0 38.6%,#ecff13 40%,#ecff13 50%,#ff0 60%,#ff8000 70%,#ff8000 80%,#ff6c00 90%,#ff6000);--g25:linear-gradient(90deg,#beff41,#deff21 10%,#ff0 13.5%,#ffc100 20%,#ffa600 30%,#ff0 37.5%,#e1ff1e 40%,#dcff23 50%,#efff10 60%,#ff0 61.2%,#ff8700 70%,#ff8300 80%,#ff7100 90%,#ff6800);--g26:linear-gradient(90deg,#cfff30,#e9ff16 10%,#ff0 13.5%,#ffd600 20%,#ffbf00 30%,#ff0 36.1%,#d6ff29 40%,#cf3 50%,#dfff20 60%,#ff0 62.2%,#ff8f00 70%,#ff8600 80%,#ff7600 90%,#ff7000);--g27:linear-gradient(90deg,#e1ff1e,#f4ff0b 10%,#ff0 13.5%,#ffea00 20%,#ffd900 30%,#ff0 34.2%,#caff35 40%,#bcff43 50%,#cfff30 60%,#ff0 63.2%,#ff9700 70%,#ff7b00 90%,#ff7800);--g28:linear-gradient(90deg,#f2ff0d,#ff0 10%,#ff0 20%,#fff200 30%,#ff0 31.7%,#bfff40 40%,#acff53 50%,#bfff40 60%,#ff0 64%,#ff9f00 70%,#ff8c00 80%,#ff8000 90%,#ff8000);--g29:linear-gradient(90deg,#edff12,#ff0 12%,#fff200 20%,#ffe900 30%,#ff0 32.5%,#baff45 40%,#a9ff56 50%,#b4ff4b 60%,#ff0 64.4%,#ff9f00 70%,#ff7800 90%,#ff7300);--g30:linear-gradient(90deg,#e9ff16,#ff0 12%,#ffe500 20%,#ffdf00 30%,#ff0 33%,#b6ff49 40%,#a6ff59 50%,#a9ff56 60%,#ff0 64.7%,#ff9f00 70%,#ff8c00 80%,#ff7000 90%,#f60);--g31:linear-gradient(90deg,#e4ff1b,#f5ff0a 10%,#ff0 12%,#ffd900 20%,#ffd600 30%,#ff0 33.5%,#b1ff4e 40%,#a3ff5c 50%,#9eff61 60%,#ff0 65%,#ff9f00 70%,#ff8c00 80%,#ff6800 90%,#ff5900);--g32:linear-gradient(90deg,#dfff20,#f2ff0d 10%,#ff0 12%,#fc0 20%,#fc0 30%,#ff0 33.8%,#acff53 40%,#93ff6c 60%,#ff0 65.3%,#ff9f00 70%,#ff8c00 80%,#ff6000 90%,#ff4c00);--g33:linear-gradient(90deg,#dfff20,#f2ff0d 10%,#ff0 11.6%,#ffbc00 20%,#ffc100 30%,#ff0 34.3%,#aeff51 40%,#a3ff5c 50%,#a1ff5e 60%,#ff0 65%,#ffa300 70%,#ffa400 80%,#ff7800 90%,#ff6100);--g34:linear-gradient(90deg,#dfff20,#f2ff0d 10%,#ff0 11.3%,#ffac00 20%,#ffb600 30%,#ff0 34.8%,#afff50 40%,#a6ff59 50%,#afff50 60%,#ff0 64.7%,#ffa600 70%,#ffbc00 80%,#ff8f00 90%,#ff7600);--g35:linear-gradient(90deg,#dfff20,#f2ff0d 10%,#ff0 11.1%,#ff9c00 20%,#ffab00 30%,#ff0 35.2%,#b1ff4e 40%,#a9ff56 50%,#beff41 60%,#ff0 64.3%,#ffa900 70%,#ffd400 80%,#ffa700 90%,#ff8b00);--g36:linear-gradient(90deg,#dfff20,#f2ff0d 10%,#ff0 11%,#ff8c00 20%,#ff9f00 30%,#ff0 35.6%,#b3ff4c 40%,#acff53 50%,#cf3 60%,#ff0 63.8%,#ffac00 70%,#ffec00 80%,#ffbf00 90%,#ff9f00);--g37:linear-gradient(90deg,#dfff20,#f5ff0a 10%,#ff0 10.8%,#ff9400 20%,#ffa700 30%,#ff0 35.6%,#b9ff46 40%,#b4ff4b 50%,#d4ff2b 60%,#ff0 63.4%,#ffac00 70%,#fff100 80%,#ffc700 90%,#ffa700);--g38:linear-gradient(90deg,#dfff20,#f9ff06 10%,#ff0 10.6%,#ff9c00 20%,#ffaf00 30%,#ff0 35.6%,#bfff40 40%,#bcff43 50%,#dcff23 60%,#ff0 63%,#ffac00 70%,#fff500 80%,#ffcf00 90%,#ffaf00);--g39:linear-gradient(90deg,#dfff20,#ff0 10.3%,#ffa400 20%,#ffb700 30%,#ff0 35.6%,#c6ff39 40%,#c4ff3b 50%,#e4ff1b 60%,#ff0 62.5%,#ffac00 70%,#fffa00 80%,#ffb700);--g40:linear-gradient(90deg,#dfff20,#ff0 10%,#ffac00 20%,#ffbf00 30%,#ff0 35.6%,#cf3 40%,#cf3 50%,#ecff13 60%,#ff0 61.9%,#ffac00 70%,#ff0 80%,#ffbf00)">
<div class="s" style="top:0%;background:var(--g1)"><i style="background:var(--g0)"></i></div>
<div class="s" style="top:2.5%;background:var(--g2)"><i style="background:var(--g1)"></i></div>
<div class="s" style="top:5%;background:var(--g3)"><i style="background:var(--g2)"></i></div>
<div class="s" style="top:7.5%;background:var(--g4)"><i style="background:var(--g3)"></i></div>
<div class="s" style="top:10%;background:var(--g5)"><i style="background:var(--g4)"></i></div>
<div class="s" style="top:12.5%;background:var(--g6)"><i style="background:var(--g5)"></i></div>
<div class="s" style="top:15%;background:var(--g7)"><i style="background:var(--g6)"></i></div>
<div class="s" style="top:17.5%;background:var(--g8)"><i style="background:var(--g7)"></i></div>
<div class="s" style="top:20%;background:var(--g9)"><i style="background:var(--g8)"></i></div>
<div class="s" style="top:22.5%;background:var(--g10)"><i style="background:var(--g9)"></i></div>
<div class="s" style="top:25%;background:var(--g11)"><i style="background:var(--g10)"></i></div>
<div class="s" style="top:27.5%;background:var(--g12)"><i style="background:var(--g11)"></i></div>
<div class="s" style="top:30%;background:var(--g13)"><i style="background:var(--g12)"></i></div>
<div class="s" style="top:32.5%;background:var(--g14)"><i style="background:var(--g13)"></i></div>
<div class="s" style="top:35%;background:var(--g15)"><i style="background:var(--g14)"></i></div>
<div class="s" style="top:37.5%;background:var(--g16)"><i style="background:var(--g15)"></i></div>
<div class="s" style="top:40%;background:var(--g17)"><i style="background:var(--g16)"></i></div>
<div class="s" style="top:42.5%;background:var(--g18)"><i style="background:var(--g17)"></i></div>
<div class="s" style="top:45%;background:var(--g19)"><i style="background:var(--g18)"></i></div>
<div class="s" style="top:47.5%;background:var(--g20)"><i style="background:var(--g19)"></i></div>
<div class="s" style="top:50%;background:var(--g21)"><i style="background:var(--g20)"></i></div>
<div class="s" style="top:52.5%;background:var(--g22)"><i style="background:var(--g21)"></i></div>
<div class="s" style="top:55%;background:var(--g23)"><i style="background:var(--g22)"></i></div>
<div class="s" style="top:57.5%;background:var(--g24)"><i style="background:var(--g23)"></i></div>
<div class="s" style="top:60%;background:var(--g25)"><i style="background:var(--g24)"></i></div>
<div class="s" style="top:62.5%;background:var(--g26)"><i style="background:var(--g25)"></i></div>
<div class="s" style="top:65%;background:var(--g27)"><i style="background:var(--g26)"></i></div>
<div class="s" style="top:67.5%;background:var(--g28)"><i style="background:var(--g27)"></i></div>
<div class="s" style="top:70%;background:var(--g29)"><i style="background:var(--g28)"></i></div>
<div class="s" style="top:72.5%;background:var(--g30)"><i style="background:var(--g29)"></i></div>
<div class="s" style="top:75%;background:var(--g31)"><i style="background:var(--g30)"></i></div>
<div class="s" style="top:77.5%;background:var(--g32)"><i style="background:var(--g31)"></i></div>
<div class="s" style="top:80%;background:var(--g33)"><i style="background:var(--g32)"></i></div>
<div class="s" style="top:82.5%;background:var(--g34)"><i style="background:var(--g33)"></i></div>
<div class="s" style="top:85%;background:var(--g35)"><i style="background:var(--g34)"></i></div>
<div class="s" style="top:87.5%;background:var(--g36)"><i style="background:var(--g35)"></i></div>
<div class="s" style="top:90%;background:var(--g37)"><i style="background:var(--g36)"></i></div>
<div class="s" style="top:92.5%;background:var(--g38)"><i style="background:var(--g37)"></i></div>
<div class="s" style="top:95%;background:var(--g39)"><i style="background:var(--g38)"></i></div>
<div class="s" style="top:97.5%;background:var(--g40)"><i style="background:var(--g39)"></i></div>
<b></b></div>
<span class="t xt" style="left:845.9px;top:1164.0px">0</span>
<span class="t yt" style="left:838.4px;top:1142.5px">0</span>
<span class="t xt" style="left:925.9px;top:1164.0px">5</span>
<span class="t yt" style="left:838.4px;top:1061.8px">5</span>
<span class="t xt" style="left:1005.8px;top:1164.0px">10</span>
<span class="t yt" style="left:838.4px;top:981.0px">10</span>
<span class="t xt" style="left:1085.8px;top:1164.0px">15</span>
<span class="t yt" style="left:838.4px;top:900.2px">15</span>
<span class="t xt" style="left:1165.7px;top:1164.0px">20</span>
<span class="t yt" style="left:838.4px;top:819.5px">20</span>
<span class="t xl" style="left:1006.0px;top:1188.0px">X-axis</span>
<span class="t yl" style="left:800.0px;top:978.6px">Y-axis</span>
<span class="t cap" style="left:1002.0px;top:1208.0px">(95 ns)</span>
<div class="hm" style="left:1231.7px;top:819.5px;width:327.3px;height:324.7px;--g0:linear-gradient(90deg,#ffdf00,#ff4000 10%,#f00 20%,#ff8000 40%,#ff6c00 50%,#ff4000 60%,#f00 64.3%,#ac0000 70%,#8c0000 80%,#800000 90%,#800000);--g1:linear-gradient(90deg,#ffca00,#ff4000 10%,#ff1300 20%,#ff4300 30%,#ff8700 40%,#ff7100 50%,#ff4300 60%,#f00 64.6%,#b10000 70%,#910000 80%,#830000 90%,#830000);--g2:linear-gradient(90deg,#ffb600,#ff4000 10%,#ff2600 20%,#ff4600 30%,#ff8f00 40%,#ff7600 50%,#ff4600 60%,#f00 64.9%,#b60000 70%,#960000 80%,#860000 90%,#860000);--g3:linear-gradient(90deg,#ffa100,#ff4000 10%,#ff3900 20%,#ff4900 30%,#ff9700 40%,#ff7b00 50%,#ff4900 60%,#f00 65.2%,#ba0000 70%,#9b0000 80%,#890000 90%,#890000);--g4:linear-gradient(90deg,#ff8c00,#ff4000 10%,#ff4c00 20%,#ff4c00 30%,#ff9f00 40%,#ff8000 50%,#ff4c00 60%,#f00 65.5%,#bf0000 70%,#9f0000 80%,#8c0000 90%,#8c0000);--g5:linear-gradient(90deg,#ff8400,#ff4b00 10%,#ff6900 20%,#ff5400 30%,#ff9f00 40%,#ff8300 50%,#ff5400 60%,#f00 66.4%,#cf0000 70%,#b30000 80%,#a10000 90%,#9c0000);--g6:linear-gradient(90deg,#ff7c00,#ff5600 10%,#ff8600 20%,#ff5c00 30%,#ff9f00 40%,#ff8600 50%,#ff5c00 60%,#f00 67.4%,#df0000 70%,#c60000 80%,#b60000 90%,#ac0000);--g7:linear-gradient(90deg,#ff7400,#ff6100 10%,#ffa300 20%,#ff6400 30%,#ff9f00 40%,#ff8900 50%,#ff6400 60%,#f00 68.6%,#ef0000 70%,#d90000 80%,#bc0000);--g8:linear-gradient(90deg,#ff6c00,#ff6c00 10%,#ffbf00 20%,#ff6c00 30%,#ff9f00 40%,#ff8c00 50%,#ff6c00 60%,#f00 70%,#ec0000 80%,#df0000 90%,#c00);--g9:linear-gradient(90deg,#ff7900,#ff7400 10%,#ffb700 20%,#ff6c00 30%,#ff9f00 40%,#ff8c00 50%,#ff6c00 60%,#ff0800 70%,#f00 74.2%,#f40000 80%,#ea0000 90%,#d90000);--g10:linear-gradient(90deg,#ff8600,#ff7c00 10%,#ffaf00 20%,#ff6c00 30%,#ff9f00 40%,#ff8c00 50%,#ff6c00 60%,#ff1000 70%,#f00 78.3%,#f50000 90%,#e50000);--g11:linear-gradient(90deg,#ff9300,#ff8400 10%,#ffa700 20%,#ff6c00 30%,#ff9f00 40%,#ff8c00 50%,#ff6c00 60%,#ff1800 70%,#ff0500 80%,#f00 91.1%,#f20000);--g12:linear-gradient(90deg,#ff9f00,#ff8c00 10%,#ff9f00 20%,#ff6c00 30%,#ff9f00 40%,#ff8c00 50%,#ff6c00 60%,#ff2000 70%,#ff0d00 80%,#ff0d00 90%,#f00);--g13:linear-gradient(90deg,#ffc200,#ffa900 10%,#ffa300 20%,#ff7400 30%,#ffbc00 40%,#ffb900 50%,#f90 60%,#ff3800 70%,#ff3100 80%,#ff1000);--g14:linear-gradient(90deg,#ffe500,#ffa600 20%,#ff7c00 30%,#ffd900 40%,#ffe500 50%,#ffc600 60%,#ff5000 70%,#ff5600 80%,#ff3600 90%,#ff2000);--g15:linear-gradient(90deg,#f5ff0a,#ff0 2.5%,#ffe200 10%,#ffa900 20%,#ff8400 30%,#fff500 40%,#ff0 43.3%,#ecff13 50%,#ff0 56%,#fff200 60%,#ff6800 70%,#ff7b00 80%,#ff4b00 90%,#ff3000);--g16:linear-gradient(90deg,#d2ff2d,#ff0 10%,#ffac00 20%,#ff8c00 30%,#ff0 38.6%,#ecff13 40%,#bfff40 50%,#dfff20 60%,#ff0 62%,#ff8000 70%,#ff9f00 80%,#ff6000 90%,#ff4000);--g17:linear-gradient(90deg,#d6ff29,#ff0 10%,#ffa100 20%,#ff8600 30%,#ff0 38.7%,#edff12 40%,#c7ff38 50%,#e2ff1d 60%,#ff0 61.7%,#ff7300 70%,#ff8f00 80%,#ff5800 90%,#ff3800);--g18:linear-gradient(90deg,#d9ff26,#ff0 10%,#ff9600 20%,#ff8000 30%,#ff0 38.9%,#efff10 40%,#cfff30 50%,#e5ff1a 60%,#ff0 61.4%,#f60 70%,#ff8000 80%,#ff5000 90%,#ff3000);--g19:linear-gradient(90deg,#dcff23,#ff0 10%,#ff8b00 20%,#ff7900 30%,#ff0 39%,#f1ff0e 40%,#d7ff28 50%,#e9ff16 60%,#ff0 61.2%,#ff5900 70%,#ff7000 80%,#ff4800 90%,#ff2800);--g20:linear-gradient(90deg,#dfff20,#ff0 10%,#ff8000 20%,#ff7300 30%,#ff0 39.2%,#f2ff0d 40%,#dfff20 50%,#ecff13 60%,#ff0 61%,#ff4c00 70%,#ff6000 80%,#ff2000);--g21:linear-gradient(90deg,#ecff13,#ff0 7.1%,#fff700 10%,#ff8300 20%,#ff7900 30%,#ff0 39.3%,#f5ff0a 40%,#dfff20 50%,#e9ff16 60%,#ff0 61.1%,#ff4500 70%,#ff5300 80%,#ff4300 90%,#ff2b00);--g22:linear-gradient(90deg,#f9ff06,#ff0 2.9%,#ffef00 10%,#ff8600 20%,#ff8000 30%,#ff0 39.5%,#f9ff06 40%,#dfff20 50%,#e5ff1a 60%,#ff0 61.2%,#ff3d00 70%,#ff4600 80%,#ff4600 90%,#ff3600);--g23:linear-gradient(90deg,#fff900,#ffe700 10%,#ff8900 20%,#ff8600 30%,#ff0 39.7%,#dfff20 50%,#e2ff1d 60%,#ff0 61.2%,#ff3500 70%,#ff3900 80%,#ff4900 90%,#ff4100);--g24:linear-gradient(90deg,#ffec00,#ffdf00 10%,#ff8c00 20%,#ff8c00 30%,#ff0 40%,#dfff20 50%,#dfff20 60%,#ff0 61.3%,#ff2d00 70%,#ff2d00 80%,#ff4c00 90%,#ff4c00);--g25:linear-gradient(90deg,#ffdc00,#ffd200 10%,#ffa400 20%,#ffa400 30%,#ff0 39.2%,#f7ff08 40%,#d7ff28 50%,#d2ff2d 60%,#ff0 61.9%,#ff3d00 70%,#ff3d00 80%,#ff5400 90%,#ff5100);--g26:linear-gradient(90deg,#fc0,#ffbc00 20%,#ffbc00 30%,#ff0 38.1%,#efff10 40%,#cfff30 50%,#c6ff39 60%,#ff0 62.4%,#ff4c00 70%,#ff4c00 80%,#ff5c00 90%,#ff5600);--g27:linear-gradient(90deg,#ffbc00,#ffb900 10%,#ffd400 20%,#ffd400 30%,#ff0 36.4%,#e7ff18 40%,#c7ff38 50%,#b9ff46 60%,#ff0 63%,#ff5c00 70%,#ff5c00 80%,#ff6400 90%,#ff5b00);--g28:linear-gradient(90deg,#ffac00,#ffac00 10%,#ffec00 20%,#ffec00 30%,#ff0 33.8%,#dfff20 40%,#bfff40 50%,#acff53 60%,#ff0 63.6%,#ff6c00 70%,#ff6c00 90%,#ff6000);--g29:linear-gradient(90deg,#ffa900,#ffa900 10%,#ffd400 20%,#ffd900 30%,#ff0 35.1%,#daff25 40%,#a9ff56 60%,#ff0 63.7%,#ff6c00 70%,#ff6900 90%,#ff5b00);--g30:linear-gradient(90deg,#ffa600,#ffa600 10%,#ffbc00 20%,#ffc600 30%,#ff0 35.8%,#d6ff29 40%,#a6ff59 60%,#ff0 63.8%,#ff6c00 70%,#f60 80%,#f60 90%,#ff5600);--g31:linear-gradient(90deg,#ffa300,#ffa400 20%,#ffb300 30%,#ff0 36.2%,#d1ff2e 40%,#bfff40 50%,#a3ff5c 60%,#ff0 63.9%,#ff6c00 70%,#ff6300 80%,#ff6300 90%,#ff5100);--g32:linear-gradient(90deg,#ff9f00,#ff9f00 10%,#ff8c00 20%,#ff9f00 30%,#ff0 36.5%,#cf3 40%,#bfff40 50%,#9fff60 60%,#ff0 63.9%,#ff6c00 70%,#ff6000 80%,#ff6000 90%,#ff4c00);--g33:linear-gradient(90deg,#ff9300,#ff8900 20%,#ff9f00 30%,#ff0 36.2%,#c4ff3b 40%,#c7ff38 50%,#bcff43 60%,#ff0 63%,#ff6400 70%,#ff6b00 80%,#ff6b00 90%,#ff5400);--g34:linear-gradient(90deg,#ff8600,#ff8000 10%,#ff8600 20%,#ff9f00 30%,#ff0 35.9%,#bcff43 40%,#cfff30 50%,#d9ff26 60%,#ff0 61.9%,#ff5c00 70%,#ff7600 80%,#ff7600 90%,#ff5c00);--g35:linear-gradient(90deg,#ff7900,#ff7000 10%,#ff8300 20%,#ff9f00 30%,#ff0 35.6%,#b4ff4b 40%,#f5ff0a 60%,#ff0 60.5%,#ff5400 70%,#ff8100 80%,#ff8100 90%,#ff6400);--g36:linear-gradient(90deg,#ff6c00,#ff6000 10%,#ff9f00 30%,#ff0 35.4%,#acff53 40%,#ff0 56.2%,#ffec00 60%,#ff4c00 70%,#ff8c00 80%,#ff8c00 90%,#ff6c00);--g37:linear-gradient(90deg,#ff6c00,#ff6300 10%,#ff9f00 30%,#ff0 35.8%,#b9ff46 40%,#ff0 52.9%,#ffd900 60%,#ff4900 70%,#ff9400 80%,#ff9c00 90%,#ff7400);--g38:linear-gradient(90deg,#ff6c00,#f60 10%,#ff9f00 30%,#ff0 36.2%,#c6ff39 40%,#ff0 50%,#ffc600 60%,#ff4600 70%,#ff9c00 80%,#ffac00 90%,#ff7c00);--g39:linear-gradient(90deg,#ff6c00,#ff6900 10%,#ff8000 20%,#ff9f00 30%,#ff0 36.8%,#d2ff2d 40%,#ff0 47.4%,#ffb300 60%,#ff4300 70%,#ffa400 80%,#ffbc00 90%,#ff8400);--g40:linear-gradient(90deg,#ff6c00,#ff6c00 10%,#ff8000 20%,#ff9f00 30%,#ff0 37.5%,#dfff20 40%,#ff0 45%,#ff9f00 60%,#ff4000 70%,#ffac00 80%,#fc0 90%,#ff8c00)">
<div class="s" style="top:0%;background:var(--g1)"><i style="background:var(--g0)"></i></div>
<div class="s" style="top:2.5%;background:var(--g2)"><i style="background:var(--g1)"></i></div>
<div class="s" style="top:5%;background:var(--g3)"><i style="background:var(--g2)"></i></div>
<div class="s" style="top:7.5%;background:var(--g4)"><i style="background:var(--g3)"></i></div>
<div class="s" style="top:10%;background:var(--g5)"><i style="background:var(--g4)"></i></div>
<div class="s" style="top:12.5%;background:var(--g6)"><i style="background:var(--g5)"></i></div>
<div class="s" style="top:15%;background:var(--g7)"><i style="background:var(--g6)"></i></div>
<div class="s" style="top:17.5%;background:var(--g8)"><i style="background:var(--g7)"></i></div>
<div class="s" style="top:20%;background:var(--g9)"><i style="background:var(--g8)"></i></div>
<div class="s" style="top:22.5%;background:var(--g10)"><i style="background:var(--g9)"></i></div>
<div class="s" style="top:25%;background:var(--g11)"><i style="background:var(--g10)"></i></div>
<div class="s" style="top:27.5%;background:var(--g12)"><i style="background:var(--g11)"></i></div>
<div class="s" style="top:30%;background:var(--g13)"><i style="background:var(--g12)"></i></div>
<div class="s" style="top:32.5%;background:var(--g14)"><i style="background:var(--g13)"></i></div>
<div class="s" style="top:35%;background:var(--g15)"><i style="background:var(--g14)"></i></div>
<div class="s" style="top:37.5%;background:var(--g16)"><i style="background:var(--g15)"></i></div>
<div class="s" style="top:40%;background:var(--g17)"><i style="background:var(--g16)"></i></div>
<div class="s" style="top:42.5%;background:var(--g18)"><i style="background:var(--g17)"></i></div>
<div class="s" style="top:45%;background:var(--g19)"><i style="background:var(--g18)"></i></div>
<div class="s" style="top:47.5%;background:var(--g20)"><i style="background:var(--g19)"></i></div>
<div class="s" style="top:50%;background:var(--g21)"><i style="background:var(--g20)"></i></div>
<div class="s" style="top:52.5%;background:var(--g22)"><i style="background:var(--g21)"></i></div>
<div class="s" style="top:55%;background:var(--g23)"><i style="background:var(--g22)"></i></div>
<div class="s" style="top:57.5%;background:var(--g24)"><i style="background:var(--g23)"></i></div>
<div class="s" style="top:60%;background:var(--g25)"><i style="background:var(--g24)"></i></div>
<div class="s" style="top:62.5%;background:var(--g26)"><i style="background:var(--g25)"></i></div>
<div class="s" style="top:65%;background:var(--g27)"><i style="background:var(--g26)"></i></div>
<div class="s" style="top:67.5%;background:var(--g28)"><i style="background:var(--g27)"></i></div>
<div class="s" style="top:70%;background:var(--g29)"><i style="background:var(--g28)"></i></div>
<div class="s" style="top:72.5%;background:var(--g30)"><i style="background:var(--g29)"></i></div>
<div class="s" style="top:75%;background:var(--g31)"><i style="background:var(--g30)"></i></div>
<div class="s" style="top:77.5%;background:var(--g32)"><i style="background:var(--g31)"></i></div>
<div class="s" style="top:80%;background:var(--g33)"><i style="background:var(--g32)"></i></div>
<div class="s" style="top:82.5%;background:var(--g34)"><i style="background:var(--g33)"></i></div>
<div class="s" style="top:85%;background:var(--g35)"><i style="background:var(--g34)"></i></div>
<div class="s" style="top:87.5%;background:var(--g36)"><i style="background:var(--g35)"></i></div>
<div class="s" style="top:90%;background:var(--g37)"><i style="background:var(--g36)"></i></div>
<div class="s" style="top:92.5%;background:var(--g38)"><i style="background:var(--g37)"></i></div>
<div class="s" style="top:95%;background:var(--g39)"><i style="background:var(--g38)"></i></div>
<div class="s" style="top:97.5%;background:var(--g40)"><i style="background:var(--g39)"></i></div>
<b></b></div>
<span class="t xt" style="left:1231.7px;top:1165.0px">0</span>
<span class="t yt" style="left:1223.6px;top:1144.2px">0</span>
<span class="t xt" style="left:1313.5px;top:1165.0px">5</span>
<span class="t yt" style="left:1223.6px;top:1063.0px">5</span>
<span class="t xt" style="left:1395.3px;top:1165.0px">10</span>
<span class="t yt" style="left:1223.6px;top:981.9px">10</span>
<span class="t xt" style="left:1477.2px;top:1165.0px">15</span>
<span class="t yt" style="left:1223.6px;top:900.7px">15</span>
<span class="t xt" style="left:1559.0px;top:1165.0px">20</span>
<span class="t yt" style="left:1223.6px;top:819.5px">20</span>
<span class="t xl" style="left:1392.4px;top:1179.0px">X-axis</span>
<span class="t yl" style="left:1186.0px;top:978.6px">Y-axis</span>
<span class="t cap" style="left:1390.0px;top:1207.0px">(105 ns)</span>
<div class="cb"></div><span class="cl" style="left:689px">0%</span><span class="cl" style="left:884px">100%</span>
<div class="w" style="left:395.5px;top:742px;width:12px;height:26px"></div><div style="position:absolute;left:4px;top:794px;width:391px;height:1px;background:#c4c4c4"></div><div class="w" style="left:1170px;top:745px;width:14px;height:26px"></div><div class="w" style="left:784.5px;top:1155px;width:14px;height:26px"></div>
</body></html>
